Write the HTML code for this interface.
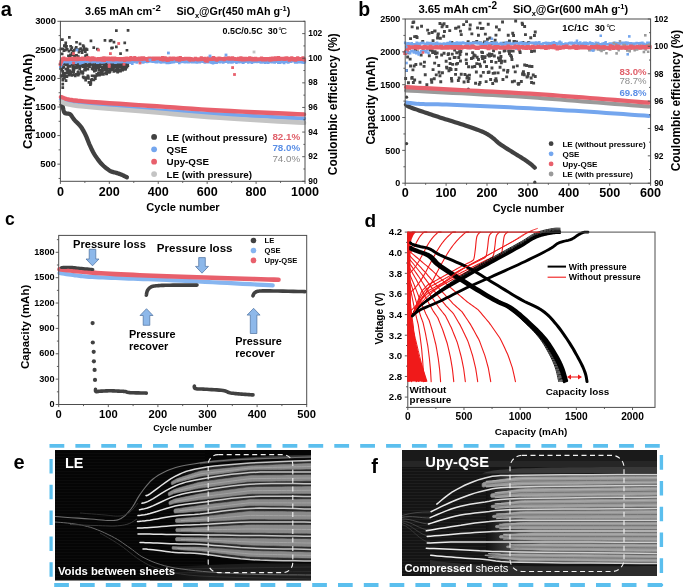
<!DOCTYPE html>
<html><head><meta charset="utf-8"><style>
html,body{margin:0;padding:0;background:#fff;}
svg{display:block;will-change:transform;}
text{font-family:"Liberation Sans",sans-serif;}
</style></head><body>
<svg width="685" height="588" viewBox="0 0 685 588">
<rect width="685" height="588" fill="#fff"/>
<path d="M59.7,74.8h2.7v2.7h-2.7zM59.1,65.5h2.7v2.7h-2.7zM59.7,61.3h2.7v2.7h-2.7zM59.5,62.8h2.7v2.7h-2.7zM59.5,47.5h2.7v2.7h-2.7zM59.8,63.5h2.7v2.7h-2.7zM59.9,74.2h2.7v2.7h-2.7zM59.4,67.4h2.7v2.7h-2.7zM60.4,65.5h2.7v2.7h-2.7zM60.5,68.9h2.7v2.7h-2.7zM60.8,52.5h2.7v2.7h-2.7zM61.7,72.0h2.7v2.7h-2.7zM61.0,38.3h2.7v2.7h-2.7zM61.3,70.0h2.7v2.7h-2.7zM61.3,47.4h2.7v2.7h-2.7zM61.5,77.5h2.7v2.7h-2.7zM61.6,62.6h2.7v2.7h-2.7zM61.2,66.3h2.7v2.7h-2.7zM62.0,60.8h2.7v2.7h-2.7zM61.2,74.4h2.7v2.7h-2.7zM63.1,76.7h2.7v2.7h-2.7zM62.5,65.8h2.7v2.7h-2.7zM62.5,49.4h2.7v2.7h-2.7zM62.5,62.9h2.7v2.7h-2.7zM63.0,73.1h2.7v2.7h-2.7zM63.0,44.2h2.7v2.7h-2.7zM64.1,61.0h2.7v2.7h-2.7zM63.8,71.8h2.7v2.7h-2.7zM63.5,61.2h2.7v2.7h-2.7zM63.7,75.0h2.7v2.7h-2.7zM63.7,75.3h2.7v2.7h-2.7zM63.9,48.9h2.7v2.7h-2.7zM64.6,63.2h2.7v2.7h-2.7zM64.2,44.1h2.7v2.7h-2.7zM64.7,60.7h2.7v2.7h-2.7zM64.4,62.2h2.7v2.7h-2.7zM64.4,45.4h2.7v2.7h-2.7zM64.4,46.1h2.7v2.7h-2.7zM64.5,67.7h2.7v2.7h-2.7zM64.6,59.9h2.7v2.7h-2.7zM65.6,74.7h2.7v2.7h-2.7zM65.2,61.6h2.7v2.7h-2.7zM65.2,45.1h2.7v2.7h-2.7zM65.5,71.6h2.7v2.7h-2.7zM65.4,62.2h2.7v2.7h-2.7zM66.1,69.3h2.7v2.7h-2.7zM65.7,61.0h2.7v2.7h-2.7zM65.5,75.3h2.7v2.7h-2.7zM65.9,48.1h2.7v2.7h-2.7zM66.5,64.9h2.7v2.7h-2.7zM66.4,61.0h2.7v2.7h-2.7zM67.0,71.3h2.7v2.7h-2.7zM66.6,66.5h2.7v2.7h-2.7zM67.4,60.6h2.7v2.7h-2.7zM66.7,63.3h2.7v2.7h-2.7zM67.1,54.4h2.7v2.7h-2.7zM67.0,61.8h2.7v2.7h-2.7zM67.7,72.8h2.7v2.7h-2.7zM67.6,49.8h2.7v2.7h-2.7zM67.7,73.7h2.7v2.7h-2.7zM68.5,70.6h2.7v2.7h-2.7zM68.0,69.2h2.7v2.7h-2.7zM68.3,59.9h2.7v2.7h-2.7zM68.3,69.7h2.7v2.7h-2.7zM69.4,70.4h2.7v2.7h-2.7zM68.8,60.1h2.7v2.7h-2.7zM68.8,55.3h2.7v2.7h-2.7zM68.9,65.0h2.7v2.7h-2.7zM69.1,53.4h2.7v2.7h-2.7zM69.5,71.7h2.7v2.7h-2.7zM69.3,44.9h2.7v2.7h-2.7zM69.6,60.8h2.7v2.7h-2.7zM69.6,61.2h2.7v2.7h-2.7zM69.5,59.8h2.7v2.7h-2.7zM69.8,48.3h2.7v2.7h-2.7zM69.5,73.1h2.7v2.7h-2.7zM70.9,61.6h2.7v2.7h-2.7zM70.3,63.1h2.7v2.7h-2.7zM71.1,70.7h2.7v2.7h-2.7zM70.5,63.0h2.7v2.7h-2.7zM70.5,46.2h2.7v2.7h-2.7zM70.6,74.1h2.7v2.7h-2.7zM70.8,53.2h2.7v2.7h-2.7zM70.8,51.5h2.7v2.7h-2.7zM70.8,70.9h2.7v2.7h-2.7zM70.9,61.8h2.7v2.7h-2.7zM72.1,64.8h2.7v2.7h-2.7zM71.5,53.6h2.7v2.7h-2.7zM71.8,68.2h2.7v2.7h-2.7zM71.8,64.8h2.7v2.7h-2.7zM72.0,61.3h2.7v2.7h-2.7zM72.0,50.1h2.7v2.7h-2.7zM71.6,67.6h2.7v2.7h-2.7zM72.4,70.4h2.7v2.7h-2.7zM72.5,62.9h2.7v2.7h-2.7zM72.8,73.3h2.7v2.7h-2.7zM73.9,74.6h2.7v2.7h-2.7zM73.0,48.9h2.7v2.7h-2.7zM72.7,68.0h2.7v2.7h-2.7zM73.2,54.3h2.7v2.7h-2.7zM72.9,65.9h2.7v2.7h-2.7zM73.7,61.0h2.7v2.7h-2.7zM74.2,61.8h2.7v2.7h-2.7zM74.2,66.1h2.7v2.7h-2.7zM74.2,47.5h2.7v2.7h-2.7zM74.8,73.1h2.7v2.7h-2.7zM74.7,61.4h2.7v2.7h-2.7zM75.2,63.8h2.7v2.7h-2.7zM74.9,46.1h2.7v2.7h-2.7zM75.2,66.5h2.7v2.7h-2.7zM75.2,62.1h2.7v2.7h-2.7zM75.2,54.0h2.7v2.7h-2.7zM76.5,71.3h2.7v2.7h-2.7zM76.5,73.1h2.7v2.7h-2.7zM75.7,63.2h2.7v2.7h-2.7zM76.2,61.2h2.7v2.7h-2.7zM75.9,60.1h2.7v2.7h-2.7zM76.2,60.4h2.7v2.7h-2.7zM76.4,64.0h2.7v2.7h-2.7zM76.9,70.6h2.7v2.7h-2.7zM76.9,73.8h2.7v2.7h-2.7zM76.9,55.2h2.7v2.7h-2.7zM76.7,72.4h2.7v2.7h-2.7zM77.2,65.7h2.7v2.7h-2.7zM77.2,48.2h2.7v2.7h-2.7zM77.0,60.4h2.7v2.7h-2.7zM77.1,71.3h2.7v2.7h-2.7zM77.6,50.9h2.7v2.7h-2.7zM77.9,72.5h2.7v2.7h-2.7zM78.3,67.5h2.7v2.7h-2.7zM78.1,61.3h2.7v2.7h-2.7zM78.0,64.7h2.7v2.7h-2.7zM79.0,60.8h2.7v2.7h-2.7zM78.6,66.0h2.7v2.7h-2.7zM78.5,59.9h2.7v2.7h-2.7zM78.5,59.8h2.7v2.7h-2.7zM79.1,62.7h2.7v2.7h-2.7zM78.9,61.4h2.7v2.7h-2.7zM79.4,63.1h2.7v2.7h-2.7zM79.4,47.2h2.7v2.7h-2.7zM80.2,64.0h2.7v2.7h-2.7zM80.0,70.3h2.7v2.7h-2.7zM79.8,62.8h2.7v2.7h-2.7zM80.2,70.2h2.7v2.7h-2.7zM80.3,64.9h2.7v2.7h-2.7zM80.3,49.4h2.7v2.7h-2.7zM80.3,62.7h2.7v2.7h-2.7zM80.6,63.2h2.7v2.7h-2.7zM80.9,70.9h2.7v2.7h-2.7zM80.8,51.2h2.7v2.7h-2.7zM80.7,71.1h2.7v2.7h-2.7zM81.6,71.3h2.7v2.7h-2.7zM81.3,61.9h2.7v2.7h-2.7zM81.3,72.0h2.7v2.7h-2.7zM81.6,64.9h2.7v2.7h-2.7zM81.8,44.3h2.7v2.7h-2.7zM82.0,64.9h2.7v2.7h-2.7zM82.0,65.4h2.7v2.7h-2.7zM81.8,75.6h2.7v2.7h-2.7zM82.3,48.6h2.7v2.7h-2.7zM82.6,76.5h2.7v2.7h-2.7zM82.5,45.5h2.7v2.7h-2.7zM83.3,63.9h2.7v2.7h-2.7zM82.8,47.6h2.7v2.7h-2.7zM83.1,68.6h2.7v2.7h-2.7zM83.4,68.2h2.7v2.7h-2.7zM83.1,65.3h2.7v2.7h-2.7zM83.5,48.0h2.7v2.7h-2.7zM83.9,76.3h2.7v2.7h-2.7zM84.1,61.3h2.7v2.7h-2.7zM84.0,50.3h2.7v2.7h-2.7zM84.1,68.8h2.7v2.7h-2.7zM84.2,61.8h2.7v2.7h-2.7zM84.2,54.5h2.7v2.7h-2.7zM84.1,67.0h2.7v2.7h-2.7zM84.5,47.5h2.7v2.7h-2.7zM84.8,76.4h2.7v2.7h-2.7zM84.7,47.6h2.7v2.7h-2.7zM84.6,63.8h2.7v2.7h-2.7zM85.8,65.1h2.7v2.7h-2.7zM84.3,78.8h2.7v2.7h-2.7zM85.5,53.6h2.7v2.7h-2.7zM86.0,64.5h2.7v2.7h-2.7zM85.7,63.8h2.7v2.7h-2.7zM85.7,48.3h2.7v2.7h-2.7zM86.5,64.2h2.7v2.7h-2.7zM86.0,63.7h2.7v2.7h-2.7zM86.5,74.5h2.7v2.7h-2.7zM86.6,67.9h2.7v2.7h-2.7zM85.6,63.9h2.7v2.7h-2.7zM87.1,77.0h2.7v2.7h-2.7zM87.6,81.1h2.7v2.7h-2.7zM87.5,62.3h2.7v2.7h-2.7zM87.0,75.5h2.7v2.7h-2.7zM87.7,61.6h2.7v2.7h-2.7zM87.8,59.7h2.7v2.7h-2.7zM87.6,63.5h2.7v2.7h-2.7zM88.2,59.9h2.7v2.7h-2.7zM89.0,83.2h2.7v2.7h-2.7zM88.2,65.2h2.7v2.7h-2.7zM89.2,81.2h2.7v2.7h-2.7zM89.6,59.8h2.7v2.7h-2.7zM89.1,63.0h2.7v2.7h-2.7zM89.5,82.0h2.7v2.7h-2.7zM90.3,61.7h2.7v2.7h-2.7zM89.6,60.0h2.7v2.7h-2.7zM89.6,39.5h2.7v2.7h-2.7zM89.9,78.9h2.7v2.7h-2.7zM90.8,67.5h2.7v2.7h-2.7zM90.1,62.7h2.7v2.7h-2.7zM90.4,62.4h2.7v2.7h-2.7zM90.7,74.4h2.7v2.7h-2.7zM91.0,63.0h2.7v2.7h-2.7zM91.1,74.4h2.7v2.7h-2.7zM90.5,78.0h2.7v2.7h-2.7zM91.4,66.1h2.7v2.7h-2.7zM91.4,65.5h2.7v2.7h-2.7zM92.1,68.0h2.7v2.7h-2.7zM92.5,74.4h2.7v2.7h-2.7zM92.8,64.2h2.7v2.7h-2.7zM92.6,63.8h2.7v2.7h-2.7zM92.6,74.7h2.7v2.7h-2.7zM92.5,78.6h2.7v2.7h-2.7zM93.6,66.4h2.7v2.7h-2.7zM93.0,69.7h2.7v2.7h-2.7zM94.2,74.9h2.7v2.7h-2.7zM93.8,60.9h2.7v2.7h-2.7zM94.4,65.2h2.7v2.7h-2.7zM94.9,69.1h2.7v2.7h-2.7zM94.0,77.3h2.7v2.7h-2.7zM95.1,62.8h2.7v2.7h-2.7zM94.8,66.5h2.7v2.7h-2.7zM94.9,67.0h2.7v2.7h-2.7zM95.0,61.7h2.7v2.7h-2.7zM95.5,74.0h2.7v2.7h-2.7zM95.3,64.1h2.7v2.7h-2.7zM95.5,60.0h2.7v2.7h-2.7zM95.4,72.9h2.7v2.7h-2.7zM95.5,73.0h2.7v2.7h-2.7zM96.0,47.7h2.7v2.7h-2.7zM96.3,66.0h2.7v2.7h-2.7zM96.2,65.9h2.7v2.7h-2.7zM96.3,60.1h2.7v2.7h-2.7zM96.5,63.3h2.7v2.7h-2.7zM96.3,64.8h2.7v2.7h-2.7zM96.9,72.4h2.7v2.7h-2.7zM97.0,65.9h2.7v2.7h-2.7zM97.1,72.0h2.7v2.7h-2.7zM97.2,65.2h2.7v2.7h-2.7zM97.5,63.8h2.7v2.7h-2.7zM98.0,69.1h2.7v2.7h-2.7zM97.7,60.6h2.7v2.7h-2.7zM97.8,62.0h2.7v2.7h-2.7zM97.9,64.0h2.7v2.7h-2.7zM97.4,66.5h2.7v2.7h-2.7zM98.1,73.7h2.7v2.7h-2.7zM98.4,63.1h2.7v2.7h-2.7zM98.4,65.3h2.7v2.7h-2.7zM98.7,64.1h2.7v2.7h-2.7zM99.0,64.2h2.7v2.7h-2.7zM99.0,63.2h2.7v2.7h-2.7zM99.6,70.7h2.7v2.7h-2.7zM100.4,69.2h2.7v2.7h-2.7zM99.7,62.6h2.7v2.7h-2.7zM100.1,73.1h2.7v2.7h-2.7zM101.0,66.0h2.7v2.7h-2.7zM100.7,68.0h2.7v2.7h-2.7zM101.9,73.0h2.7v2.7h-2.7zM100.9,61.0h2.7v2.7h-2.7zM101.0,62.6h2.7v2.7h-2.7zM101.1,60.6h2.7v2.7h-2.7zM101.0,70.4h2.7v2.7h-2.7zM101.5,59.8h2.7v2.7h-2.7zM101.2,69.6h2.7v2.7h-2.7zM101.9,60.1h2.7v2.7h-2.7zM102.5,64.0h2.7v2.7h-2.7zM102.1,61.7h2.7v2.7h-2.7zM101.7,60.6h2.7v2.7h-2.7zM102.1,72.7h2.7v2.7h-2.7zM102.5,65.7h2.7v2.7h-2.7zM103.5,68.3h2.7v2.7h-2.7zM103.1,60.1h2.7v2.7h-2.7zM103.6,65.4h2.7v2.7h-2.7zM103.6,39.0h2.7v2.7h-2.7zM103.7,67.5h2.7v2.7h-2.7zM103.7,62.8h2.7v2.7h-2.7zM104.3,71.3h2.7v2.7h-2.7zM104.3,62.6h2.7v2.7h-2.7zM104.0,67.8h2.7v2.7h-2.7zM104.5,60.1h2.7v2.7h-2.7zM105.1,72.5h2.7v2.7h-2.7zM104.8,65.2h2.7v2.7h-2.7zM105.5,68.6h2.7v2.7h-2.7zM105.7,65.0h2.7v2.7h-2.7zM105.3,72.4h2.7v2.7h-2.7zM105.1,60.3h2.7v2.7h-2.7zM106.2,63.5h2.7v2.7h-2.7zM106.5,67.1h2.7v2.7h-2.7zM106.3,69.9h2.7v2.7h-2.7zM106.5,66.2h2.7v2.7h-2.7zM106.9,66.2h2.7v2.7h-2.7zM107.4,61.3h2.7v2.7h-2.7zM107.7,62.5h2.7v2.7h-2.7zM108.0,71.1h2.7v2.7h-2.7zM108.4,63.9h2.7v2.7h-2.7zM108.2,60.5h2.7v2.7h-2.7zM108.0,61.2h2.7v2.7h-2.7zM108.0,66.6h2.7v2.7h-2.7zM108.6,70.3h2.7v2.7h-2.7zM108.5,69.0h2.7v2.7h-2.7zM108.7,66.3h2.7v2.7h-2.7zM108.7,39.6h2.7v2.7h-2.7zM109.4,61.4h2.7v2.7h-2.7zM108.9,62.4h2.7v2.7h-2.7zM109.2,68.8h2.7v2.7h-2.7zM109.2,62.2h2.7v2.7h-2.7zM110.2,65.2h2.7v2.7h-2.7zM109.4,65.5h2.7v2.7h-2.7zM109.9,67.1h2.7v2.7h-2.7zM109.7,65.6h2.7v2.7h-2.7zM109.4,62.1h2.7v2.7h-2.7zM109.9,38.9h2.7v2.7h-2.7zM110.4,65.0h2.7v2.7h-2.7zM110.2,46.7h2.7v2.7h-2.7zM110.1,64.7h2.7v2.7h-2.7zM110.5,67.4h2.7v2.7h-2.7zM110.7,66.5h2.7v2.7h-2.7zM110.9,66.3h2.7v2.7h-2.7zM110.8,61.1h2.7v2.7h-2.7zM111.1,64.4h2.7v2.7h-2.7zM111.1,46.4h2.7v2.7h-2.7zM111.7,61.9h2.7v2.7h-2.7zM111.5,68.2h2.7v2.7h-2.7zM111.6,66.4h2.7v2.7h-2.7zM112.1,65.5h2.7v2.7h-2.7zM112.1,66.2h2.7v2.7h-2.7zM112.0,60.1h2.7v2.7h-2.7zM111.9,64.4h2.7v2.7h-2.7zM112.6,62.9h2.7v2.7h-2.7zM112.6,40.7h2.7v2.7h-2.7zM112.5,70.1h2.7v2.7h-2.7zM113.4,69.2h2.7v2.7h-2.7zM113.9,60.5h2.7v2.7h-2.7zM113.4,64.0h2.7v2.7h-2.7zM114.2,69.5h2.7v2.7h-2.7zM113.6,65.7h2.7v2.7h-2.7zM112.9,65.4h2.7v2.7h-2.7zM113.8,60.2h2.7v2.7h-2.7zM115.1,69.6h2.7v2.7h-2.7zM114.5,68.7h2.7v2.7h-2.7zM114.8,60.4h2.7v2.7h-2.7zM115.3,63.7h2.7v2.7h-2.7zM115.8,67.8h2.7v2.7h-2.7zM115.3,64.0h2.7v2.7h-2.7zM116.0,69.9h2.7v2.7h-2.7zM116.3,70.7h2.7v2.7h-2.7zM115.8,60.3h2.7v2.7h-2.7zM115.8,65.3h2.7v2.7h-2.7zM116.6,61.7h2.7v2.7h-2.7zM116.5,70.3h2.7v2.7h-2.7zM116.9,68.1h2.7v2.7h-2.7zM116.2,64.5h2.7v2.7h-2.7zM117.7,63.4h2.7v2.7h-2.7zM117.5,62.1h2.7v2.7h-2.7zM117.5,61.1h2.7v2.7h-2.7zM118.1,65.0h2.7v2.7h-2.7zM117.7,63.0h2.7v2.7h-2.7zM119.2,69.9h2.7v2.7h-2.7zM118.1,65.7h2.7v2.7h-2.7zM118.8,68.9h2.7v2.7h-2.7zM119.4,60.1h2.7v2.7h-2.7zM119.2,60.4h2.7v2.7h-2.7zM118.9,60.5h2.7v2.7h-2.7zM119.4,61.3h2.7v2.7h-2.7zM120.0,65.7h2.7v2.7h-2.7zM120.0,60.5h2.7v2.7h-2.7zM120.4,67.5h2.7v2.7h-2.7zM120.4,63.2h2.7v2.7h-2.7zM120.3,67.7h2.7v2.7h-2.7zM121.2,66.4h2.7v2.7h-2.7zM121.0,63.0h2.7v2.7h-2.7zM121.8,61.6h2.7v2.7h-2.7zM121.8,60.5h2.7v2.7h-2.7zM121.3,68.9h2.7v2.7h-2.7zM121.9,64.7h2.7v2.7h-2.7zM122.0,62.1h2.7v2.7h-2.7zM122.2,65.7h2.7v2.7h-2.7zM123.1,62.9h2.7v2.7h-2.7zM122.8,62.7h2.7v2.7h-2.7zM123.1,66.3h2.7v2.7h-2.7zM122.9,61.7h2.7v2.7h-2.7zM122.4,62.5h2.7v2.7h-2.7zM123.1,63.7h2.7v2.7h-2.7zM123.4,41.6h2.7v2.7h-2.7zM123.5,68.0h2.7v2.7h-2.7zM123.6,65.4h2.7v2.7h-2.7zM124.3,67.7h2.7v2.7h-2.7zM124.2,66.5h2.7v2.7h-2.7zM124.4,62.3h2.7v2.7h-2.7zM124.5,65.0h2.7v2.7h-2.7zM124.3,64.4h2.7v2.7h-2.7zM124.8,64.7h2.7v2.7h-2.7zM125.6,61.3h2.7v2.7h-2.7zM124.6,65.8h2.7v2.7h-2.7zM125.6,65.8h2.7v2.7h-2.7zM125.6,48.9h2.7v2.7h-2.7zM126.0,62.3h2.7v2.7h-2.7zM125.8,60.0h2.7v2.7h-2.7zM126.5,64.4h2.7v2.7h-2.7zM126.1,59.8h2.7v2.7h-2.7zM126.6,60.9h2.7v2.7h-2.7zM126.3,63.0h2.7v2.7h-2.7zM126.7,29.1h2.7v2.7h-2.7zM68.0,36.1h2.7v2.7h-2.7zM64.4,41.5h2.7v2.7h-2.7zM75.2,40.9h2.7v2.7h-2.7zM78.7,42.6h2.7v2.7h-2.7zM92.4,46.2h2.7v2.7h-2.7zM115.0,29.3h2.7v2.7h-2.7zM115.0,45.6h2.7v2.7h-2.7zM119.2,52.2h2.7v2.7h-2.7zM61.4,78.7h2.7v2.7h-2.7zM61.4,82.7h2.7v2.7h-2.7zM61.4,86.2h2.7v2.7h-2.7zM64.7,79.2h2.7v2.7h-2.7z" fill="#414141"/>
<path d="M59.2,59.9h2.4v2.4h-2.4zM60.2,59.2h2.4v2.4h-2.4zM61.2,58.0h2.4v2.4h-2.4zM62.1,58.6h2.4v2.4h-2.4zM63.1,59.5h2.4v2.4h-2.4zM64.1,59.8h2.4v2.4h-2.4zM65.1,58.1h2.4v2.4h-2.4zM66.0,58.3h2.4v2.4h-2.4zM67.0,58.4h2.4v2.4h-2.4zM68.0,60.1h2.4v2.4h-2.4zM69.0,59.0h2.4v2.4h-2.4zM70.0,58.2h2.4v2.4h-2.4zM70.9,59.7h2.4v2.4h-2.4zM71.9,58.5h2.4v2.4h-2.4zM72.9,58.6h2.4v2.4h-2.4zM73.9,58.4h2.4v2.4h-2.4zM74.9,58.2h2.4v2.4h-2.4zM75.8,57.7h2.4v2.4h-2.4zM76.8,58.9h2.4v2.4h-2.4zM77.8,59.5h2.4v2.4h-2.4zM78.8,59.4h2.4v2.4h-2.4zM79.7,58.2h2.4v2.4h-2.4zM80.7,60.3h2.4v2.4h-2.4zM81.7,59.5h2.4v2.4h-2.4zM82.7,58.4h2.4v2.4h-2.4zM83.7,59.3h2.4v2.4h-2.4zM84.6,59.2h2.4v2.4h-2.4zM85.6,58.6h2.4v2.4h-2.4zM86.6,58.9h2.4v2.4h-2.4zM87.6,58.4h2.4v2.4h-2.4zM88.6,59.0h2.4v2.4h-2.4zM89.5,59.2h2.4v2.4h-2.4zM90.5,59.3h2.4v2.4h-2.4zM91.5,59.6h2.4v2.4h-2.4zM92.5,58.9h2.4v2.4h-2.4zM93.4,58.7h2.4v2.4h-2.4zM94.4,59.3h2.4v2.4h-2.4zM95.4,58.1h2.4v2.4h-2.4zM96.4,59.5h2.4v2.4h-2.4zM97.4,59.3h2.4v2.4h-2.4zM98.3,59.5h2.4v2.4h-2.4zM99.3,58.8h2.4v2.4h-2.4zM100.3,58.3h2.4v2.4h-2.4zM101.3,59.0h2.4v2.4h-2.4zM102.2,59.5h2.4v2.4h-2.4zM103.2,59.5h2.4v2.4h-2.4zM104.2,58.8h2.4v2.4h-2.4zM105.2,58.9h2.4v2.4h-2.4zM106.2,59.5h2.4v2.4h-2.4zM107.1,59.2h2.4v2.4h-2.4zM108.1,59.4h2.4v2.4h-2.4zM109.1,59.7h2.4v2.4h-2.4zM110.1,59.0h2.4v2.4h-2.4zM111.1,59.0h2.4v2.4h-2.4zM112.0,58.6h2.4v2.4h-2.4zM113.0,57.9h2.4v2.4h-2.4zM114.0,59.0h2.4v2.4h-2.4zM115.0,58.5h2.4v2.4h-2.4zM115.9,58.3h2.4v2.4h-2.4zM116.9,58.8h2.4v2.4h-2.4zM117.9,58.3h2.4v2.4h-2.4zM118.9,58.6h2.4v2.4h-2.4zM119.9,59.6h2.4v2.4h-2.4zM120.8,58.1h2.4v2.4h-2.4zM121.8,59.0h2.4v2.4h-2.4zM122.8,58.4h2.4v2.4h-2.4zM123.8,59.6h2.4v2.4h-2.4zM124.8,59.3h2.4v2.4h-2.4zM125.7,59.0h2.4v2.4h-2.4zM126.7,58.6h2.4v2.4h-2.4zM127.7,58.6h2.4v2.4h-2.4zM128.7,58.4h2.4v2.4h-2.4zM129.6,59.5h2.4v2.4h-2.4zM130.6,58.8h2.4v2.4h-2.4zM131.6,58.3h2.4v2.4h-2.4zM132.6,58.0h2.4v2.4h-2.4zM133.6,59.5h2.4v2.4h-2.4zM134.5,58.1h2.4v2.4h-2.4zM135.5,60.1h2.4v2.4h-2.4zM136.5,59.6h2.4v2.4h-2.4zM137.5,58.3h2.4v2.4h-2.4zM138.5,58.8h2.4v2.4h-2.4zM139.4,57.6h2.4v2.4h-2.4zM140.4,59.9h2.4v2.4h-2.4zM141.4,58.4h2.4v2.4h-2.4zM142.4,59.3h2.4v2.4h-2.4zM143.3,58.6h2.4v2.4h-2.4zM144.3,57.2h2.4v2.4h-2.4zM145.3,59.9h2.4v2.4h-2.4zM146.3,59.4h2.4v2.4h-2.4zM147.3,58.8h2.4v2.4h-2.4zM148.2,58.6h2.4v2.4h-2.4zM149.2,58.4h2.4v2.4h-2.4zM150.2,58.7h2.4v2.4h-2.4zM151.2,58.5h2.4v2.4h-2.4zM152.1,58.0h2.4v2.4h-2.4zM153.1,58.9h2.4v2.4h-2.4zM154.1,59.4h2.4v2.4h-2.4zM155.1,60.1h2.4v2.4h-2.4zM156.1,59.7h2.4v2.4h-2.4zM157.0,59.6h2.4v2.4h-2.4zM158.0,58.9h2.4v2.4h-2.4zM159.0,58.4h2.4v2.4h-2.4zM160.0,60.3h2.4v2.4h-2.4zM161.0,58.8h2.4v2.4h-2.4zM161.9,59.6h2.4v2.4h-2.4zM162.9,59.3h2.4v2.4h-2.4zM163.9,57.3h2.4v2.4h-2.4zM164.9,59.2h2.4v2.4h-2.4zM165.8,59.1h2.4v2.4h-2.4zM166.8,58.2h2.4v2.4h-2.4zM167.8,59.0h2.4v2.4h-2.4zM168.8,60.0h2.4v2.4h-2.4zM169.8,58.1h2.4v2.4h-2.4zM170.7,59.0h2.4v2.4h-2.4zM171.7,58.7h2.4v2.4h-2.4zM172.7,57.7h2.4v2.4h-2.4zM173.7,58.8h2.4v2.4h-2.4zM174.7,58.2h2.4v2.4h-2.4zM175.6,58.6h2.4v2.4h-2.4zM176.6,58.7h2.4v2.4h-2.4zM177.6,58.5h2.4v2.4h-2.4zM178.6,59.9h2.4v2.4h-2.4zM179.5,57.7h2.4v2.4h-2.4zM180.5,58.2h2.4v2.4h-2.4zM181.5,58.4h2.4v2.4h-2.4zM182.5,58.0h2.4v2.4h-2.4zM183.5,57.6h2.4v2.4h-2.4zM184.4,58.1h2.4v2.4h-2.4zM185.4,59.3h2.4v2.4h-2.4zM186.4,58.7h2.4v2.4h-2.4zM187.4,59.2h2.4v2.4h-2.4zM188.3,59.4h2.4v2.4h-2.4zM189.3,58.9h2.4v2.4h-2.4zM190.3,58.4h2.4v2.4h-2.4zM191.3,58.6h2.4v2.4h-2.4zM192.3,58.8h2.4v2.4h-2.4zM193.2,58.6h2.4v2.4h-2.4zM194.2,59.0h2.4v2.4h-2.4zM195.2,59.3h2.4v2.4h-2.4zM196.2,58.6h2.4v2.4h-2.4zM197.2,59.0h2.4v2.4h-2.4zM198.1,58.4h2.4v2.4h-2.4zM199.1,58.8h2.4v2.4h-2.4zM200.1,58.6h2.4v2.4h-2.4zM201.1,58.8h2.4v2.4h-2.4zM202.0,60.0h2.4v2.4h-2.4zM203.0,59.1h2.4v2.4h-2.4zM204.0,60.4h2.4v2.4h-2.4zM205.0,59.1h2.4v2.4h-2.4zM206.0,58.1h2.4v2.4h-2.4zM206.9,59.4h2.4v2.4h-2.4zM207.9,59.4h2.4v2.4h-2.4zM208.9,59.9h2.4v2.4h-2.4zM209.9,58.9h2.4v2.4h-2.4zM210.9,58.4h2.4v2.4h-2.4zM211.8,58.2h2.4v2.4h-2.4zM212.8,58.8h2.4v2.4h-2.4zM213.8,58.8h2.4v2.4h-2.4zM214.8,59.7h2.4v2.4h-2.4zM215.7,59.0h2.4v2.4h-2.4zM216.7,58.6h2.4v2.4h-2.4zM217.7,59.0h2.4v2.4h-2.4zM218.7,59.4h2.4v2.4h-2.4zM219.7,58.7h2.4v2.4h-2.4zM220.6,57.9h2.4v2.4h-2.4zM221.6,58.9h2.4v2.4h-2.4zM222.6,58.6h2.4v2.4h-2.4zM223.6,58.6h2.4v2.4h-2.4zM224.5,58.9h2.4v2.4h-2.4zM225.5,58.3h2.4v2.4h-2.4zM226.5,59.2h2.4v2.4h-2.4zM227.5,58.7h2.4v2.4h-2.4zM228.5,58.8h2.4v2.4h-2.4zM229.4,57.6h2.4v2.4h-2.4zM230.4,59.3h2.4v2.4h-2.4zM231.4,59.4h2.4v2.4h-2.4zM232.4,59.5h2.4v2.4h-2.4zM233.4,58.4h2.4v2.4h-2.4zM234.3,59.6h2.4v2.4h-2.4zM235.3,59.8h2.4v2.4h-2.4zM236.3,59.3h2.4v2.4h-2.4zM237.3,58.5h2.4v2.4h-2.4zM238.2,59.0h2.4v2.4h-2.4zM239.2,58.8h2.4v2.4h-2.4zM240.2,58.7h2.4v2.4h-2.4zM241.2,57.0h2.4v2.4h-2.4zM242.2,59.8h2.4v2.4h-2.4zM243.1,59.6h2.4v2.4h-2.4zM244.1,59.3h2.4v2.4h-2.4zM245.1,58.8h2.4v2.4h-2.4zM246.1,59.4h2.4v2.4h-2.4zM247.1,59.9h2.4v2.4h-2.4zM248.0,58.8h2.4v2.4h-2.4zM249.0,59.6h2.4v2.4h-2.4zM250.0,59.1h2.4v2.4h-2.4zM251.0,59.0h2.4v2.4h-2.4zM251.9,59.1h2.4v2.4h-2.4zM252.9,59.4h2.4v2.4h-2.4zM253.9,58.2h2.4v2.4h-2.4zM254.9,58.5h2.4v2.4h-2.4zM255.9,59.3h2.4v2.4h-2.4zM256.8,58.9h2.4v2.4h-2.4zM257.8,58.4h2.4v2.4h-2.4zM258.8,58.7h2.4v2.4h-2.4zM259.8,59.0h2.4v2.4h-2.4zM260.8,59.1h2.4v2.4h-2.4zM261.7,58.8h2.4v2.4h-2.4zM262.7,59.0h2.4v2.4h-2.4zM263.7,57.8h2.4v2.4h-2.4zM264.7,59.7h2.4v2.4h-2.4zM265.6,59.6h2.4v2.4h-2.4zM266.6,59.6h2.4v2.4h-2.4zM267.6,59.4h2.4v2.4h-2.4zM268.6,59.4h2.4v2.4h-2.4zM269.6,59.6h2.4v2.4h-2.4zM270.5,59.2h2.4v2.4h-2.4zM271.5,59.6h2.4v2.4h-2.4zM272.5,59.5h2.4v2.4h-2.4zM273.5,58.4h2.4v2.4h-2.4zM274.4,59.2h2.4v2.4h-2.4zM275.4,58.8h2.4v2.4h-2.4zM276.4,59.2h2.4v2.4h-2.4zM277.4,59.1h2.4v2.4h-2.4zM278.4,58.6h2.4v2.4h-2.4zM279.3,58.6h2.4v2.4h-2.4zM280.3,59.2h2.4v2.4h-2.4zM281.3,58.8h2.4v2.4h-2.4zM282.3,58.8h2.4v2.4h-2.4zM283.3,59.0h2.4v2.4h-2.4zM284.2,59.0h2.4v2.4h-2.4zM285.2,59.0h2.4v2.4h-2.4zM286.2,59.1h2.4v2.4h-2.4zM287.2,58.8h2.4v2.4h-2.4zM288.1,59.2h2.4v2.4h-2.4zM289.1,58.9h2.4v2.4h-2.4zM290.1,59.4h2.4v2.4h-2.4zM291.1,59.4h2.4v2.4h-2.4zM292.1,58.8h2.4v2.4h-2.4zM293.0,58.6h2.4v2.4h-2.4zM294.0,60.4h2.4v2.4h-2.4zM295.0,58.8h2.4v2.4h-2.4zM296.0,58.9h2.4v2.4h-2.4zM297.0,59.8h2.4v2.4h-2.4zM297.9,59.5h2.4v2.4h-2.4zM298.9,58.8h2.4v2.4h-2.4zM299.9,58.5h2.4v2.4h-2.4zM300.9,59.6h2.4v2.4h-2.4zM301.8,59.0h2.4v2.4h-2.4zM302.8,58.2h2.4v2.4h-2.4z" fill="#c4c4c4"/>
<path d="M59.1,65.5h2.6v2.6h-2.6zM59.8,64.1h2.6v2.6h-2.6zM60.6,62.6h2.6v2.6h-2.6zM61.3,61.1h2.6v2.6h-2.6zM62.0,59.2h2.6v2.6h-2.6zM62.8,59.5h2.6v2.6h-2.6zM63.5,60.6h2.6v2.6h-2.6zM64.2,60.6h2.6v2.6h-2.6zM65.0,60.8h2.6v2.6h-2.6zM65.7,60.2h2.6v2.6h-2.6zM66.4,60.2h2.6v2.6h-2.6zM67.2,60.6h2.6v2.6h-2.6zM67.9,60.3h2.6v2.6h-2.6zM68.6,61.8h2.6v2.6h-2.6zM69.4,60.9h2.6v2.6h-2.6zM70.1,59.6h2.6v2.6h-2.6zM70.8,61.4h2.6v2.6h-2.6zM71.6,60.5h2.6v2.6h-2.6zM72.3,60.5h2.6v2.6h-2.6zM73.0,60.4h2.6v2.6h-2.6zM73.8,60.2h2.6v2.6h-2.6zM74.5,61.5h2.6v2.6h-2.6zM75.2,60.3h2.6v2.6h-2.6zM76.0,60.3h2.6v2.6h-2.6zM76.7,60.6h2.6v2.6h-2.6zM77.4,60.1h2.6v2.6h-2.6zM78.2,60.5h2.6v2.6h-2.6zM78.9,62.1h2.6v2.6h-2.6zM79.6,60.7h2.6v2.6h-2.6zM80.4,61.4h2.6v2.6h-2.6zM81.1,60.8h2.6v2.6h-2.6zM81.8,61.2h2.6v2.6h-2.6zM82.6,60.2h2.6v2.6h-2.6zM83.3,60.0h2.6v2.6h-2.6zM84.0,60.2h2.6v2.6h-2.6zM84.8,60.5h2.6v2.6h-2.6zM85.5,59.3h2.6v2.6h-2.6zM86.3,60.4h2.6v2.6h-2.6zM87.0,60.6h2.6v2.6h-2.6zM87.7,59.3h2.6v2.6h-2.6zM88.5,60.2h2.6v2.6h-2.6zM89.2,60.2h2.6v2.6h-2.6zM89.9,59.8h2.6v2.6h-2.6zM90.7,60.8h2.6v2.6h-2.6zM91.4,60.5h2.6v2.6h-2.6zM92.1,60.5h2.6v2.6h-2.6zM92.9,59.9h2.6v2.6h-2.6zM93.6,59.6h2.6v2.6h-2.6zM94.3,60.5h2.6v2.6h-2.6zM95.1,60.2h2.6v2.6h-2.6zM95.8,61.4h2.6v2.6h-2.6zM96.5,61.5h2.6v2.6h-2.6zM97.3,59.4h2.6v2.6h-2.6zM98.0,60.5h2.6v2.6h-2.6zM98.7,61.0h2.6v2.6h-2.6zM99.5,60.6h2.6v2.6h-2.6zM100.2,60.8h2.6v2.6h-2.6zM100.9,61.1h2.6v2.6h-2.6zM101.7,60.6h2.6v2.6h-2.6zM102.4,60.8h2.6v2.6h-2.6zM103.1,60.6h2.6v2.6h-2.6zM103.9,60.4h2.6v2.6h-2.6zM104.6,60.2h2.6v2.6h-2.6zM105.3,59.9h2.6v2.6h-2.6zM106.1,60.1h2.6v2.6h-2.6zM106.8,59.8h2.6v2.6h-2.6zM107.5,61.4h2.6v2.6h-2.6zM108.3,61.0h2.6v2.6h-2.6zM109.0,60.8h2.6v2.6h-2.6zM109.7,59.9h2.6v2.6h-2.6zM110.5,60.9h2.6v2.6h-2.6zM111.2,59.4h2.6v2.6h-2.6zM111.9,60.3h2.6v2.6h-2.6zM112.7,60.9h2.6v2.6h-2.6zM113.4,60.8h2.6v2.6h-2.6zM114.1,61.4h2.6v2.6h-2.6zM114.9,60.0h2.6v2.6h-2.6zM115.6,60.8h2.6v2.6h-2.6zM116.3,59.5h2.6v2.6h-2.6zM117.1,59.8h2.6v2.6h-2.6zM117.8,60.9h2.6v2.6h-2.6zM118.5,60.0h2.6v2.6h-2.6zM119.3,60.9h2.6v2.6h-2.6zM120.0,60.8h2.6v2.6h-2.6zM120.7,60.5h2.6v2.6h-2.6zM121.5,59.5h2.6v2.6h-2.6zM122.2,59.4h2.6v2.6h-2.6zM122.9,60.4h2.6v2.6h-2.6zM123.7,60.9h2.6v2.6h-2.6zM124.4,59.3h2.6v2.6h-2.6zM125.1,60.6h2.6v2.6h-2.6zM125.9,60.2h2.6v2.6h-2.6zM126.6,61.2h2.6v2.6h-2.6zM127.3,60.9h2.6v2.6h-2.6zM128.1,59.6h2.6v2.6h-2.6zM128.8,61.5h2.6v2.6h-2.6zM129.5,60.4h2.6v2.6h-2.6zM130.3,60.6h2.6v2.6h-2.6zM131.0,62.3h2.6v2.6h-2.6zM131.7,59.5h2.6v2.6h-2.6zM132.5,60.7h2.6v2.6h-2.6zM133.2,60.0h2.6v2.6h-2.6zM133.9,59.4h2.6v2.6h-2.6zM134.7,60.1h2.6v2.6h-2.6zM135.4,61.1h2.6v2.6h-2.6zM136.1,59.7h2.6v2.6h-2.6zM136.9,59.6h2.6v2.6h-2.6zM137.6,59.7h2.6v2.6h-2.6zM138.4,60.7h2.6v2.6h-2.6zM139.1,60.2h2.6v2.6h-2.6zM139.8,61.0h2.6v2.6h-2.6zM140.6,60.3h2.6v2.6h-2.6zM141.3,60.8h2.6v2.6h-2.6zM142.0,61.1h2.6v2.6h-2.6zM142.8,59.4h2.6v2.6h-2.6zM143.5,60.5h2.6v2.6h-2.6zM144.2,59.3h2.6v2.6h-2.6zM145.0,60.5h2.6v2.6h-2.6zM145.7,60.6h2.6v2.6h-2.6zM146.4,60.5h2.6v2.6h-2.6zM147.2,60.0h2.6v2.6h-2.6zM147.9,60.1h2.6v2.6h-2.6zM148.6,59.7h2.6v2.6h-2.6zM149.4,59.8h2.6v2.6h-2.6zM150.1,59.6h2.6v2.6h-2.6zM150.8,60.2h2.6v2.6h-2.6zM151.6,60.5h2.6v2.6h-2.6zM152.3,59.9h2.6v2.6h-2.6zM153.0,60.4h2.6v2.6h-2.6zM153.8,60.1h2.6v2.6h-2.6zM154.5,60.8h2.6v2.6h-2.6zM155.2,60.5h2.6v2.6h-2.6zM156.0,60.9h2.6v2.6h-2.6zM156.7,58.8h2.6v2.6h-2.6zM157.4,58.8h2.6v2.6h-2.6zM158.2,60.0h2.6v2.6h-2.6zM158.9,60.6h2.6v2.6h-2.6zM159.6,61.2h2.6v2.6h-2.6zM160.4,60.5h2.6v2.6h-2.6zM161.1,61.0h2.6v2.6h-2.6zM161.8,60.3h2.6v2.6h-2.6zM162.6,61.0h2.6v2.6h-2.6zM163.3,60.1h2.6v2.6h-2.6zM164.0,61.0h2.6v2.6h-2.6zM164.8,60.8h2.6v2.6h-2.6zM165.5,61.6h2.6v2.6h-2.6zM166.2,59.5h2.6v2.6h-2.6zM167.0,61.6h2.6v2.6h-2.6zM167.7,61.5h2.6v2.6h-2.6zM168.4,61.3h2.6v2.6h-2.6zM169.2,59.9h2.6v2.6h-2.6zM169.9,61.1h2.6v2.6h-2.6zM170.6,60.9h2.6v2.6h-2.6zM171.4,60.2h2.6v2.6h-2.6zM172.1,61.0h2.6v2.6h-2.6zM172.8,60.6h2.6v2.6h-2.6zM173.6,60.2h2.6v2.6h-2.6zM174.3,60.1h2.6v2.6h-2.6zM175.0,60.2h2.6v2.6h-2.6zM175.8,60.2h2.6v2.6h-2.6zM176.5,60.4h2.6v2.6h-2.6zM177.2,59.0h2.6v2.6h-2.6zM178.0,61.6h2.6v2.6h-2.6zM178.7,59.7h2.6v2.6h-2.6zM179.4,60.7h2.6v2.6h-2.6zM180.2,60.4h2.6v2.6h-2.6zM180.9,58.6h2.6v2.6h-2.6zM181.6,59.4h2.6v2.6h-2.6zM182.4,60.6h2.6v2.6h-2.6zM183.1,60.2h2.6v2.6h-2.6zM183.8,60.8h2.6v2.6h-2.6zM184.6,60.4h2.6v2.6h-2.6zM185.3,60.7h2.6v2.6h-2.6zM186.0,60.3h2.6v2.6h-2.6zM186.8,61.0h2.6v2.6h-2.6zM187.5,60.9h2.6v2.6h-2.6zM188.2,60.4h2.6v2.6h-2.6zM189.0,60.5h2.6v2.6h-2.6zM189.7,59.8h2.6v2.6h-2.6zM190.5,60.9h2.6v2.6h-2.6zM191.2,60.2h2.6v2.6h-2.6zM191.9,60.9h2.6v2.6h-2.6zM192.7,60.4h2.6v2.6h-2.6zM193.4,60.8h2.6v2.6h-2.6zM194.1,60.5h2.6v2.6h-2.6zM194.9,58.8h2.6v2.6h-2.6zM195.6,61.1h2.6v2.6h-2.6zM196.3,60.0h2.6v2.6h-2.6zM197.1,60.8h2.6v2.6h-2.6zM197.8,60.3h2.6v2.6h-2.6zM198.5,60.8h2.6v2.6h-2.6zM199.3,60.1h2.6v2.6h-2.6zM200.0,59.6h2.6v2.6h-2.6zM200.7,60.0h2.6v2.6h-2.6zM201.5,60.3h2.6v2.6h-2.6zM202.2,59.6h2.6v2.6h-2.6zM202.9,60.7h2.6v2.6h-2.6zM203.7,61.1h2.6v2.6h-2.6zM204.4,60.7h2.6v2.6h-2.6zM205.1,60.5h2.6v2.6h-2.6zM205.9,60.5h2.6v2.6h-2.6zM206.6,60.8h2.6v2.6h-2.6zM207.3,60.1h2.6v2.6h-2.6zM208.1,60.9h2.6v2.6h-2.6zM208.8,58.9h2.6v2.6h-2.6zM209.5,60.1h2.6v2.6h-2.6zM210.3,61.3h2.6v2.6h-2.6zM211.0,60.5h2.6v2.6h-2.6zM211.7,61.8h2.6v2.6h-2.6zM212.5,59.9h2.6v2.6h-2.6zM213.2,61.0h2.6v2.6h-2.6zM213.9,61.3h2.6v2.6h-2.6zM214.7,60.5h2.6v2.6h-2.6zM215.4,61.3h2.6v2.6h-2.6zM216.1,60.2h2.6v2.6h-2.6zM216.9,60.7h2.6v2.6h-2.6zM217.6,59.8h2.6v2.6h-2.6zM218.3,60.0h2.6v2.6h-2.6zM219.1,60.9h2.6v2.6h-2.6zM219.8,60.1h2.6v2.6h-2.6zM220.5,60.0h2.6v2.6h-2.6zM221.3,59.5h2.6v2.6h-2.6zM222.0,61.2h2.6v2.6h-2.6zM222.7,59.6h2.6v2.6h-2.6zM223.5,59.7h2.6v2.6h-2.6zM224.2,60.3h2.6v2.6h-2.6zM224.9,58.7h2.6v2.6h-2.6zM225.7,60.4h2.6v2.6h-2.6zM226.4,60.4h2.6v2.6h-2.6zM227.1,61.1h2.6v2.6h-2.6zM227.9,60.1h2.6v2.6h-2.6zM228.6,59.9h2.6v2.6h-2.6zM229.3,60.6h2.6v2.6h-2.6zM230.1,61.2h2.6v2.6h-2.6zM230.8,59.3h2.6v2.6h-2.6zM231.5,60.8h2.6v2.6h-2.6zM232.3,59.4h2.6v2.6h-2.6zM233.0,60.1h2.6v2.6h-2.6zM233.7,60.0h2.6v2.6h-2.6zM234.5,60.3h2.6v2.6h-2.6zM235.2,61.5h2.6v2.6h-2.6zM235.9,60.4h2.6v2.6h-2.6zM236.7,60.0h2.6v2.6h-2.6zM237.4,60.0h2.6v2.6h-2.6zM238.1,60.8h2.6v2.6h-2.6zM238.9,59.1h2.6v2.6h-2.6zM239.6,60.2h2.6v2.6h-2.6zM240.3,60.5h2.6v2.6h-2.6zM241.1,61.0h2.6v2.6h-2.6zM241.8,61.4h2.6v2.6h-2.6zM242.5,60.8h2.6v2.6h-2.6zM243.3,60.3h2.6v2.6h-2.6zM244.0,60.5h2.6v2.6h-2.6zM244.8,60.1h2.6v2.6h-2.6zM245.5,59.4h2.6v2.6h-2.6zM246.2,59.9h2.6v2.6h-2.6zM247.0,61.2h2.6v2.6h-2.6zM247.7,59.4h2.6v2.6h-2.6zM248.4,59.7h2.6v2.6h-2.6zM249.2,60.5h2.6v2.6h-2.6zM249.9,60.7h2.6v2.6h-2.6zM250.6,61.3h2.6v2.6h-2.6zM251.4,60.5h2.6v2.6h-2.6zM252.1,60.3h2.6v2.6h-2.6zM252.8,60.7h2.6v2.6h-2.6zM253.6,60.4h2.6v2.6h-2.6zM254.3,60.5h2.6v2.6h-2.6zM255.0,60.4h2.6v2.6h-2.6zM255.8,60.7h2.6v2.6h-2.6zM256.5,60.4h2.6v2.6h-2.6zM257.2,59.3h2.6v2.6h-2.6zM258.0,59.6h2.6v2.6h-2.6zM258.7,60.3h2.6v2.6h-2.6zM259.4,61.1h2.6v2.6h-2.6zM260.2,61.1h2.6v2.6h-2.6zM260.9,60.8h2.6v2.6h-2.6zM261.6,60.1h2.6v2.6h-2.6zM262.4,60.5h2.6v2.6h-2.6zM263.1,60.9h2.6v2.6h-2.6zM263.8,61.3h2.6v2.6h-2.6zM264.6,60.9h2.6v2.6h-2.6zM265.3,60.0h2.6v2.6h-2.6zM266.0,60.6h2.6v2.6h-2.6zM266.8,61.4h2.6v2.6h-2.6zM267.5,60.9h2.6v2.6h-2.6zM268.2,60.1h2.6v2.6h-2.6zM269.0,60.1h2.6v2.6h-2.6zM269.7,60.5h2.6v2.6h-2.6zM270.4,61.0h2.6v2.6h-2.6zM271.2,60.0h2.6v2.6h-2.6zM271.9,60.9h2.6v2.6h-2.6zM272.6,60.7h2.6v2.6h-2.6zM273.4,61.2h2.6v2.6h-2.6zM274.1,59.9h2.6v2.6h-2.6zM274.8,59.9h2.6v2.6h-2.6zM275.6,60.3h2.6v2.6h-2.6zM276.3,60.1h2.6v2.6h-2.6zM277.0,61.3h2.6v2.6h-2.6zM277.8,60.1h2.6v2.6h-2.6zM278.5,61.4h2.6v2.6h-2.6zM279.2,60.6h2.6v2.6h-2.6zM280.0,60.6h2.6v2.6h-2.6zM280.7,60.8h2.6v2.6h-2.6zM281.4,59.7h2.6v2.6h-2.6zM282.2,58.7h2.6v2.6h-2.6zM282.9,61.7h2.6v2.6h-2.6zM283.6,60.2h2.6v2.6h-2.6zM284.4,59.7h2.6v2.6h-2.6zM285.1,60.5h2.6v2.6h-2.6zM285.8,60.0h2.6v2.6h-2.6zM286.6,61.2h2.6v2.6h-2.6zM287.3,60.8h2.6v2.6h-2.6zM288.0,59.7h2.6v2.6h-2.6zM288.8,59.7h2.6v2.6h-2.6zM289.5,60.4h2.6v2.6h-2.6zM290.2,59.7h2.6v2.6h-2.6zM291.0,59.8h2.6v2.6h-2.6zM291.7,60.0h2.6v2.6h-2.6zM292.4,59.3h2.6v2.6h-2.6zM293.2,60.0h2.6v2.6h-2.6zM293.9,61.2h2.6v2.6h-2.6zM294.6,59.5h2.6v2.6h-2.6zM295.4,61.2h2.6v2.6h-2.6zM296.1,60.1h2.6v2.6h-2.6zM296.9,61.0h2.6v2.6h-2.6zM297.6,60.7h2.6v2.6h-2.6zM298.3,59.7h2.6v2.6h-2.6zM299.1,61.0h2.6v2.6h-2.6zM299.8,60.5h2.6v2.6h-2.6zM300.5,60.6h2.6v2.6h-2.6zM301.3,61.2h2.6v2.6h-2.6zM302.0,60.3h2.6v2.6h-2.6zM302.7,61.5h2.6v2.6h-2.6zM303.5,60.6h2.6v2.6h-2.6z" fill="#74a6ee"/>
<path d="M58.8,62.8h3.2v3.2h-3.2zM59.3,61.4h3.2v3.2h-3.2zM59.8,60.1h3.2v3.2h-3.2zM60.3,58.7h3.2v3.2h-3.2zM60.8,57.2h3.2v3.2h-3.2zM61.2,57.6h3.2v3.2h-3.2zM61.7,57.2h3.2v3.2h-3.2zM62.2,56.6h3.2v3.2h-3.2zM62.7,57.7h3.2v3.2h-3.2zM63.2,57.4h3.2v3.2h-3.2zM63.7,57.3h3.2v3.2h-3.2zM64.2,57.4h3.2v3.2h-3.2zM64.7,57.6h3.2v3.2h-3.2zM65.2,58.0h3.2v3.2h-3.2zM65.6,57.4h3.2v3.2h-3.2zM66.1,57.8h3.2v3.2h-3.2zM66.6,58.1h3.2v3.2h-3.2zM67.1,57.7h3.2v3.2h-3.2zM67.6,56.9h3.2v3.2h-3.2zM68.1,57.1h3.2v3.2h-3.2zM68.6,57.1h3.2v3.2h-3.2zM69.1,57.0h3.2v3.2h-3.2zM69.6,57.6h3.2v3.2h-3.2zM70.1,57.5h3.2v3.2h-3.2zM70.5,57.8h3.2v3.2h-3.2zM71.0,57.5h3.2v3.2h-3.2zM71.5,57.7h3.2v3.2h-3.2zM72.0,56.8h3.2v3.2h-3.2zM72.5,57.8h3.2v3.2h-3.2zM73.0,57.6h3.2v3.2h-3.2zM73.5,56.8h3.2v3.2h-3.2zM74.0,57.2h3.2v3.2h-3.2zM74.5,57.4h3.2v3.2h-3.2zM74.9,57.4h3.2v3.2h-3.2zM75.4,58.1h3.2v3.2h-3.2zM75.9,56.4h3.2v3.2h-3.2zM76.4,56.8h3.2v3.2h-3.2zM76.9,57.6h3.2v3.2h-3.2zM77.4,57.8h3.2v3.2h-3.2zM77.9,57.1h3.2v3.2h-3.2zM78.4,57.7h3.2v3.2h-3.2zM78.9,56.9h3.2v3.2h-3.2zM79.3,57.0h3.2v3.2h-3.2zM79.8,57.5h3.2v3.2h-3.2zM80.3,57.4h3.2v3.2h-3.2zM80.8,56.5h3.2v3.2h-3.2zM81.3,57.8h3.2v3.2h-3.2zM81.8,57.3h3.2v3.2h-3.2zM82.3,56.9h3.2v3.2h-3.2zM82.8,57.4h3.2v3.2h-3.2zM83.3,57.4h3.2v3.2h-3.2zM83.7,57.2h3.2v3.2h-3.2zM84.2,57.5h3.2v3.2h-3.2zM84.7,56.7h3.2v3.2h-3.2zM85.2,57.5h3.2v3.2h-3.2zM85.7,57.9h3.2v3.2h-3.2zM86.2,55.9h3.2v3.2h-3.2zM86.7,57.7h3.2v3.2h-3.2zM87.2,57.0h3.2v3.2h-3.2zM87.7,57.1h3.2v3.2h-3.2zM88.2,57.5h3.2v3.2h-3.2zM88.6,58.3h3.2v3.2h-3.2zM89.1,56.6h3.2v3.2h-3.2zM89.6,56.6h3.2v3.2h-3.2zM90.1,57.0h3.2v3.2h-3.2zM90.6,57.3h3.2v3.2h-3.2zM91.1,56.3h3.2v3.2h-3.2zM91.6,58.1h3.2v3.2h-3.2zM92.1,57.0h3.2v3.2h-3.2zM92.6,56.8h3.2v3.2h-3.2zM93.0,57.4h3.2v3.2h-3.2zM93.5,57.8h3.2v3.2h-3.2zM94.0,57.9h3.2v3.2h-3.2zM94.5,58.0h3.2v3.2h-3.2zM95.0,58.0h3.2v3.2h-3.2zM95.5,57.5h3.2v3.2h-3.2zM96.0,58.4h3.2v3.2h-3.2zM96.5,56.9h3.2v3.2h-3.2zM97.0,57.9h3.2v3.2h-3.2zM97.4,57.0h3.2v3.2h-3.2zM97.9,57.2h3.2v3.2h-3.2zM98.4,58.4h3.2v3.2h-3.2zM98.9,57.7h3.2v3.2h-3.2zM99.4,58.0h3.2v3.2h-3.2zM99.9,57.1h3.2v3.2h-3.2zM100.4,56.7h3.2v3.2h-3.2zM100.9,58.6h3.2v3.2h-3.2zM101.4,57.2h3.2v3.2h-3.2zM101.8,57.5h3.2v3.2h-3.2zM102.3,56.3h3.2v3.2h-3.2zM102.8,58.7h3.2v3.2h-3.2zM103.3,57.0h3.2v3.2h-3.2zM103.8,57.2h3.2v3.2h-3.2zM104.3,57.5h3.2v3.2h-3.2zM104.8,57.5h3.2v3.2h-3.2zM105.3,56.4h3.2v3.2h-3.2zM105.8,57.7h3.2v3.2h-3.2zM106.3,57.2h3.2v3.2h-3.2zM106.7,57.8h3.2v3.2h-3.2zM107.2,56.5h3.2v3.2h-3.2zM107.7,58.1h3.2v3.2h-3.2zM108.2,58.1h3.2v3.2h-3.2zM108.7,57.1h3.2v3.2h-3.2zM109.2,57.4h3.2v3.2h-3.2zM109.7,57.4h3.2v3.2h-3.2zM110.2,57.5h3.2v3.2h-3.2zM110.7,56.5h3.2v3.2h-3.2zM111.1,57.8h3.2v3.2h-3.2zM111.6,58.2h3.2v3.2h-3.2zM112.1,58.0h3.2v3.2h-3.2zM112.6,57.5h3.2v3.2h-3.2zM113.1,56.6h3.2v3.2h-3.2zM113.6,58.0h3.2v3.2h-3.2zM114.1,57.3h3.2v3.2h-3.2zM114.6,57.3h3.2v3.2h-3.2zM115.1,57.0h3.2v3.2h-3.2zM115.5,57.1h3.2v3.2h-3.2zM116.0,57.3h3.2v3.2h-3.2zM116.5,58.0h3.2v3.2h-3.2zM117.0,57.8h3.2v3.2h-3.2zM117.5,57.8h3.2v3.2h-3.2zM118.0,56.9h3.2v3.2h-3.2zM118.5,58.4h3.2v3.2h-3.2zM119.0,58.3h3.2v3.2h-3.2zM119.5,58.2h3.2v3.2h-3.2zM120.0,56.9h3.2v3.2h-3.2zM120.4,57.4h3.2v3.2h-3.2zM120.9,57.0h3.2v3.2h-3.2zM121.4,56.9h3.2v3.2h-3.2zM121.9,57.7h3.2v3.2h-3.2zM122.4,57.7h3.2v3.2h-3.2zM122.9,58.8h3.2v3.2h-3.2zM123.4,56.7h3.2v3.2h-3.2zM123.9,57.8h3.2v3.2h-3.2zM124.4,56.8h3.2v3.2h-3.2zM124.8,58.2h3.2v3.2h-3.2zM125.3,56.6h3.2v3.2h-3.2zM125.8,57.0h3.2v3.2h-3.2zM126.3,57.7h3.2v3.2h-3.2zM126.8,57.3h3.2v3.2h-3.2zM127.3,58.4h3.2v3.2h-3.2zM127.8,56.9h3.2v3.2h-3.2zM128.3,58.1h3.2v3.2h-3.2zM128.8,57.4h3.2v3.2h-3.2zM129.2,56.1h3.2v3.2h-3.2zM129.7,57.7h3.2v3.2h-3.2zM130.2,57.2h3.2v3.2h-3.2zM130.7,57.7h3.2v3.2h-3.2zM131.2,56.8h3.2v3.2h-3.2zM131.7,56.8h3.2v3.2h-3.2zM132.2,56.7h3.2v3.2h-3.2zM132.7,57.7h3.2v3.2h-3.2zM133.2,56.1h3.2v3.2h-3.2zM133.6,58.1h3.2v3.2h-3.2zM134.1,57.4h3.2v3.2h-3.2zM134.6,57.0h3.2v3.2h-3.2zM135.1,57.5h3.2v3.2h-3.2zM135.6,57.2h3.2v3.2h-3.2zM136.1,57.4h3.2v3.2h-3.2zM136.6,57.3h3.2v3.2h-3.2zM137.1,58.1h3.2v3.2h-3.2zM137.6,56.6h3.2v3.2h-3.2zM138.1,56.8h3.2v3.2h-3.2zM138.5,57.0h3.2v3.2h-3.2zM139.0,57.0h3.2v3.2h-3.2zM139.5,57.0h3.2v3.2h-3.2zM140.0,57.8h3.2v3.2h-3.2zM140.5,56.3h3.2v3.2h-3.2zM141.0,57.2h3.2v3.2h-3.2zM141.5,56.7h3.2v3.2h-3.2zM142.0,56.2h3.2v3.2h-3.2zM142.5,57.2h3.2v3.2h-3.2zM142.9,57.5h3.2v3.2h-3.2zM143.4,57.0h3.2v3.2h-3.2zM143.9,56.9h3.2v3.2h-3.2zM144.4,57.5h3.2v3.2h-3.2zM144.9,57.0h3.2v3.2h-3.2zM145.4,57.9h3.2v3.2h-3.2zM145.9,58.8h3.2v3.2h-3.2zM146.4,57.3h3.2v3.2h-3.2zM146.9,58.6h3.2v3.2h-3.2zM147.3,56.7h3.2v3.2h-3.2zM147.8,56.4h3.2v3.2h-3.2zM148.3,57.1h3.2v3.2h-3.2zM148.8,57.8h3.2v3.2h-3.2zM149.3,56.7h3.2v3.2h-3.2zM149.8,57.6h3.2v3.2h-3.2zM150.3,57.0h3.2v3.2h-3.2zM150.8,57.7h3.2v3.2h-3.2zM151.3,56.4h3.2v3.2h-3.2zM151.7,57.0h3.2v3.2h-3.2zM152.2,57.7h3.2v3.2h-3.2zM152.7,57.2h3.2v3.2h-3.2zM153.2,57.4h3.2v3.2h-3.2zM153.7,56.6h3.2v3.2h-3.2zM154.2,57.1h3.2v3.2h-3.2zM154.7,56.9h3.2v3.2h-3.2zM155.2,56.7h3.2v3.2h-3.2zM155.7,57.0h3.2v3.2h-3.2zM156.2,57.0h3.2v3.2h-3.2zM156.6,56.6h3.2v3.2h-3.2zM157.1,57.1h3.2v3.2h-3.2zM157.6,56.6h3.2v3.2h-3.2zM158.1,57.1h3.2v3.2h-3.2zM158.6,57.4h3.2v3.2h-3.2zM159.1,57.9h3.2v3.2h-3.2zM159.6,57.4h3.2v3.2h-3.2zM160.1,57.4h3.2v3.2h-3.2zM160.6,57.6h3.2v3.2h-3.2zM161.0,56.1h3.2v3.2h-3.2zM161.5,58.3h3.2v3.2h-3.2zM162.0,57.3h3.2v3.2h-3.2zM162.5,57.8h3.2v3.2h-3.2zM163.0,57.3h3.2v3.2h-3.2zM163.5,56.3h3.2v3.2h-3.2zM164.0,57.0h3.2v3.2h-3.2zM164.5,56.8h3.2v3.2h-3.2zM165.0,57.5h3.2v3.2h-3.2zM165.4,58.7h3.2v3.2h-3.2zM165.9,58.0h3.2v3.2h-3.2zM166.4,58.1h3.2v3.2h-3.2zM166.9,58.5h3.2v3.2h-3.2zM167.4,57.2h3.2v3.2h-3.2zM167.9,57.3h3.2v3.2h-3.2zM168.4,56.6h3.2v3.2h-3.2zM168.9,57.1h3.2v3.2h-3.2zM169.4,57.5h3.2v3.2h-3.2zM169.8,57.9h3.2v3.2h-3.2zM170.3,57.3h3.2v3.2h-3.2zM170.8,57.6h3.2v3.2h-3.2zM171.3,57.0h3.2v3.2h-3.2zM171.8,56.4h3.2v3.2h-3.2zM172.3,57.0h3.2v3.2h-3.2zM172.8,56.9h3.2v3.2h-3.2zM173.3,56.8h3.2v3.2h-3.2zM173.8,57.1h3.2v3.2h-3.2zM174.3,57.0h3.2v3.2h-3.2zM174.7,57.2h3.2v3.2h-3.2zM175.2,58.1h3.2v3.2h-3.2zM175.7,58.0h3.2v3.2h-3.2zM176.2,57.4h3.2v3.2h-3.2zM176.7,56.6h3.2v3.2h-3.2zM177.2,57.6h3.2v3.2h-3.2zM177.7,58.5h3.2v3.2h-3.2zM178.2,58.0h3.2v3.2h-3.2zM178.7,55.9h3.2v3.2h-3.2zM179.1,57.9h3.2v3.2h-3.2zM179.6,57.0h3.2v3.2h-3.2zM180.1,57.1h3.2v3.2h-3.2zM180.6,57.9h3.2v3.2h-3.2zM181.1,57.9h3.2v3.2h-3.2zM181.6,56.9h3.2v3.2h-3.2zM182.1,57.6h3.2v3.2h-3.2zM182.6,57.5h3.2v3.2h-3.2zM183.1,57.0h3.2v3.2h-3.2zM183.5,57.3h3.2v3.2h-3.2zM184.0,56.7h3.2v3.2h-3.2zM184.5,57.3h3.2v3.2h-3.2zM185.0,57.1h3.2v3.2h-3.2zM185.5,57.3h3.2v3.2h-3.2zM186.0,56.9h3.2v3.2h-3.2zM186.5,56.8h3.2v3.2h-3.2zM187.0,57.6h3.2v3.2h-3.2zM187.5,56.7h3.2v3.2h-3.2zM187.9,57.7h3.2v3.2h-3.2zM188.4,58.5h3.2v3.2h-3.2zM188.9,57.2h3.2v3.2h-3.2zM189.4,56.9h3.2v3.2h-3.2zM189.9,57.4h3.2v3.2h-3.2zM190.4,57.6h3.2v3.2h-3.2zM190.9,57.5h3.2v3.2h-3.2zM191.4,57.4h3.2v3.2h-3.2zM191.9,58.2h3.2v3.2h-3.2zM192.4,57.7h3.2v3.2h-3.2zM192.8,57.7h3.2v3.2h-3.2zM193.3,57.6h3.2v3.2h-3.2zM193.8,56.8h3.2v3.2h-3.2zM194.3,57.0h3.2v3.2h-3.2zM194.8,57.6h3.2v3.2h-3.2zM195.3,57.7h3.2v3.2h-3.2zM195.8,57.8h3.2v3.2h-3.2zM196.3,58.2h3.2v3.2h-3.2zM196.8,58.0h3.2v3.2h-3.2zM197.2,57.6h3.2v3.2h-3.2zM197.7,57.8h3.2v3.2h-3.2zM198.2,57.3h3.2v3.2h-3.2zM198.7,58.1h3.2v3.2h-3.2zM199.2,57.3h3.2v3.2h-3.2zM199.7,56.3h3.2v3.2h-3.2zM200.2,57.3h3.2v3.2h-3.2zM200.7,57.8h3.2v3.2h-3.2zM201.2,57.8h3.2v3.2h-3.2zM201.6,57.1h3.2v3.2h-3.2zM202.1,57.1h3.2v3.2h-3.2zM202.6,57.4h3.2v3.2h-3.2zM203.1,57.5h3.2v3.2h-3.2zM203.6,56.7h3.2v3.2h-3.2zM204.1,57.7h3.2v3.2h-3.2zM204.6,57.6h3.2v3.2h-3.2zM205.1,57.6h3.2v3.2h-3.2zM205.6,59.5h3.2v3.2h-3.2zM206.0,57.5h3.2v3.2h-3.2zM206.5,58.1h3.2v3.2h-3.2zM207.0,56.6h3.2v3.2h-3.2zM207.5,57.5h3.2v3.2h-3.2zM208.0,56.7h3.2v3.2h-3.2zM208.5,57.4h3.2v3.2h-3.2zM209.0,57.8h3.2v3.2h-3.2zM209.5,57.2h3.2v3.2h-3.2zM210.0,57.3h3.2v3.2h-3.2zM210.5,57.7h3.2v3.2h-3.2zM210.9,56.7h3.2v3.2h-3.2zM211.4,56.6h3.2v3.2h-3.2zM211.9,56.0h3.2v3.2h-3.2zM212.4,57.6h3.2v3.2h-3.2zM212.9,56.7h3.2v3.2h-3.2zM213.4,56.8h3.2v3.2h-3.2zM213.9,57.4h3.2v3.2h-3.2zM214.4,58.0h3.2v3.2h-3.2zM214.9,57.5h3.2v3.2h-3.2zM215.3,58.5h3.2v3.2h-3.2zM215.8,57.7h3.2v3.2h-3.2zM216.3,57.5h3.2v3.2h-3.2zM216.8,57.3h3.2v3.2h-3.2zM217.3,56.5h3.2v3.2h-3.2zM217.8,57.4h3.2v3.2h-3.2zM218.3,56.8h3.2v3.2h-3.2zM218.8,57.5h3.2v3.2h-3.2zM219.3,57.3h3.2v3.2h-3.2zM219.7,57.5h3.2v3.2h-3.2zM220.2,57.3h3.2v3.2h-3.2zM220.7,57.3h3.2v3.2h-3.2zM221.2,56.9h3.2v3.2h-3.2zM221.7,57.3h3.2v3.2h-3.2zM222.2,57.1h3.2v3.2h-3.2zM222.7,58.0h3.2v3.2h-3.2zM223.2,57.2h3.2v3.2h-3.2zM223.7,56.6h3.2v3.2h-3.2zM224.1,57.0h3.2v3.2h-3.2zM224.6,56.5h3.2v3.2h-3.2zM225.1,56.9h3.2v3.2h-3.2zM225.6,57.2h3.2v3.2h-3.2zM226.1,57.0h3.2v3.2h-3.2zM226.6,57.1h3.2v3.2h-3.2zM227.1,56.2h3.2v3.2h-3.2zM227.6,56.4h3.2v3.2h-3.2zM228.1,57.6h3.2v3.2h-3.2zM228.6,57.1h3.2v3.2h-3.2zM229.0,56.9h3.2v3.2h-3.2zM229.5,57.5h3.2v3.2h-3.2zM230.0,57.6h3.2v3.2h-3.2zM230.5,56.7h3.2v3.2h-3.2zM231.0,56.3h3.2v3.2h-3.2zM231.5,57.2h3.2v3.2h-3.2zM232.0,56.9h3.2v3.2h-3.2zM232.5,56.9h3.2v3.2h-3.2zM233.0,57.1h3.2v3.2h-3.2zM233.4,57.6h3.2v3.2h-3.2zM233.9,57.8h3.2v3.2h-3.2zM234.4,57.3h3.2v3.2h-3.2zM234.9,57.5h3.2v3.2h-3.2zM235.4,57.5h3.2v3.2h-3.2zM235.9,57.5h3.2v3.2h-3.2zM236.4,57.7h3.2v3.2h-3.2zM236.9,56.7h3.2v3.2h-3.2zM237.4,57.6h3.2v3.2h-3.2zM237.8,58.0h3.2v3.2h-3.2zM238.3,57.8h3.2v3.2h-3.2zM238.8,57.8h3.2v3.2h-3.2zM239.3,56.3h3.2v3.2h-3.2zM239.8,57.0h3.2v3.2h-3.2zM240.3,57.2h3.2v3.2h-3.2zM240.8,58.3h3.2v3.2h-3.2zM241.3,57.3h3.2v3.2h-3.2zM241.8,57.9h3.2v3.2h-3.2zM242.2,56.8h3.2v3.2h-3.2zM242.7,57.9h3.2v3.2h-3.2zM243.2,58.3h3.2v3.2h-3.2zM243.7,57.5h3.2v3.2h-3.2zM244.2,56.7h3.2v3.2h-3.2zM244.7,57.2h3.2v3.2h-3.2zM245.2,58.0h3.2v3.2h-3.2zM245.7,56.9h3.2v3.2h-3.2zM246.2,57.1h3.2v3.2h-3.2zM246.7,57.2h3.2v3.2h-3.2zM247.1,57.1h3.2v3.2h-3.2zM247.6,58.0h3.2v3.2h-3.2zM248.1,56.2h3.2v3.2h-3.2zM248.6,57.4h3.2v3.2h-3.2zM249.1,57.6h3.2v3.2h-3.2zM249.6,57.7h3.2v3.2h-3.2zM250.1,56.8h3.2v3.2h-3.2zM250.6,57.6h3.2v3.2h-3.2zM251.1,58.2h3.2v3.2h-3.2zM251.5,58.0h3.2v3.2h-3.2zM252.0,57.7h3.2v3.2h-3.2zM252.5,57.1h3.2v3.2h-3.2zM253.0,57.1h3.2v3.2h-3.2zM253.5,58.4h3.2v3.2h-3.2zM254.0,56.8h3.2v3.2h-3.2zM254.5,58.3h3.2v3.2h-3.2zM255.0,57.9h3.2v3.2h-3.2zM255.5,57.2h3.2v3.2h-3.2zM255.9,57.2h3.2v3.2h-3.2zM256.4,57.6h3.2v3.2h-3.2zM256.9,58.0h3.2v3.2h-3.2zM257.4,57.5h3.2v3.2h-3.2zM257.9,57.4h3.2v3.2h-3.2zM258.4,57.8h3.2v3.2h-3.2zM258.9,57.6h3.2v3.2h-3.2zM259.4,57.1h3.2v3.2h-3.2zM259.9,56.5h3.2v3.2h-3.2zM260.4,56.9h3.2v3.2h-3.2zM260.8,58.3h3.2v3.2h-3.2zM261.3,57.2h3.2v3.2h-3.2zM261.8,57.1h3.2v3.2h-3.2zM262.3,58.4h3.2v3.2h-3.2zM262.8,57.5h3.2v3.2h-3.2zM263.3,56.9h3.2v3.2h-3.2zM263.8,58.0h3.2v3.2h-3.2zM264.3,58.3h3.2v3.2h-3.2zM264.8,57.1h3.2v3.2h-3.2zM265.2,57.3h3.2v3.2h-3.2zM265.7,56.9h3.2v3.2h-3.2zM266.2,57.6h3.2v3.2h-3.2zM266.7,57.4h3.2v3.2h-3.2zM267.2,57.4h3.2v3.2h-3.2zM267.7,57.6h3.2v3.2h-3.2zM268.2,58.5h3.2v3.2h-3.2zM268.7,57.1h3.2v3.2h-3.2zM269.2,56.7h3.2v3.2h-3.2zM269.6,58.4h3.2v3.2h-3.2zM270.1,57.6h3.2v3.2h-3.2zM270.6,57.5h3.2v3.2h-3.2zM271.1,56.5h3.2v3.2h-3.2zM271.6,57.7h3.2v3.2h-3.2zM272.1,58.1h3.2v3.2h-3.2zM272.6,56.7h3.2v3.2h-3.2zM273.1,57.9h3.2v3.2h-3.2zM273.6,58.0h3.2v3.2h-3.2zM274.0,56.2h3.2v3.2h-3.2zM274.5,56.5h3.2v3.2h-3.2zM275.0,57.8h3.2v3.2h-3.2zM275.5,57.1h3.2v3.2h-3.2zM276.0,57.5h3.2v3.2h-3.2zM276.5,57.8h3.2v3.2h-3.2zM277.0,56.1h3.2v3.2h-3.2zM277.5,57.8h3.2v3.2h-3.2zM278.0,56.8h3.2v3.2h-3.2zM278.5,57.5h3.2v3.2h-3.2zM278.9,56.9h3.2v3.2h-3.2zM279.4,56.8h3.2v3.2h-3.2zM279.9,57.4h3.2v3.2h-3.2zM280.4,57.4h3.2v3.2h-3.2zM280.9,57.5h3.2v3.2h-3.2zM281.4,56.8h3.2v3.2h-3.2zM281.9,57.4h3.2v3.2h-3.2zM282.4,57.3h3.2v3.2h-3.2zM282.9,57.9h3.2v3.2h-3.2zM283.3,57.7h3.2v3.2h-3.2zM283.8,56.6h3.2v3.2h-3.2zM284.3,57.0h3.2v3.2h-3.2zM284.8,57.4h3.2v3.2h-3.2zM285.3,56.3h3.2v3.2h-3.2zM285.8,57.2h3.2v3.2h-3.2zM286.3,57.0h3.2v3.2h-3.2zM286.8,57.2h3.2v3.2h-3.2zM287.3,57.0h3.2v3.2h-3.2zM287.7,58.5h3.2v3.2h-3.2zM288.2,57.7h3.2v3.2h-3.2zM288.7,58.0h3.2v3.2h-3.2zM289.2,56.7h3.2v3.2h-3.2zM289.7,57.8h3.2v3.2h-3.2zM290.2,56.3h3.2v3.2h-3.2zM290.7,57.2h3.2v3.2h-3.2zM291.2,58.1h3.2v3.2h-3.2zM291.7,58.1h3.2v3.2h-3.2zM292.1,57.4h3.2v3.2h-3.2zM292.6,58.2h3.2v3.2h-3.2zM293.1,57.0h3.2v3.2h-3.2zM293.6,58.1h3.2v3.2h-3.2zM294.1,58.6h3.2v3.2h-3.2zM294.6,57.3h3.2v3.2h-3.2zM295.1,57.7h3.2v3.2h-3.2zM295.6,57.2h3.2v3.2h-3.2zM296.1,56.2h3.2v3.2h-3.2zM296.6,57.7h3.2v3.2h-3.2zM297.0,57.2h3.2v3.2h-3.2zM297.5,57.7h3.2v3.2h-3.2zM298.0,57.6h3.2v3.2h-3.2zM298.5,57.4h3.2v3.2h-3.2zM299.0,57.0h3.2v3.2h-3.2zM299.5,57.7h3.2v3.2h-3.2zM300.0,57.2h3.2v3.2h-3.2zM300.5,57.9h3.2v3.2h-3.2zM301.0,57.8h3.2v3.2h-3.2zM301.4,56.3h3.2v3.2h-3.2zM301.9,57.6h3.2v3.2h-3.2zM302.4,57.2h3.2v3.2h-3.2zM302.9,58.2h3.2v3.2h-3.2z" fill="#e8606c"/>
<path d="M231.2,66.2h2.8v2.8h-2.8z" fill="#e8606c"/>
<path d="M233.1,73.1h2.8v2.8h-2.8z" fill="#e8606c"/>
<path d="M167.0,51.6h2.8v2.8h-2.8z" fill="#74a6ee"/>
<path d="M224.6,53.6h2.8v2.8h-2.8z" fill="#74a6ee"/>
<path d="M72.1,52.2h2.8v2.8h-2.8z" fill="#e8606c"/>
<path d="M97.1,48.6h2.8v2.8h-2.8z" fill="#e8606c"/>
<path d="M109.0,52.2h2.8v2.8h-2.8z" fill="#e8606c"/>
<path d="M117.3,42.1h2.8v2.8h-2.8z" fill="#e8606c"/>
<path d="M72.1,61.6h2.8v2.8h-2.8z" fill="#e8606c"/>
<path d="M107.8,63.5h2.8v2.8h-2.8z" fill="#e8606c"/>
<path d="M107.8,65.1h2.8v2.8h-2.8z" fill="#e8606c"/>
<path d="M122.6,62.9h2.8v2.8h-2.8z" fill="#e8606c"/>
<path d="M75.6,48.6h2.8v2.8h-2.8z" fill="#74a6ee"/>
<path d="M252.6,50.6h2.8v2.8h-2.8z" fill="#c4c4c4"/>
<path d="M208.6,54.6h2.8v2.8h-2.8z" fill="#74a6ee"/>
<path d="M203.6,59.6h2.8v2.8h-2.8z" fill="#e8606c"/>
<path d="M138.6,61.6h2.8v2.8h-2.8z" fill="#e8606c"/>
<path d="M148.6,58.6h2.8v2.8h-2.8z" fill="#74a6ee"/>
<polyline points="61.40,104.80 61.49,104.92 61.62,105.05 61.77,105.21 61.94,105.40 62.11,105.62 62.29,105.87 62.45,106.17 62.60,106.50 62.73,106.90 62.86,107.37 62.98,107.90 63.10,108.45 63.22,109.01 63.34,109.55 63.47,110.06 63.60,110.50 63.73,110.90 63.86,111.28 63.99,111.63 64.12,111.96 64.26,112.27 64.42,112.54 64.60,112.79 64.80,113.00 65.03,113.16 65.27,113.28 65.54,113.35 65.82,113.40 66.12,113.44 66.43,113.47 66.76,113.52 67.10,113.60 67.46,113.67 67.84,113.70 68.23,113.72 68.64,113.75 69.07,113.82 69.50,113.95 69.95,114.17 70.40,114.50 70.85,114.95 71.29,115.50 71.74,116.13 72.20,116.83 72.69,117.57 73.21,118.34 73.78,119.12 74.40,119.90 75.10,120.68 75.89,121.48 76.73,122.31 77.60,123.16 78.48,124.03 79.34,124.93 80.15,125.85 80.90,126.80 81.59,127.78 82.24,128.78 82.86,129.82 83.46,130.88 84.03,131.95 84.60,133.05 85.15,134.17 85.70,135.30 86.23,136.46 86.74,137.64 87.22,138.85 87.69,140.08 88.17,141.32 88.66,142.55 89.16,143.78 89.70,145.00 90.25,146.20 90.81,147.40 91.37,148.60 91.94,149.80 92.55,151.00 93.19,152.20 93.87,153.40 94.60,154.60 95.39,155.83 96.24,157.09 97.13,158.37 98.05,159.64 99.00,160.89 99.96,162.10 100.93,163.24 101.90,164.30 102.89,165.30 103.91,166.25 104.95,167.17 106.01,168.03 107.05,168.83 108.08,169.56 109.06,170.22 110.00,170.80 110.89,171.28 111.76,171.65 112.60,171.93 113.42,172.16 114.21,172.34 114.97,172.51 115.70,172.69 116.40,172.90 117.05,173.12 117.65,173.31 118.20,173.49 118.73,173.66 119.26,173.84 119.80,174.03 120.38,174.25 121.00,174.50 121.72,174.80 122.52,175.16 123.38,175.55 124.24,175.95 125.06,176.34 125.81,176.69 126.44,176.98 126.90,177.20" fill="none" stroke="#414141" stroke-width="4.3" stroke-linecap="round" stroke-linejoin="round" />
<polyline points="61.00,99.50 61.95,99.79 62.81,100.16 63.80,100.61 65.12,101.11 67.00,101.66 69.62,102.24 73.22,102.86 78.00,103.50 84.20,104.19 91.73,104.96 100.28,105.77 109.56,106.62 119.27,107.47 129.12,108.30 138.79,109.08 148.00,109.80 156.82,110.45 165.58,111.06 174.33,111.63 183.12,112.17 192.03,112.71 201.11,113.23 210.41,113.76 220.00,114.30 230.50,114.88 242.12,115.49 254.31,116.12 266.50,116.73 278.12,117.31 288.62,117.83 297.44,118.27 304.00,118.60" fill="none" stroke="#74a6ee" stroke-width="4.2" stroke-linecap="round" stroke-linejoin="round" stroke-linecap="butt"/>
<polyline points="61.00,97.00 61.92,97.29 62.74,97.66 63.68,98.10 64.96,98.59 66.78,99.13 69.36,99.68 72.93,100.25 77.70,100.80 83.91,101.36 91.47,101.95 100.06,102.56 109.39,103.19 119.16,103.82 129.05,104.46 138.76,105.08 148.00,105.70 156.84,106.31 165.60,106.93 174.35,107.55 183.14,108.16 192.05,108.77 201.12,109.37 210.41,109.94 220.00,110.50 230.50,111.06 242.12,111.63 254.31,112.20 266.50,112.75 278.12,113.26 288.62,113.72 297.44,114.11 304.00,114.40" fill="none" stroke="#e8606c" stroke-width="4.4" stroke-linecap="round" stroke-linejoin="round" stroke-linecap="butt"/>
<polyline points="61.00,101.60 61.92,101.92 62.74,102.34 63.68,102.83 64.96,103.38 66.78,103.98 69.36,104.61 72.93,105.26 77.70,105.90 83.91,106.56 91.47,107.26 100.06,107.99 109.39,108.74 119.16,109.51 129.05,110.28 138.76,111.05 148.00,111.80 156.84,112.55 165.60,113.32 174.35,114.09 183.14,114.86 192.05,115.62 201.12,116.37 210.41,117.10 220.00,117.80 230.50,118.51 242.12,119.24 254.31,119.97 266.50,120.67 278.12,121.34 288.62,121.92 297.44,122.42 304.00,122.80" fill="none" stroke="#c4c4c4" stroke-width="4.6" stroke-linecap="round" stroke-linejoin="round" stroke-linecap="butt"/>
<rect x="60.40" y="21.30" width="244.60" height="160.00" fill="none" stroke="#4d4d4d" stroke-width="1.0"/>
<line x1="57.40" y1="164.16" x2="60.40" y2="164.16" stroke="#4d4d4d" stroke-width="0.9"/>
<line x1="57.40" y1="135.59" x2="60.40" y2="135.59" stroke="#4d4d4d" stroke-width="0.9"/>
<line x1="57.40" y1="107.01" x2="60.40" y2="107.01" stroke="#4d4d4d" stroke-width="0.9"/>
<line x1="57.40" y1="78.44" x2="60.40" y2="78.44" stroke="#4d4d4d" stroke-width="0.9"/>
<line x1="57.40" y1="49.87" x2="60.40" y2="49.87" stroke="#4d4d4d" stroke-width="0.9"/>
<line x1="57.40" y1="21.30" x2="60.40" y2="21.30" stroke="#4d4d4d" stroke-width="0.9"/>
<line x1="58.60" y1="178.44" x2="60.40" y2="178.44" stroke="#4d4d4d" stroke-width="0.9"/>
<line x1="58.60" y1="149.87" x2="60.40" y2="149.87" stroke="#4d4d4d" stroke-width="0.9"/>
<line x1="58.60" y1="121.30" x2="60.40" y2="121.30" stroke="#4d4d4d" stroke-width="0.9"/>
<line x1="58.60" y1="92.73" x2="60.40" y2="92.73" stroke="#4d4d4d" stroke-width="0.9"/>
<line x1="58.60" y1="64.16" x2="60.40" y2="64.16" stroke="#4d4d4d" stroke-width="0.9"/>
<line x1="58.60" y1="35.59" x2="60.40" y2="35.59" stroke="#4d4d4d" stroke-width="0.9"/>
<line x1="302.20" y1="181.30" x2="305.00" y2="181.30" stroke="#4d4d4d" stroke-width="0.9"/>
<line x1="302.20" y1="156.68" x2="305.00" y2="156.68" stroke="#4d4d4d" stroke-width="0.9"/>
<line x1="302.20" y1="132.07" x2="305.00" y2="132.07" stroke="#4d4d4d" stroke-width="0.9"/>
<line x1="302.20" y1="107.45" x2="305.00" y2="107.45" stroke="#4d4d4d" stroke-width="0.9"/>
<line x1="302.20" y1="82.84" x2="305.00" y2="82.84" stroke="#4d4d4d" stroke-width="0.9"/>
<line x1="302.20" y1="58.22" x2="305.00" y2="58.22" stroke="#4d4d4d" stroke-width="0.9"/>
<line x1="302.20" y1="33.61" x2="305.00" y2="33.61" stroke="#4d4d4d" stroke-width="0.9"/>
<line x1="303.40" y1="168.99" x2="305.00" y2="168.99" stroke="#4d4d4d" stroke-width="0.9"/>
<line x1="303.40" y1="144.38" x2="305.00" y2="144.38" stroke="#4d4d4d" stroke-width="0.9"/>
<line x1="303.40" y1="119.76" x2="305.00" y2="119.76" stroke="#4d4d4d" stroke-width="0.9"/>
<line x1="303.40" y1="95.15" x2="305.00" y2="95.15" stroke="#4d4d4d" stroke-width="0.9"/>
<line x1="303.40" y1="70.53" x2="305.00" y2="70.53" stroke="#4d4d4d" stroke-width="0.9"/>
<line x1="303.40" y1="45.92" x2="305.00" y2="45.92" stroke="#4d4d4d" stroke-width="0.9"/>
<line x1="303.40" y1="21.30" x2="305.00" y2="21.30" stroke="#4d4d4d" stroke-width="0.9"/>
<line x1="60.40" y1="181.30" x2="60.40" y2="183.90" stroke="#4d4d4d" stroke-width="0.9"/>
<line x1="109.32" y1="181.30" x2="109.32" y2="183.90" stroke="#4d4d4d" stroke-width="0.9"/>
<line x1="158.24" y1="181.30" x2="158.24" y2="183.90" stroke="#4d4d4d" stroke-width="0.9"/>
<line x1="207.16" y1="181.30" x2="207.16" y2="183.90" stroke="#4d4d4d" stroke-width="0.9"/>
<line x1="256.08" y1="181.30" x2="256.08" y2="183.90" stroke="#4d4d4d" stroke-width="0.9"/>
<line x1="305.00" y1="181.30" x2="305.00" y2="183.90" stroke="#4d4d4d" stroke-width="0.9"/>
<line x1="84.86" y1="181.30" x2="84.86" y2="182.90" stroke="#4d4d4d" stroke-width="0.9"/>
<line x1="133.78" y1="181.30" x2="133.78" y2="182.90" stroke="#4d4d4d" stroke-width="0.9"/>
<line x1="182.70" y1="181.30" x2="182.70" y2="182.90" stroke="#4d4d4d" stroke-width="0.9"/>
<line x1="231.62" y1="181.30" x2="231.62" y2="182.90" stroke="#4d4d4d" stroke-width="0.9"/>
<line x1="280.54" y1="181.30" x2="280.54" y2="182.90" stroke="#4d4d4d" stroke-width="0.9"/>
<text x="56.00" y="166.86" font-size="9.4" font-weight="bold" text-anchor="end" fill="#000" >500</text>
<text x="56.00" y="138.29" font-size="9.4" font-weight="bold" text-anchor="end" fill="#000" >1000</text>
<text x="56.00" y="109.71" font-size="9.4" font-weight="bold" text-anchor="end" fill="#000" >1500</text>
<text x="56.00" y="81.14" font-size="9.4" font-weight="bold" text-anchor="end" fill="#000" >2000</text>
<text x="56.00" y="52.57" font-size="9.4" font-weight="bold" text-anchor="end" fill="#000" >2500</text>
<text x="56.00" y="24.00" font-size="9.4" font-weight="bold" text-anchor="end" fill="#000" >3000</text>
<text x="308.30" y="183.80" font-size="8.4" font-weight="bold" text-anchor="start" fill="#000" >90</text>
<text x="308.30" y="159.18" font-size="8.4" font-weight="bold" text-anchor="start" fill="#000" >92</text>
<text x="308.30" y="134.57" font-size="8.4" font-weight="bold" text-anchor="start" fill="#000" >94</text>
<text x="308.30" y="109.95" font-size="8.4" font-weight="bold" text-anchor="start" fill="#000" >96</text>
<text x="308.30" y="85.34" font-size="8.4" font-weight="bold" text-anchor="start" fill="#000" >98</text>
<text x="308.30" y="60.72" font-size="8.4" font-weight="bold" text-anchor="start" fill="#000" >100</text>
<text x="308.30" y="36.11" font-size="8.4" font-weight="bold" text-anchor="start" fill="#000" >102</text>
<text x="60.40" y="195.70" font-size="12.6" font-weight="bold" text-anchor="middle" fill="#000" >0</text>
<text x="109.32" y="195.70" font-size="12.6" font-weight="bold" text-anchor="middle" fill="#000" >200</text>
<text x="158.24" y="195.70" font-size="12.6" font-weight="bold" text-anchor="middle" fill="#000" >400</text>
<text x="207.16" y="195.70" font-size="12.6" font-weight="bold" text-anchor="middle" fill="#000" >600</text>
<text x="256.08" y="195.70" font-size="12.6" font-weight="bold" text-anchor="middle" fill="#000" >800</text>
<text x="305.00" y="195.70" font-size="12.6" font-weight="bold" text-anchor="middle" fill="#000" >1000</text>
<text x="183.00" y="210.80" font-size="11.1" font-weight="bold" text-anchor="middle" fill="#000" >Cycle number</text>
<text transform="translate(31.8,101.3) rotate(-90)" font-size="13" font-weight="bold" text-anchor="middle">Capacity (mAh)</text>
<text transform="translate(336.6,104.2) rotate(-90)" font-size="11.95" font-weight="bold" text-anchor="middle">Coulombic efficiency (%)</text>
<text x="0.80" y="16.10" font-size="20" font-weight="bold" text-anchor="start" fill="#000" >a</text>
<text x="85.10" y="15.40" font-size="10.9" font-weight="bold" text-anchor="start" fill="#000" >3.65 mAh cm<tspan dy="-4.2" font-size="9.6">-2</tspan></text>
<text x="176.40" y="15.40" font-size="10.75" font-weight="bold" text-anchor="start" fill="#000" >SiO<tspan dy="2.5" font-size="7.5">x</tspan><tspan dy="-2.5">@Gr(450 mAh g</tspan><tspan dy="-4" font-size="7.5">-1</tspan><tspan dy="4">)</tspan></text>
<text transform="translate(222.50,33.90) scale(1.0,0.93)" font-size="8.95" font-weight="bold" text-anchor="start" fill="#000" >0.5C/0.5C&#160;&#160;30<tspan font-weight="normal" dx="0.6">&#176;</tspan><tspan font-weight="normal" dx="-1.2">C</tspan></text>
<circle cx="154.1" cy="136.90" r="2.9" fill="#414141"/>
<text x="166.60" y="140.50" font-size="9.8" font-weight="bold" text-anchor="start" fill="#000" >LE (without pressure)</text>
<circle cx="154.1" cy="149.30" r="2.9" fill="#74a6ee"/>
<text x="166.60" y="152.90" font-size="9.8" font-weight="bold" text-anchor="start" fill="#000" >QSE</text>
<circle cx="154.1" cy="161.70" r="2.9" fill="#e8606c"/>
<text x="166.60" y="165.30" font-size="9.8" font-weight="bold" text-anchor="start" fill="#000" >Upy-QSE</text>
<circle cx="154.1" cy="174.10" r="2.9" fill="#c4c4c4"/>
<text x="166.60" y="177.70" font-size="9.8" font-weight="bold" text-anchor="start" fill="#000" >LE (with pressure)</text>
<text x="300.20" y="139.50" font-size="9.8" font-weight="bold" text-anchor="end" fill="#e0606a" >82.1%</text>
<text x="300.20" y="150.60" font-size="9.8" font-weight="bold" text-anchor="end" fill="#5b8fe6" >78.0%</text>
<text x="300.20" y="161.70" font-size="9.8" font-weight="normal" text-anchor="end" fill="#8a8a8a" >74.0%</text>
<path d="M403.8,51.9h2.9v2.9h-2.9zM404.2,77.1h2.9v2.9h-2.9zM405.0,69.0h2.9v2.9h-2.9zM405.4,48.7h2.9v2.9h-2.9zM406.2,55.5h2.9v2.9h-2.9zM406.6,51.3h2.9v2.9h-2.9zM407.0,81.3h2.9v2.9h-2.9zM408.7,57.7h2.9v2.9h-2.9zM409.1,37.2h2.9v2.9h-2.9zM409.1,64.5h2.9v2.9h-2.9zM410.3,76.8h2.9v2.9h-2.9zM410.7,25.4h2.9v2.9h-2.9zM410.7,75.9h2.9v2.9h-2.9zM411.5,21.2h2.9v2.9h-2.9zM411.5,68.4h2.9v2.9h-2.9zM411.9,81.0h2.9v2.9h-2.9zM412.3,20.6h2.9v2.9h-2.9zM412.7,64.6h2.9v2.9h-2.9zM413.2,35.2h2.9v2.9h-2.9zM413.2,78.5h2.9v2.9h-2.9zM414.0,48.6h2.9v2.9h-2.9zM414.4,63.1h2.9v2.9h-2.9zM414.8,35.1h2.9v2.9h-2.9zM415.6,36.0h2.9v2.9h-2.9zM416.0,26.6h2.9v2.9h-2.9zM416.0,50.6h2.9v2.9h-2.9zM418.5,80.8h2.9v2.9h-2.9zM419.3,62.6h2.9v2.9h-2.9zM419.7,53.5h2.9v2.9h-2.9zM420.1,24.8h2.9v2.9h-2.9zM421.3,40.0h2.9v2.9h-2.9zM421.7,49.2h2.9v2.9h-2.9zM422.6,64.9h2.9v2.9h-2.9zM423.0,60.7h2.9v2.9h-2.9zM423.8,73.3h2.9v2.9h-2.9zM425.4,83.3h2.9v2.9h-2.9zM426.2,28.7h2.9v2.9h-2.9zM427.5,31.9h2.9v2.9h-2.9zM427.9,54.3h2.9v2.9h-2.9zM427.9,54.4h2.9v2.9h-2.9zM428.7,48.6h2.9v2.9h-2.9zM429.9,78.3h2.9v2.9h-2.9zM430.3,80.8h2.9v2.9h-2.9zM430.7,31.1h2.9v2.9h-2.9zM430.7,49.2h2.9v2.9h-2.9zM431.2,51.0h2.9v2.9h-2.9zM431.6,39.2h2.9v2.9h-2.9zM431.6,68.2h2.9v2.9h-2.9zM432.8,77.3h2.9v2.9h-2.9zM433.2,29.5h2.9v2.9h-2.9zM433.2,61.7h2.9v2.9h-2.9zM433.6,29.5h2.9v2.9h-2.9zM433.6,50.2h2.9v2.9h-2.9zM434.0,52.2h2.9v2.9h-2.9zM434.8,42.5h2.9v2.9h-2.9zM434.8,73.4h2.9v2.9h-2.9zM435.2,55.7h2.9v2.9h-2.9zM435.7,51.6h2.9v2.9h-2.9zM436.1,36.5h2.9v2.9h-2.9zM436.5,33.6h2.9v2.9h-2.9zM436.9,32.4h2.9v2.9h-2.9zM437.3,64.1h2.9v2.9h-2.9zM437.7,70.8h2.9v2.9h-2.9zM438.5,22.1h2.9v2.9h-2.9zM438.5,74.3h2.9v2.9h-2.9zM438.9,36.8h2.9v2.9h-2.9zM439.3,80.3h2.9v2.9h-2.9zM440.2,53.5h2.9v2.9h-2.9zM440.6,25.4h2.9v2.9h-2.9zM441.0,71.3h2.9v2.9h-2.9zM441.4,23.5h2.9v2.9h-2.9zM442.2,34.8h2.9v2.9h-2.9zM442.6,22.3h2.9v2.9h-2.9zM442.6,51.8h2.9v2.9h-2.9zM443.0,30.1h2.9v2.9h-2.9zM444.7,59.8h2.9v2.9h-2.9zM445.1,65.7h2.9v2.9h-2.9zM445.5,25.0h2.9v2.9h-2.9zM445.5,66.5h2.9v2.9h-2.9zM446.7,53.0h2.9v2.9h-2.9zM447.1,52.2h2.9v2.9h-2.9zM447.5,69.3h2.9v2.9h-2.9zM448.3,29.2h2.9v2.9h-2.9zM448.3,57.2h2.9v2.9h-2.9zM448.7,66.9h2.9v2.9h-2.9zM448.7,62.0h2.9v2.9h-2.9zM449.6,68.1h2.9v2.9h-2.9zM450.0,77.0h2.9v2.9h-2.9zM450.4,41.0h2.9v2.9h-2.9zM450.4,79.6h2.9v2.9h-2.9zM450.8,52.7h2.9v2.9h-2.9zM451.2,62.9h2.9v2.9h-2.9zM452.8,56.0h2.9v2.9h-2.9zM453.2,48.6h2.9v2.9h-2.9zM453.6,55.9h2.9v2.9h-2.9zM454.1,26.9h2.9v2.9h-2.9zM454.1,72.9h2.9v2.9h-2.9zM454.5,26.8h2.9v2.9h-2.9zM454.5,68.0h2.9v2.9h-2.9zM454.9,62.7h2.9v2.9h-2.9zM455.3,51.3h2.9v2.9h-2.9zM456.1,61.9h2.9v2.9h-2.9zM456.9,79.1h2.9v2.9h-2.9zM457.3,25.5h2.9v2.9h-2.9zM457.3,56.1h2.9v2.9h-2.9zM457.7,76.4h2.9v2.9h-2.9zM458.1,50.3h2.9v2.9h-2.9zM458.6,52.5h2.9v2.9h-2.9zM458.6,53.2h2.9v2.9h-2.9zM459.0,29.7h2.9v2.9h-2.9zM459.0,59.5h2.9v2.9h-2.9zM459.4,50.1h2.9v2.9h-2.9zM459.8,33.2h2.9v2.9h-2.9zM459.8,72.8h2.9v2.9h-2.9zM462.2,23.2h2.9v2.9h-2.9zM462.6,80.5h2.9v2.9h-2.9zM463.5,73.1h2.9v2.9h-2.9zM464.7,58.4h2.9v2.9h-2.9zM465.1,20.2h2.9v2.9h-2.9zM465.1,62.0h2.9v2.9h-2.9zM465.1,52.7h2.9v2.9h-2.9zM465.5,76.7h2.9v2.9h-2.9zM465.9,74.6h2.9v2.9h-2.9zM466.3,41.8h2.9v2.9h-2.9zM466.7,40.2h2.9v2.9h-2.9zM466.7,80.0h2.9v2.9h-2.9zM467.1,65.3h2.9v2.9h-2.9zM467.6,77.0h2.9v2.9h-2.9zM468.0,73.7h2.9v2.9h-2.9zM468.4,27.6h2.9v2.9h-2.9zM468.8,23.5h2.9v2.9h-2.9zM470.0,57.0h2.9v2.9h-2.9zM470.4,32.4h2.9v2.9h-2.9zM470.8,65.6h2.9v2.9h-2.9zM471.2,51.2h2.9v2.9h-2.9zM471.6,56.4h2.9v2.9h-2.9zM471.6,56.3h2.9v2.9h-2.9zM472.1,41.3h2.9v2.9h-2.9zM472.5,53.4h2.9v2.9h-2.9zM473.3,65.1h2.9v2.9h-2.9zM473.7,54.3h2.9v2.9h-2.9zM474.1,81.8h2.9v2.9h-2.9zM474.9,70.6h2.9v2.9h-2.9zM475.3,40.1h2.9v2.9h-2.9zM475.3,62.2h2.9v2.9h-2.9zM475.7,55.8h2.9v2.9h-2.9zM476.1,26.4h2.9v2.9h-2.9zM477.0,33.8h2.9v2.9h-2.9zM477.0,58.1h2.9v2.9h-2.9zM477.8,82.9h2.9v2.9h-2.9zM478.2,62.7h2.9v2.9h-2.9zM478.6,21.7h2.9v2.9h-2.9zM478.6,81.1h2.9v2.9h-2.9zM479.0,41.4h2.9v2.9h-2.9zM479.0,64.8h2.9v2.9h-2.9zM479.4,74.5h2.9v2.9h-2.9zM479.8,27.1h2.9v2.9h-2.9zM480.2,50.7h2.9v2.9h-2.9zM480.6,55.0h2.9v2.9h-2.9zM481.1,51.2h2.9v2.9h-2.9zM481.1,57.1h2.9v2.9h-2.9zM481.5,26.9h2.9v2.9h-2.9zM481.5,57.2h2.9v2.9h-2.9zM481.9,70.9h2.9v2.9h-2.9zM482.7,41.7h2.9v2.9h-2.9zM482.7,56.0h2.9v2.9h-2.9zM483.1,40.4h2.9v2.9h-2.9zM483.1,55.2h2.9v2.9h-2.9zM483.1,60.3h2.9v2.9h-2.9zM483.5,56.0h2.9v2.9h-2.9zM483.9,32.7h2.9v2.9h-2.9zM484.7,80.2h2.9v2.9h-2.9zM485.1,65.0h2.9v2.9h-2.9zM486.0,37.8h2.9v2.9h-2.9zM486.4,53.7h2.9v2.9h-2.9zM486.8,22.8h2.9v2.9h-2.9zM486.8,71.1h2.9v2.9h-2.9zM487.6,70.6h2.9v2.9h-2.9zM488.0,52.4h2.9v2.9h-2.9zM488.0,54.7h2.9v2.9h-2.9zM488.4,36.6h2.9v2.9h-2.9zM489.2,78.1h2.9v2.9h-2.9zM489.6,54.1h2.9v2.9h-2.9zM490.0,60.1h2.9v2.9h-2.9zM490.5,41.0h2.9v2.9h-2.9zM490.5,66.5h2.9v2.9h-2.9zM490.5,52.9h2.9v2.9h-2.9zM490.9,42.3h2.9v2.9h-2.9zM491.3,82.1h2.9v2.9h-2.9zM491.7,71.9h2.9v2.9h-2.9zM492.1,49.3h2.9v2.9h-2.9zM492.9,54.5h2.9v2.9h-2.9zM493.3,71.5h2.9v2.9h-2.9zM493.7,38.8h2.9v2.9h-2.9zM493.7,79.0h2.9v2.9h-2.9zM494.5,33.7h2.9v2.9h-2.9zM494.5,77.3h2.9v2.9h-2.9zM494.5,60.9h2.9v2.9h-2.9zM495.0,25.6h2.9v2.9h-2.9zM495.0,79.5h2.9v2.9h-2.9zM496.6,71.4h2.9v2.9h-2.9zM497.0,56.4h2.9v2.9h-2.9zM497.8,28.3h2.9v2.9h-2.9zM497.8,59.1h2.9v2.9h-2.9zM498.2,51.3h2.9v2.9h-2.9zM498.6,65.8h2.9v2.9h-2.9zM499.0,56.9h2.9v2.9h-2.9zM499.5,55.1h2.9v2.9h-2.9zM499.9,61.3h2.9v2.9h-2.9zM500.3,59.7h2.9v2.9h-2.9zM501.1,20.5h2.9v2.9h-2.9zM501.5,78.0h2.9v2.9h-2.9zM502.3,41.8h2.9v2.9h-2.9zM502.3,68.7h2.9v2.9h-2.9zM502.7,49.6h2.9v2.9h-2.9zM503.5,49.1h2.9v2.9h-2.9zM503.5,59.8h2.9v2.9h-2.9zM505.2,75.4h2.9v2.9h-2.9zM506.0,41.5h2.9v2.9h-2.9zM506.0,70.7h2.9v2.9h-2.9zM506.4,69.1h2.9v2.9h-2.9zM506.8,33.8h2.9v2.9h-2.9zM507.2,49.6h2.9v2.9h-2.9zM508.0,39.4h2.9v2.9h-2.9zM508.0,52.4h2.9v2.9h-2.9zM508.9,49.6h2.9v2.9h-2.9zM509.3,54.1h2.9v2.9h-2.9zM510.1,55.4h2.9v2.9h-2.9zM510.5,58.1h2.9v2.9h-2.9zM510.9,80.3h2.9v2.9h-2.9zM511.3,31.8h2.9v2.9h-2.9zM511.7,49.7h2.9v2.9h-2.9zM512.1,34.1h2.9v2.9h-2.9zM512.1,65.5h2.9v2.9h-2.9zM512.5,40.1h2.9v2.9h-2.9zM513.0,39.9h2.9v2.9h-2.9zM513.0,79.7h2.9v2.9h-2.9zM513.8,70.4h2.9v2.9h-2.9zM514.2,19.6h2.9v2.9h-2.9zM515.0,40.4h2.9v2.9h-2.9zM515.8,64.4h2.9v2.9h-2.9zM516.6,82.2h2.9v2.9h-2.9zM517.0,82.8h2.9v2.9h-2.9zM517.5,81.9h2.9v2.9h-2.9zM518.3,49.6h2.9v2.9h-2.9zM518.7,51.2h2.9v2.9h-2.9zM519.9,80.1h2.9v2.9h-2.9zM520.7,21.7h2.9v2.9h-2.9zM521.1,23.1h2.9v2.9h-2.9zM521.1,72.8h2.9v2.9h-2.9zM521.5,41.0h2.9v2.9h-2.9zM521.5,71.7h2.9v2.9h-2.9zM522.0,70.3h2.9v2.9h-2.9zM522.8,73.3h2.9v2.9h-2.9zM523.2,25.1h2.9v2.9h-2.9zM523.2,63.5h2.9v2.9h-2.9zM524.0,33.2h2.9v2.9h-2.9zM524.4,42.3h2.9v2.9h-2.9zM525.2,64.1h2.9v2.9h-2.9zM525.6,75.7h2.9v2.9h-2.9zM526.4,42.5h2.9v2.9h-2.9zM526.4,74.7h2.9v2.9h-2.9zM526.9,72.1h2.9v2.9h-2.9zM527.3,40.9h2.9v2.9h-2.9zM528.1,64.8h2.9v2.9h-2.9zM529.3,36.3h2.9v2.9h-2.9zM529.7,76.6h2.9v2.9h-2.9zM530.1,81.0h2.9v2.9h-2.9zM530.1,50.1h2.9v2.9h-2.9zM530.5,65.1h2.9v2.9h-2.9zM531.8,73.6h2.9v2.9h-2.9zM532.2,81.7h2.9v2.9h-2.9zM533.0,34.0h2.9v2.9h-2.9zM533.0,49.5h2.9v2.9h-2.9zM533.8,30.6h2.9v2.9h-2.9zM533.8,75.0h2.9v2.9h-2.9z" fill="#454545"/>
<path d="M403.9,41.4h2.5v2.5h-2.5zM404.8,42.3h2.5v2.5h-2.5zM405.6,43.8h2.5v2.5h-2.5zM406.4,42.8h2.5v2.5h-2.5zM407.2,42.0h2.5v2.5h-2.5zM408.0,43.5h2.5v2.5h-2.5zM408.9,42.4h2.5v2.5h-2.5zM409.7,42.6h2.5v2.5h-2.5zM410.5,42.1h2.5v2.5h-2.5zM411.3,44.6h2.5v2.5h-2.5zM412.1,43.4h2.5v2.5h-2.5zM412.9,42.9h2.5v2.5h-2.5zM413.8,42.9h2.5v2.5h-2.5zM414.6,43.0h2.5v2.5h-2.5zM415.4,41.4h2.5v2.5h-2.5zM416.2,41.7h2.5v2.5h-2.5zM417.0,42.6h2.5v2.5h-2.5zM417.9,43.3h2.5v2.5h-2.5zM418.7,43.5h2.5v2.5h-2.5zM419.5,41.8h2.5v2.5h-2.5zM420.3,42.0h2.5v2.5h-2.5zM421.1,42.0h2.5v2.5h-2.5zM421.9,41.5h2.5v2.5h-2.5zM422.8,50.1h2.5v2.5h-2.5zM423.6,42.6h2.5v2.5h-2.5zM424.4,42.4h2.5v2.5h-2.5zM425.2,42.7h2.5v2.5h-2.5zM426.0,41.5h2.5v2.5h-2.5zM426.9,41.7h2.5v2.5h-2.5zM427.7,42.7h2.5v2.5h-2.5zM428.5,42.8h2.5v2.5h-2.5zM429.3,41.7h2.5v2.5h-2.5zM430.1,42.7h2.5v2.5h-2.5zM430.9,43.1h2.5v2.5h-2.5zM431.8,42.3h2.5v2.5h-2.5zM432.6,42.3h2.5v2.5h-2.5zM433.4,43.2h2.5v2.5h-2.5zM434.2,42.5h2.5v2.5h-2.5zM435.0,42.6h2.5v2.5h-2.5zM435.9,41.4h2.5v2.5h-2.5zM436.7,42.6h2.5v2.5h-2.5zM437.5,43.1h2.5v2.5h-2.5zM438.3,43.3h2.5v2.5h-2.5zM439.1,42.6h2.5v2.5h-2.5zM439.9,42.9h2.5v2.5h-2.5zM440.8,47.0h2.5v2.5h-2.5zM441.6,42.9h2.5v2.5h-2.5zM442.4,42.3h2.5v2.5h-2.5zM443.2,42.5h2.5v2.5h-2.5zM444.0,43.3h2.5v2.5h-2.5zM444.9,44.1h2.5v2.5h-2.5zM445.7,42.2h2.5v2.5h-2.5zM446.5,41.8h2.5v2.5h-2.5zM447.3,43.3h2.5v2.5h-2.5zM448.1,42.2h2.5v2.5h-2.5zM448.9,40.8h2.5v2.5h-2.5zM449.8,43.2h2.5v2.5h-2.5zM450.6,42.6h2.5v2.5h-2.5zM451.4,42.8h2.5v2.5h-2.5zM452.2,42.3h2.5v2.5h-2.5zM453.0,42.1h2.5v2.5h-2.5zM453.8,43.1h2.5v2.5h-2.5zM454.7,42.0h2.5v2.5h-2.5zM455.5,41.3h2.5v2.5h-2.5zM456.3,42.9h2.5v2.5h-2.5zM457.1,41.6h2.5v2.5h-2.5zM457.9,43.0h2.5v2.5h-2.5zM458.8,41.5h2.5v2.5h-2.5zM459.6,42.5h2.5v2.5h-2.5zM460.4,41.5h2.5v2.5h-2.5zM461.2,41.9h2.5v2.5h-2.5zM462.0,41.3h2.5v2.5h-2.5zM462.8,42.1h2.5v2.5h-2.5zM463.7,42.0h2.5v2.5h-2.5zM464.5,42.6h2.5v2.5h-2.5zM465.3,42.1h2.5v2.5h-2.5zM466.1,42.6h2.5v2.5h-2.5zM466.9,42.5h2.5v2.5h-2.5zM467.8,42.0h2.5v2.5h-2.5zM468.6,46.7h2.5v2.5h-2.5zM469.4,43.2h2.5v2.5h-2.5zM470.2,41.7h2.5v2.5h-2.5zM471.0,42.8h2.5v2.5h-2.5zM471.8,42.2h2.5v2.5h-2.5zM472.7,41.4h2.5v2.5h-2.5zM473.5,41.5h2.5v2.5h-2.5zM474.3,41.6h2.5v2.5h-2.5zM475.1,42.1h2.5v2.5h-2.5zM475.9,41.3h2.5v2.5h-2.5zM476.8,42.3h2.5v2.5h-2.5zM477.6,41.7h2.5v2.5h-2.5zM478.4,41.6h2.5v2.5h-2.5zM479.2,42.7h2.5v2.5h-2.5zM480.0,41.9h2.5v2.5h-2.5zM480.8,42.8h2.5v2.5h-2.5zM481.7,43.2h2.5v2.5h-2.5zM482.5,43.3h2.5v2.5h-2.5zM483.3,43.9h2.5v2.5h-2.5zM484.1,41.5h2.5v2.5h-2.5zM484.9,42.4h2.5v2.5h-2.5zM485.8,41.0h2.5v2.5h-2.5zM486.6,42.4h2.5v2.5h-2.5zM487.4,42.0h2.5v2.5h-2.5zM488.2,42.8h2.5v2.5h-2.5zM489.0,43.0h2.5v2.5h-2.5zM489.8,42.0h2.5v2.5h-2.5zM490.7,37.4h2.5v2.5h-2.5zM491.5,41.6h2.5v2.5h-2.5zM492.3,42.8h2.5v2.5h-2.5zM493.1,41.7h2.5v2.5h-2.5zM493.9,43.4h2.5v2.5h-2.5zM494.7,42.4h2.5v2.5h-2.5zM495.6,41.5h2.5v2.5h-2.5zM496.4,42.8h2.5v2.5h-2.5zM497.2,42.7h2.5v2.5h-2.5zM498.0,42.7h2.5v2.5h-2.5zM498.8,42.6h2.5v2.5h-2.5zM499.7,41.7h2.5v2.5h-2.5zM500.5,43.2h2.5v2.5h-2.5zM501.3,43.6h2.5v2.5h-2.5zM502.1,42.6h2.5v2.5h-2.5zM502.9,42.6h2.5v2.5h-2.5zM503.7,43.0h2.5v2.5h-2.5zM504.6,41.3h2.5v2.5h-2.5zM505.4,41.9h2.5v2.5h-2.5zM506.2,43.0h2.5v2.5h-2.5zM507.0,41.8h2.5v2.5h-2.5zM507.8,42.3h2.5v2.5h-2.5zM508.7,41.7h2.5v2.5h-2.5zM509.5,42.7h2.5v2.5h-2.5zM510.3,42.5h2.5v2.5h-2.5zM511.1,42.4h2.5v2.5h-2.5zM511.9,42.3h2.5v2.5h-2.5zM512.7,42.5h2.5v2.5h-2.5zM513.6,43.8h2.5v2.5h-2.5zM514.4,41.7h2.5v2.5h-2.5zM515.2,47.5h2.5v2.5h-2.5zM516.0,42.0h2.5v2.5h-2.5zM516.8,42.1h2.5v2.5h-2.5zM517.7,42.8h2.5v2.5h-2.5zM518.5,41.5h2.5v2.5h-2.5zM519.3,42.3h2.5v2.5h-2.5zM520.1,41.3h2.5v2.5h-2.5zM520.9,41.7h2.5v2.5h-2.5zM521.7,42.6h2.5v2.5h-2.5zM522.6,42.5h2.5v2.5h-2.5zM523.4,42.1h2.5v2.5h-2.5zM524.2,41.7h2.5v2.5h-2.5zM525.0,42.5h2.5v2.5h-2.5zM525.8,42.9h2.5v2.5h-2.5zM526.6,42.5h2.5v2.5h-2.5zM527.5,42.2h2.5v2.5h-2.5zM528.3,41.6h2.5v2.5h-2.5zM529.1,41.8h2.5v2.5h-2.5zM529.9,41.8h2.5v2.5h-2.5zM530.7,41.5h2.5v2.5h-2.5zM531.6,42.1h2.5v2.5h-2.5zM532.4,41.6h2.5v2.5h-2.5zM533.2,42.7h2.5v2.5h-2.5zM534.0,41.4h2.5v2.5h-2.5zM534.8,41.2h2.5v2.5h-2.5zM535.6,43.0h2.5v2.5h-2.5zM536.5,42.3h2.5v2.5h-2.5zM537.3,41.6h2.5v2.5h-2.5zM538.1,41.1h2.5v2.5h-2.5zM538.9,42.7h2.5v2.5h-2.5zM539.7,43.1h2.5v2.5h-2.5zM540.6,42.8h2.5v2.5h-2.5zM541.4,44.1h2.5v2.5h-2.5zM542.2,42.1h2.5v2.5h-2.5zM543.0,41.9h2.5v2.5h-2.5zM543.8,42.0h2.5v2.5h-2.5zM544.6,41.4h2.5v2.5h-2.5zM545.5,42.9h2.5v2.5h-2.5zM546.3,44.4h2.5v2.5h-2.5zM547.1,41.8h2.5v2.5h-2.5zM547.9,42.7h2.5v2.5h-2.5zM548.7,41.9h2.5v2.5h-2.5zM549.6,42.7h2.5v2.5h-2.5zM550.4,42.8h2.5v2.5h-2.5zM551.2,41.4h2.5v2.5h-2.5zM552.0,42.4h2.5v2.5h-2.5zM552.8,41.0h2.5v2.5h-2.5zM553.6,42.4h2.5v2.5h-2.5zM554.5,42.0h2.5v2.5h-2.5zM555.3,43.2h2.5v2.5h-2.5zM556.1,42.5h2.5v2.5h-2.5zM556.9,42.3h2.5v2.5h-2.5zM557.7,41.5h2.5v2.5h-2.5zM558.6,40.6h2.5v2.5h-2.5zM559.4,43.2h2.5v2.5h-2.5zM560.2,41.6h2.5v2.5h-2.5zM561.0,43.1h2.5v2.5h-2.5zM561.8,46.3h2.5v2.5h-2.5zM562.6,43.6h2.5v2.5h-2.5zM563.5,43.0h2.5v2.5h-2.5zM564.3,42.2h2.5v2.5h-2.5zM565.1,42.9h2.5v2.5h-2.5zM565.9,42.9h2.5v2.5h-2.5zM566.7,42.7h2.5v2.5h-2.5zM567.5,42.1h2.5v2.5h-2.5zM568.4,41.8h2.5v2.5h-2.5zM569.2,41.6h2.5v2.5h-2.5zM570.0,42.3h2.5v2.5h-2.5zM570.8,41.4h2.5v2.5h-2.5zM571.6,43.1h2.5v2.5h-2.5zM572.5,43.2h2.5v2.5h-2.5zM573.3,42.1h2.5v2.5h-2.5zM574.1,41.6h2.5v2.5h-2.5zM574.9,41.7h2.5v2.5h-2.5zM575.7,39.6h2.5v2.5h-2.5zM576.5,44.0h2.5v2.5h-2.5zM577.4,42.1h2.5v2.5h-2.5zM578.2,43.0h2.5v2.5h-2.5zM579.0,41.3h2.5v2.5h-2.5zM579.8,43.1h2.5v2.5h-2.5zM580.6,42.4h2.5v2.5h-2.5zM581.5,43.0h2.5v2.5h-2.5zM582.3,41.9h2.5v2.5h-2.5zM583.1,41.6h2.5v2.5h-2.5zM583.9,43.2h2.5v2.5h-2.5zM584.7,41.4h2.5v2.5h-2.5zM585.5,41.9h2.5v2.5h-2.5zM586.4,42.4h2.5v2.5h-2.5zM587.2,42.3h2.5v2.5h-2.5zM588.0,42.2h2.5v2.5h-2.5zM588.8,41.3h2.5v2.5h-2.5zM589.6,49.0h2.5v2.5h-2.5zM590.5,42.7h2.5v2.5h-2.5zM591.3,41.9h2.5v2.5h-2.5zM592.1,46.0h2.5v2.5h-2.5zM592.9,43.4h2.5v2.5h-2.5zM593.7,43.1h2.5v2.5h-2.5zM594.5,41.6h2.5v2.5h-2.5zM595.4,42.5h2.5v2.5h-2.5zM596.2,43.4h2.5v2.5h-2.5zM597.0,41.8h2.5v2.5h-2.5zM597.8,42.9h2.5v2.5h-2.5zM598.6,42.9h2.5v2.5h-2.5zM599.5,34.6h2.5v2.5h-2.5zM600.3,43.5h2.5v2.5h-2.5zM601.1,42.5h2.5v2.5h-2.5zM601.9,42.4h2.5v2.5h-2.5zM602.7,42.0h2.5v2.5h-2.5zM603.5,42.5h2.5v2.5h-2.5zM604.4,40.9h2.5v2.5h-2.5zM605.2,42.9h2.5v2.5h-2.5zM606.0,42.9h2.5v2.5h-2.5zM606.8,43.1h2.5v2.5h-2.5zM607.6,43.1h2.5v2.5h-2.5zM608.5,42.2h2.5v2.5h-2.5zM609.3,42.2h2.5v2.5h-2.5zM610.1,43.1h2.5v2.5h-2.5zM610.9,42.3h2.5v2.5h-2.5zM611.7,42.3h2.5v2.5h-2.5zM612.5,42.8h2.5v2.5h-2.5zM613.4,41.6h2.5v2.5h-2.5zM614.2,43.1h2.5v2.5h-2.5zM615.0,41.7h2.5v2.5h-2.5zM615.8,42.9h2.5v2.5h-2.5zM616.6,42.1h2.5v2.5h-2.5zM617.4,42.4h2.5v2.5h-2.5zM618.3,42.4h2.5v2.5h-2.5zM619.1,42.1h2.5v2.5h-2.5zM619.9,41.4h2.5v2.5h-2.5zM620.7,41.5h2.5v2.5h-2.5zM621.5,42.4h2.5v2.5h-2.5zM622.4,42.0h2.5v2.5h-2.5zM623.2,41.4h2.5v2.5h-2.5zM624.0,42.2h2.5v2.5h-2.5zM624.8,41.2h2.5v2.5h-2.5zM625.6,42.7h2.5v2.5h-2.5zM626.4,41.6h2.5v2.5h-2.5zM627.3,42.3h2.5v2.5h-2.5zM628.1,41.9h2.5v2.5h-2.5zM628.9,43.4h2.5v2.5h-2.5zM629.7,42.0h2.5v2.5h-2.5zM630.5,42.3h2.5v2.5h-2.5zM631.4,42.4h2.5v2.5h-2.5zM632.2,42.2h2.5v2.5h-2.5zM633.0,42.9h2.5v2.5h-2.5zM633.8,46.0h2.5v2.5h-2.5zM634.6,42.2h2.5v2.5h-2.5zM635.4,41.8h2.5v2.5h-2.5zM636.3,42.1h2.5v2.5h-2.5zM637.1,42.1h2.5v2.5h-2.5zM637.9,42.7h2.5v2.5h-2.5zM638.7,43.1h2.5v2.5h-2.5zM639.5,41.7h2.5v2.5h-2.5zM640.4,42.1h2.5v2.5h-2.5zM641.2,41.6h2.5v2.5h-2.5zM642.0,42.5h2.5v2.5h-2.5zM642.8,42.4h2.5v2.5h-2.5zM643.6,43.7h2.5v2.5h-2.5zM644.4,43.3h2.5v2.5h-2.5zM645.3,43.2h2.5v2.5h-2.5zM646.1,41.5h2.5v2.5h-2.5zM646.9,42.0h2.5v2.5h-2.5zM647.7,42.6h2.5v2.5h-2.5zM648.5,41.6h2.5v2.5h-2.5zM403.9,50.9h2.5v2.5h-2.5zM405.2,49.1h2.5v2.5h-2.5zM406.4,51.3h2.5v2.5h-2.5zM407.6,51.2h2.5v2.5h-2.5zM408.9,51.9h2.5v2.5h-2.5zM410.1,50.0h2.5v2.5h-2.5zM411.3,49.5h2.5v2.5h-2.5zM412.5,51.3h2.5v2.5h-2.5zM413.8,50.2h2.5v2.5h-2.5zM415.0,51.9h2.5v2.5h-2.5zM416.2,51.0h2.5v2.5h-2.5zM417.4,53.2h2.5v2.5h-2.5zM418.7,51.5h2.5v2.5h-2.5zM419.9,50.0h2.5v2.5h-2.5zM421.1,50.3h2.5v2.5h-2.5zM422.4,49.7h2.5v2.5h-2.5zM423.6,49.7h2.5v2.5h-2.5zM424.8,50.9h2.5v2.5h-2.5zM426.0,49.1h2.5v2.5h-2.5zM427.3,51.7h2.5v2.5h-2.5z" fill="#74a6ee"/>
<path d="M588.0,49.1h2.5v2.5h-2.5zM589.2,46.0h2.5v2.5h-2.5zM590.5,45.6h2.5v2.5h-2.5zM591.7,47.3h2.5v2.5h-2.5zM592.9,48.3h2.5v2.5h-2.5zM594.1,46.0h2.5v2.5h-2.5zM595.4,43.5h2.5v2.5h-2.5zM596.6,48.2h2.5v2.5h-2.5zM597.8,46.6h2.5v2.5h-2.5zM599.0,48.7h2.5v2.5h-2.5zM600.3,49.7h2.5v2.5h-2.5zM601.5,48.1h2.5v2.5h-2.5zM602.7,48.6h2.5v2.5h-2.5zM604.0,47.5h2.5v2.5h-2.5zM605.2,51.9h2.5v2.5h-2.5zM606.4,47.2h2.5v2.5h-2.5zM607.6,45.7h2.5v2.5h-2.5zM608.9,48.3h2.5v2.5h-2.5zM610.1,46.6h2.5v2.5h-2.5zM611.3,45.4h2.5v2.5h-2.5zM612.5,41.8h2.5v2.5h-2.5zM613.8,46.9h2.5v2.5h-2.5zM615.0,42.9h2.5v2.5h-2.5zM616.2,45.0h2.5v2.5h-2.5zM617.4,49.1h2.5v2.5h-2.5zM618.7,40.1h2.5v2.5h-2.5zM619.9,47.1h2.5v2.5h-2.5zM621.1,45.5h2.5v2.5h-2.5zM622.4,43.8h2.5v2.5h-2.5zM623.6,43.8h2.5v2.5h-2.5zM624.8,46.1h2.5v2.5h-2.5zM626.0,49.3h2.5v2.5h-2.5zM627.3,47.2h2.5v2.5h-2.5zM628.5,49.9h2.5v2.5h-2.5zM629.7,47.4h2.5v2.5h-2.5zM630.9,45.0h2.5v2.5h-2.5zM632.2,44.7h2.5v2.5h-2.5zM633.4,49.1h2.5v2.5h-2.5zM634.6,46.7h2.5v2.5h-2.5zM635.9,48.2h2.5v2.5h-2.5zM637.1,45.4h2.5v2.5h-2.5zM638.3,47.0h2.5v2.5h-2.5zM639.5,44.6h2.5v2.5h-2.5zM640.8,46.9h2.5v2.5h-2.5zM642.0,46.9h2.5v2.5h-2.5zM643.2,45.8h2.5v2.5h-2.5zM644.4,48.2h2.5v2.5h-2.5zM645.7,44.0h2.5v2.5h-2.5zM646.9,50.6h2.5v2.5h-2.5zM648.1,43.3h2.5v2.5h-2.5z" fill="#9a9a9a"/>
<path d="M403.4,51.4h3.6v3.6h-3.6zM404.2,49.9h3.6v3.6h-3.6zM405.0,48.4h3.6v3.6h-3.6zM405.9,46.9h3.6v3.6h-3.6zM406.7,45.1h3.6v3.6h-3.6zM407.5,46.3h3.6v3.6h-3.6zM408.3,45.6h3.6v3.6h-3.6zM409.1,45.4h3.6v3.6h-3.6zM409.9,45.2h3.6v3.6h-3.6zM410.8,45.2h3.6v3.6h-3.6zM411.6,45.3h3.6v3.6h-3.6zM412.4,45.8h3.6v3.6h-3.6zM413.2,45.6h3.6v3.6h-3.6zM414.0,44.8h3.6v3.6h-3.6zM414.9,45.7h3.6v3.6h-3.6zM415.7,46.1h3.6v3.6h-3.6zM416.5,44.9h3.6v3.6h-3.6zM417.3,45.3h3.6v3.6h-3.6zM418.1,45.7h3.6v3.6h-3.6zM418.9,45.6h3.6v3.6h-3.6zM419.8,45.4h3.6v3.6h-3.6zM420.6,45.7h3.6v3.6h-3.6zM421.4,46.2h3.6v3.6h-3.6zM422.2,45.2h3.6v3.6h-3.6zM423.0,45.1h3.6v3.6h-3.6zM423.8,45.3h3.6v3.6h-3.6zM424.7,46.0h3.6v3.6h-3.6zM425.5,45.2h3.6v3.6h-3.6zM426.3,46.2h3.6v3.6h-3.6zM427.1,46.0h3.6v3.6h-3.6zM427.9,45.2h3.6v3.6h-3.6zM428.8,44.7h3.6v3.6h-3.6zM429.6,46.1h3.6v3.6h-3.6zM430.4,45.4h3.6v3.6h-3.6zM431.2,45.8h3.6v3.6h-3.6zM432.0,45.7h3.6v3.6h-3.6zM432.8,45.6h3.6v3.6h-3.6zM433.7,45.8h3.6v3.6h-3.6zM434.5,45.1h3.6v3.6h-3.6zM435.3,45.5h3.6v3.6h-3.6zM436.1,45.4h3.6v3.6h-3.6zM436.9,45.9h3.6v3.6h-3.6zM437.8,45.5h3.6v3.6h-3.6zM438.6,45.1h3.6v3.6h-3.6zM439.4,44.8h3.6v3.6h-3.6zM440.2,46.1h3.6v3.6h-3.6zM441.0,46.0h3.6v3.6h-3.6zM441.8,45.8h3.6v3.6h-3.6zM442.7,46.1h3.6v3.6h-3.6zM443.5,45.2h3.6v3.6h-3.6zM444.3,45.7h3.6v3.6h-3.6zM445.1,44.9h3.6v3.6h-3.6zM445.9,46.1h3.6v3.6h-3.6zM446.8,45.5h3.6v3.6h-3.6zM447.6,45.0h3.6v3.6h-3.6zM448.4,45.8h3.6v3.6h-3.6zM449.2,45.6h3.6v3.6h-3.6zM450.0,44.9h3.6v3.6h-3.6zM450.8,46.1h3.6v3.6h-3.6zM451.7,45.9h3.6v3.6h-3.6zM452.5,45.5h3.6v3.6h-3.6zM453.3,45.0h3.6v3.6h-3.6zM454.1,45.8h3.6v3.6h-3.6zM454.9,44.9h3.6v3.6h-3.6zM455.8,45.5h3.6v3.6h-3.6zM456.6,46.2h3.6v3.6h-3.6zM457.4,46.4h3.6v3.6h-3.6zM458.2,44.9h3.6v3.6h-3.6zM459.0,45.0h3.6v3.6h-3.6zM459.8,46.2h3.6v3.6h-3.6zM460.7,45.2h3.6v3.6h-3.6zM461.5,45.3h3.6v3.6h-3.6zM462.3,45.3h3.6v3.6h-3.6zM463.1,45.3h3.6v3.6h-3.6zM463.9,45.0h3.6v3.6h-3.6zM464.8,45.2h3.6v3.6h-3.6zM465.6,44.7h3.6v3.6h-3.6zM466.4,46.0h3.6v3.6h-3.6zM467.2,45.3h3.6v3.6h-3.6zM468.0,45.8h3.6v3.6h-3.6zM468.8,45.6h3.6v3.6h-3.6zM469.7,45.3h3.6v3.6h-3.6zM470.5,44.5h3.6v3.6h-3.6zM471.3,45.1h3.6v3.6h-3.6zM472.1,45.2h3.6v3.6h-3.6zM472.9,45.7h3.6v3.6h-3.6zM473.7,45.6h3.6v3.6h-3.6zM474.6,46.4h3.6v3.6h-3.6zM475.4,45.8h3.6v3.6h-3.6zM476.2,46.5h3.6v3.6h-3.6zM477.0,45.4h3.6v3.6h-3.6zM477.8,45.4h3.6v3.6h-3.6zM478.7,45.2h3.6v3.6h-3.6zM479.5,45.2h3.6v3.6h-3.6zM480.3,45.1h3.6v3.6h-3.6zM481.1,45.5h3.6v3.6h-3.6zM481.9,45.3h3.6v3.6h-3.6zM482.7,45.3h3.6v3.6h-3.6zM483.6,44.9h3.6v3.6h-3.6zM484.4,45.6h3.6v3.6h-3.6zM485.2,45.2h3.6v3.6h-3.6zM486.0,45.8h3.6v3.6h-3.6zM486.8,46.7h3.6v3.6h-3.6zM487.7,44.4h3.6v3.6h-3.6zM488.5,45.2h3.6v3.6h-3.6zM489.3,45.4h3.6v3.6h-3.6zM490.1,45.9h3.6v3.6h-3.6zM490.9,45.7h3.6v3.6h-3.6zM491.7,45.4h3.6v3.6h-3.6zM492.6,45.7h3.6v3.6h-3.6zM493.4,44.9h3.6v3.6h-3.6zM494.2,46.6h3.6v3.6h-3.6zM495.0,45.0h3.6v3.6h-3.6zM495.8,45.0h3.6v3.6h-3.6zM496.7,45.3h3.6v3.6h-3.6zM497.5,45.5h3.6v3.6h-3.6zM498.3,45.9h3.6v3.6h-3.6zM499.1,46.1h3.6v3.6h-3.6zM499.9,46.0h3.6v3.6h-3.6zM500.7,45.5h3.6v3.6h-3.6zM501.6,46.0h3.6v3.6h-3.6zM502.4,46.1h3.6v3.6h-3.6zM503.2,45.2h3.6v3.6h-3.6zM504.0,45.7h3.6v3.6h-3.6zM504.8,45.6h3.6v3.6h-3.6zM505.6,46.2h3.6v3.6h-3.6zM506.5,44.6h3.6v3.6h-3.6zM507.3,45.8h3.6v3.6h-3.6zM508.1,45.8h3.6v3.6h-3.6zM508.9,45.3h3.6v3.6h-3.6zM509.7,45.4h3.6v3.6h-3.6zM510.6,46.0h3.6v3.6h-3.6zM511.4,45.6h3.6v3.6h-3.6zM512.2,45.8h3.6v3.6h-3.6zM513.0,45.2h3.6v3.6h-3.6zM513.8,44.8h3.6v3.6h-3.6zM514.6,44.6h3.6v3.6h-3.6zM515.5,45.4h3.6v3.6h-3.6zM516.3,44.9h3.6v3.6h-3.6zM517.1,47.0h3.6v3.6h-3.6zM517.9,45.7h3.6v3.6h-3.6zM518.7,45.2h3.6v3.6h-3.6zM519.6,45.4h3.6v3.6h-3.6zM520.4,44.9h3.6v3.6h-3.6zM521.2,45.4h3.6v3.6h-3.6zM522.0,46.2h3.6v3.6h-3.6zM522.8,46.0h3.6v3.6h-3.6zM523.6,45.2h3.6v3.6h-3.6zM524.5,46.3h3.6v3.6h-3.6zM525.3,45.3h3.6v3.6h-3.6zM526.1,45.1h3.6v3.6h-3.6zM526.9,45.2h3.6v3.6h-3.6zM527.7,45.8h3.6v3.6h-3.6zM528.6,46.3h3.6v3.6h-3.6zM529.4,45.7h3.6v3.6h-3.6zM530.2,45.3h3.6v3.6h-3.6zM531.0,44.8h3.6v3.6h-3.6zM531.8,46.0h3.6v3.6h-3.6zM532.6,45.7h3.6v3.6h-3.6zM533.5,45.4h3.6v3.6h-3.6zM534.3,45.2h3.6v3.6h-3.6zM535.1,45.5h3.6v3.6h-3.6zM535.9,45.3h3.6v3.6h-3.6zM536.7,44.7h3.6v3.6h-3.6zM537.6,45.4h3.6v3.6h-3.6zM538.4,45.3h3.6v3.6h-3.6zM539.2,45.3h3.6v3.6h-3.6zM540.0,45.6h3.6v3.6h-3.6zM540.8,45.6h3.6v3.6h-3.6zM541.6,45.6h3.6v3.6h-3.6zM542.5,45.2h3.6v3.6h-3.6zM543.3,45.1h3.6v3.6h-3.6zM544.1,46.5h3.6v3.6h-3.6zM544.9,45.5h3.6v3.6h-3.6zM545.7,45.8h3.6v3.6h-3.6zM546.6,46.0h3.6v3.6h-3.6zM547.4,45.0h3.6v3.6h-3.6zM548.2,44.8h3.6v3.6h-3.6zM549.0,44.9h3.6v3.6h-3.6zM549.8,45.3h3.6v3.6h-3.6zM550.6,45.1h3.6v3.6h-3.6zM551.5,45.6h3.6v3.6h-3.6zM552.3,44.1h3.6v3.6h-3.6zM553.1,45.3h3.6v3.6h-3.6zM553.9,45.8h3.6v3.6h-3.6zM554.7,45.7h3.6v3.6h-3.6zM555.5,46.8h3.6v3.6h-3.6zM556.4,45.3h3.6v3.6h-3.6zM557.2,45.4h3.6v3.6h-3.6zM558.0,46.3h3.6v3.6h-3.6zM558.8,45.4h3.6v3.6h-3.6zM559.6,45.7h3.6v3.6h-3.6zM560.5,45.7h3.6v3.6h-3.6zM561.3,45.9h3.6v3.6h-3.6zM562.1,45.1h3.6v3.6h-3.6zM562.9,45.0h3.6v3.6h-3.6zM563.7,45.5h3.6v3.6h-3.6zM564.5,44.4h3.6v3.6h-3.6zM565.4,45.3h3.6v3.6h-3.6zM566.2,45.3h3.6v3.6h-3.6zM567.0,45.4h3.6v3.6h-3.6zM567.8,45.9h3.6v3.6h-3.6zM568.6,45.4h3.6v3.6h-3.6zM569.5,45.5h3.6v3.6h-3.6zM570.3,45.5h3.6v3.6h-3.6zM571.1,45.7h3.6v3.6h-3.6zM571.9,45.0h3.6v3.6h-3.6zM572.7,44.6h3.6v3.6h-3.6zM573.5,45.1h3.6v3.6h-3.6zM574.4,46.4h3.6v3.6h-3.6zM575.2,44.8h3.6v3.6h-3.6zM576.0,46.2h3.6v3.6h-3.6zM576.8,45.3h3.6v3.6h-3.6zM577.6,45.8h3.6v3.6h-3.6zM578.5,45.8h3.6v3.6h-3.6zM579.3,45.7h3.6v3.6h-3.6zM580.1,44.8h3.6v3.6h-3.6zM580.9,45.2h3.6v3.6h-3.6zM581.7,46.0h3.6v3.6h-3.6zM582.5,45.9h3.6v3.6h-3.6zM583.4,45.1h3.6v3.6h-3.6zM584.2,45.7h3.6v3.6h-3.6zM585.0,45.3h3.6v3.6h-3.6zM585.8,45.9h3.6v3.6h-3.6zM586.6,45.8h3.6v3.6h-3.6zM587.5,46.3h3.6v3.6h-3.6zM588.3,45.5h3.6v3.6h-3.6zM589.1,45.6h3.6v3.6h-3.6zM589.9,45.0h3.6v3.6h-3.6zM590.7,45.5h3.6v3.6h-3.6zM591.5,45.7h3.6v3.6h-3.6zM592.4,45.5h3.6v3.6h-3.6zM593.2,45.3h3.6v3.6h-3.6zM594.0,44.9h3.6v3.6h-3.6zM594.8,45.7h3.6v3.6h-3.6zM595.6,45.8h3.6v3.6h-3.6zM596.4,44.8h3.6v3.6h-3.6zM597.3,46.0h3.6v3.6h-3.6zM598.1,45.3h3.6v3.6h-3.6zM598.9,45.4h3.6v3.6h-3.6zM599.7,45.4h3.6v3.6h-3.6zM600.5,45.7h3.6v3.6h-3.6zM601.4,46.0h3.6v3.6h-3.6zM602.2,45.1h3.6v3.6h-3.6zM603.0,45.4h3.6v3.6h-3.6zM603.8,45.9h3.6v3.6h-3.6zM604.6,45.8h3.6v3.6h-3.6zM605.4,45.7h3.6v3.6h-3.6zM606.3,45.8h3.6v3.6h-3.6zM607.1,46.3h3.6v3.6h-3.6zM607.9,46.7h3.6v3.6h-3.6zM608.7,44.3h3.6v3.6h-3.6zM609.5,45.7h3.6v3.6h-3.6zM610.4,45.1h3.6v3.6h-3.6zM611.2,46.0h3.6v3.6h-3.6zM612.0,46.4h3.6v3.6h-3.6zM612.8,45.2h3.6v3.6h-3.6zM613.6,45.3h3.6v3.6h-3.6zM614.4,45.5h3.6v3.6h-3.6zM615.3,44.4h3.6v3.6h-3.6zM616.1,46.3h3.6v3.6h-3.6zM616.9,44.8h3.6v3.6h-3.6zM617.7,45.5h3.6v3.6h-3.6zM618.5,45.9h3.6v3.6h-3.6zM619.4,46.0h3.6v3.6h-3.6zM620.2,46.2h3.6v3.6h-3.6zM621.0,45.6h3.6v3.6h-3.6zM621.8,45.9h3.6v3.6h-3.6zM622.6,45.7h3.6v3.6h-3.6zM623.4,45.4h3.6v3.6h-3.6zM624.3,46.5h3.6v3.6h-3.6zM625.1,45.2h3.6v3.6h-3.6zM625.9,45.3h3.6v3.6h-3.6zM626.7,45.9h3.6v3.6h-3.6zM627.5,45.8h3.6v3.6h-3.6zM628.4,45.8h3.6v3.6h-3.6zM629.2,44.5h3.6v3.6h-3.6zM630.0,45.8h3.6v3.6h-3.6zM630.8,46.1h3.6v3.6h-3.6zM631.6,45.8h3.6v3.6h-3.6zM632.4,45.6h3.6v3.6h-3.6zM633.3,45.3h3.6v3.6h-3.6zM634.1,45.3h3.6v3.6h-3.6zM634.9,45.4h3.6v3.6h-3.6zM635.7,44.7h3.6v3.6h-3.6zM636.5,45.2h3.6v3.6h-3.6zM637.3,45.3h3.6v3.6h-3.6zM638.2,46.2h3.6v3.6h-3.6zM639.0,45.2h3.6v3.6h-3.6zM639.8,45.5h3.6v3.6h-3.6zM640.6,44.8h3.6v3.6h-3.6zM641.4,45.7h3.6v3.6h-3.6zM642.3,45.2h3.6v3.6h-3.6zM643.1,45.1h3.6v3.6h-3.6zM643.9,45.8h3.6v3.6h-3.6zM644.7,45.5h3.6v3.6h-3.6zM645.5,45.4h3.6v3.6h-3.6zM646.3,45.6h3.6v3.6h-3.6zM647.2,45.1h3.6v3.6h-3.6zM648.0,45.2h3.6v3.6h-3.6z" fill="#e8606c"/>
<path d="M405.0,45.7h2.6v2.6h-2.6z" fill="#74a6ee"/>
<path d="M405.0,50.7h2.6v2.6h-2.6z" fill="#74a6ee"/>
<path d="M405.2,61.7h2.6v2.6h-2.6z" fill="#74a6ee"/>
<path d="M405.2,69.2h2.6v2.6h-2.6z" fill="#74a6ee"/>
<path d="M421.7,51.2h2.6v2.6h-2.6z" fill="#e8606c"/>
<path d="M644.0,34.0h2.6v2.6h-2.6z" fill="#9a9a9a"/>
<path d="M615.3,52.1h2.6v2.6h-2.6z" fill="#9a9a9a"/>
<path d="M642.6,50.7h2.6v2.6h-2.6z" fill="#9a9a9a"/>
<path d="M628.0,35.1h2.6v2.6h-2.6z" fill="#74a6ee"/>
<path d="M626.4,53.0h2.6v2.6h-2.6z" fill="#74a6ee"/>
<path d="M592.0,49.3h2.6v2.6h-2.6z" fill="#74a6ee"/>
<polyline points="406.00,104.70 406.18,104.85 406.38,105.04 406.60,105.27 406.88,105.52 407.23,105.81 407.69,106.12 408.27,106.45 409.00,106.80 409.89,107.17 410.91,107.57 412.06,107.99 413.31,108.43 414.65,108.90 416.05,109.38 417.51,109.88 419.00,110.40 420.56,110.94 422.21,111.52 423.94,112.12 425.72,112.74 427.54,113.36 429.38,113.99 431.20,114.60 433.00,115.20 434.74,115.77 436.42,116.31 438.09,116.85 439.77,117.38 441.51,117.93 443.33,118.51 445.29,119.13 447.40,119.80 449.74,120.54 452.30,121.35 455.01,122.20 457.80,123.08 460.59,123.97 463.32,124.85 465.92,125.70 468.30,126.50 470.52,127.26 472.66,128.01 474.71,128.74 476.68,129.45 478.54,130.15 480.30,130.84 481.96,131.52 483.50,132.20 484.88,132.85 486.09,133.47 487.17,134.06 488.16,134.66 489.10,135.26 490.02,135.89 490.98,136.57 492.00,137.30 493.04,138.09 494.03,138.92 495.01,139.79 496.00,140.69 497.03,141.61 498.12,142.56 499.30,143.52 500.60,144.50 502.07,145.52 503.72,146.62 505.47,147.75 507.28,148.89 509.09,150.01 510.83,151.09 512.45,152.10 513.90,153.00 515.16,153.79 516.29,154.48 517.32,155.11 518.28,155.69 519.20,156.24 520.10,156.80 521.03,157.38 522.00,158.00 523.03,158.67 524.08,159.37 525.15,160.08 526.21,160.80 527.24,161.51 528.23,162.20 529.15,162.87 530.00,163.50 530.79,164.12 531.54,164.74 532.25,165.35 532.90,165.94 533.49,166.49 534.01,166.98 534.45,167.38 534.80,167.70" fill="none" stroke="#414141" stroke-width="4.2" stroke-linecap="round" stroke-linejoin="round" />
<circle cx="406.6" cy="97.2" r="1.6" fill="#414141"/>
<circle cx="406.6" cy="143.6" r="1.6" fill="#414141"/>
<circle cx="406.4" cy="87.2" r="1.6" fill="#414141"/>
<circle cx="468.3" cy="89.1" r="1.6" fill="#414141"/>
<circle cx="534.8" cy="182.2" r="1.6" fill="#414141"/>
<polyline points="406.60,102.60 407.60,102.72 408.90,102.88 410.44,103.07 412.18,103.28 414.05,103.49 416.01,103.69 418.01,103.87 420.00,104.00 421.87,104.08 423.61,104.12 425.36,104.13 427.21,104.13 429.29,104.13 431.70,104.15 434.57,104.20 438.00,104.30 442.05,104.44 446.62,104.61 451.64,104.81 457.00,105.03 462.61,105.26 468.38,105.50 474.20,105.75 480.00,106.00 485.80,106.25 491.70,106.50 497.72,106.77 503.88,107.04 510.17,107.32 516.61,107.63 523.22,107.95 530.00,108.30 537.03,108.68 544.32,109.08 551.81,109.50 559.44,109.94 567.13,110.39 574.84,110.85 582.48,111.33 590.00,111.80 597.83,112.31 606.20,112.88 614.79,113.47 623.25,114.07 631.24,114.64 638.42,115.15 644.46,115.58 649.00,115.90" fill="none" stroke="#74a6ee" stroke-width="4" stroke-linecap="round" stroke-linejoin="round" stroke-linecap="butt"/>
<polyline points="406.00,90.50 410.96,90.75 417.59,91.09 425.49,91.49 434.25,91.93 443.48,92.40 452.78,92.88 461.75,93.36 470.00,93.80 477.69,94.22 485.28,94.63 492.79,95.05 500.25,95.46 507.68,95.89 515.09,96.34 522.53,96.80 530.00,97.30 537.51,97.83 545.02,98.39 552.54,98.98 560.06,99.58 567.57,100.19 575.07,100.80 582.55,101.41 590.00,102.00 597.83,102.61 606.20,103.26 614.79,103.93 623.25,104.59 631.24,105.22 638.42,105.78 644.46,106.25 649.00,106.60" fill="none" stroke="#9a9a9a" stroke-width="4" stroke-linecap="round" stroke-linejoin="round" stroke-linecap="butt"/>
<polyline points="406.00,87.20 410.96,87.46 417.59,87.80 425.49,88.20 434.25,88.65 443.48,89.12 452.78,89.60 461.75,90.07 470.00,90.50 477.69,90.90 485.28,91.28 492.79,91.66 500.25,92.04 507.68,92.42 515.09,92.82 522.53,93.25 530.00,93.70 537.51,94.18 545.02,94.69 552.54,95.21 560.06,95.76 567.57,96.31 575.07,96.87 582.55,97.44 590.00,98.00 597.83,98.60 606.20,99.26 614.79,99.94 623.25,100.62 631.24,101.26 638.42,101.85 644.46,102.33 649.00,102.70" fill="none" stroke="#e8606c" stroke-width="4.2" stroke-linecap="round" stroke-linejoin="round" stroke-linecap="butt"/>
<rect x="405.20" y="19.00" width="245.40" height="164.20" fill="none" stroke="#4d4d4d" stroke-width="1.0"/>
<line x1="402.20" y1="183.20" x2="405.20" y2="183.20" stroke="#4d4d4d" stroke-width="0.9"/>
<line x1="402.20" y1="150.36" x2="405.20" y2="150.36" stroke="#4d4d4d" stroke-width="0.9"/>
<line x1="402.20" y1="117.52" x2="405.20" y2="117.52" stroke="#4d4d4d" stroke-width="0.9"/>
<line x1="402.20" y1="84.68" x2="405.20" y2="84.68" stroke="#4d4d4d" stroke-width="0.9"/>
<line x1="402.20" y1="51.84" x2="405.20" y2="51.84" stroke="#4d4d4d" stroke-width="0.9"/>
<line x1="402.20" y1="19.00" x2="405.20" y2="19.00" stroke="#4d4d4d" stroke-width="0.9"/>
<line x1="403.40" y1="166.78" x2="405.20" y2="166.78" stroke="#4d4d4d" stroke-width="0.9"/>
<line x1="403.40" y1="133.94" x2="405.20" y2="133.94" stroke="#4d4d4d" stroke-width="0.9"/>
<line x1="403.40" y1="101.10" x2="405.20" y2="101.10" stroke="#4d4d4d" stroke-width="0.9"/>
<line x1="403.40" y1="68.26" x2="405.20" y2="68.26" stroke="#4d4d4d" stroke-width="0.9"/>
<line x1="403.40" y1="35.42" x2="405.20" y2="35.42" stroke="#4d4d4d" stroke-width="0.9"/>
<line x1="647.80" y1="183.20" x2="650.60" y2="183.20" stroke="#4d4d4d" stroke-width="0.9"/>
<line x1="647.80" y1="155.83" x2="650.60" y2="155.83" stroke="#4d4d4d" stroke-width="0.9"/>
<line x1="647.80" y1="128.47" x2="650.60" y2="128.47" stroke="#4d4d4d" stroke-width="0.9"/>
<line x1="647.80" y1="101.10" x2="650.60" y2="101.10" stroke="#4d4d4d" stroke-width="0.9"/>
<line x1="647.80" y1="73.73" x2="650.60" y2="73.73" stroke="#4d4d4d" stroke-width="0.9"/>
<line x1="647.80" y1="46.37" x2="650.60" y2="46.37" stroke="#4d4d4d" stroke-width="0.9"/>
<line x1="647.80" y1="19.00" x2="650.60" y2="19.00" stroke="#4d4d4d" stroke-width="0.9"/>
<line x1="649.00" y1="169.52" x2="650.60" y2="169.52" stroke="#4d4d4d" stroke-width="0.9"/>
<line x1="649.00" y1="142.15" x2="650.60" y2="142.15" stroke="#4d4d4d" stroke-width="0.9"/>
<line x1="649.00" y1="114.78" x2="650.60" y2="114.78" stroke="#4d4d4d" stroke-width="0.9"/>
<line x1="649.00" y1="87.42" x2="650.60" y2="87.42" stroke="#4d4d4d" stroke-width="0.9"/>
<line x1="649.00" y1="60.05" x2="650.60" y2="60.05" stroke="#4d4d4d" stroke-width="0.9"/>
<line x1="649.00" y1="32.68" x2="650.60" y2="32.68" stroke="#4d4d4d" stroke-width="0.9"/>
<line x1="405.20" y1="183.20" x2="405.20" y2="185.80" stroke="#4d4d4d" stroke-width="0.9"/>
<line x1="446.10" y1="183.20" x2="446.10" y2="185.80" stroke="#4d4d4d" stroke-width="0.9"/>
<line x1="487.00" y1="183.20" x2="487.00" y2="185.80" stroke="#4d4d4d" stroke-width="0.9"/>
<line x1="527.90" y1="183.20" x2="527.90" y2="185.80" stroke="#4d4d4d" stroke-width="0.9"/>
<line x1="568.80" y1="183.20" x2="568.80" y2="185.80" stroke="#4d4d4d" stroke-width="0.9"/>
<line x1="609.70" y1="183.20" x2="609.70" y2="185.80" stroke="#4d4d4d" stroke-width="0.9"/>
<line x1="650.60" y1="183.20" x2="650.60" y2="185.80" stroke="#4d4d4d" stroke-width="0.9"/>
<line x1="425.65" y1="183.20" x2="425.65" y2="184.80" stroke="#4d4d4d" stroke-width="0.9"/>
<line x1="466.55" y1="183.20" x2="466.55" y2="184.80" stroke="#4d4d4d" stroke-width="0.9"/>
<line x1="507.45" y1="183.20" x2="507.45" y2="184.80" stroke="#4d4d4d" stroke-width="0.9"/>
<line x1="548.35" y1="183.20" x2="548.35" y2="184.80" stroke="#4d4d4d" stroke-width="0.9"/>
<line x1="589.25" y1="183.20" x2="589.25" y2="184.80" stroke="#4d4d4d" stroke-width="0.9"/>
<line x1="630.15" y1="183.20" x2="630.15" y2="184.80" stroke="#4d4d4d" stroke-width="0.9"/>
<text x="400.20" y="186.40" font-size="9.0" font-weight="bold" text-anchor="end" fill="#000" >0</text>
<text x="400.20" y="153.56" font-size="9.0" font-weight="bold" text-anchor="end" fill="#000" >500</text>
<text x="400.20" y="120.72" font-size="9.0" font-weight="bold" text-anchor="end" fill="#000" >1000</text>
<text x="400.20" y="87.88" font-size="9.0" font-weight="bold" text-anchor="end" fill="#000" >1500</text>
<text x="400.20" y="55.04" font-size="9.0" font-weight="bold" text-anchor="end" fill="#000" >2000</text>
<text x="400.20" y="22.20" font-size="9.0" font-weight="bold" text-anchor="end" fill="#000" >2500</text>
<text x="654.20" y="186.20" font-size="8.4" font-weight="bold" text-anchor="start" fill="#000" >90</text>
<text x="654.20" y="158.83" font-size="8.4" font-weight="bold" text-anchor="start" fill="#000" >92</text>
<text x="654.20" y="131.47" font-size="8.4" font-weight="bold" text-anchor="start" fill="#000" >94</text>
<text x="654.20" y="104.10" font-size="8.4" font-weight="bold" text-anchor="start" fill="#000" >96</text>
<text x="654.20" y="76.73" font-size="8.4" font-weight="bold" text-anchor="start" fill="#000" >98</text>
<text x="654.20" y="49.37" font-size="8.4" font-weight="bold" text-anchor="start" fill="#000" >100</text>
<text x="654.20" y="22.00" font-size="8.4" font-weight="bold" text-anchor="start" fill="#000" >102</text>
<text x="405.20" y="197.30" font-size="12.6" font-weight="bold" text-anchor="middle" fill="#000" >0</text>
<text x="446.10" y="197.30" font-size="12.6" font-weight="bold" text-anchor="middle" fill="#000" >100</text>
<text x="487.00" y="197.30" font-size="12.6" font-weight="bold" text-anchor="middle" fill="#000" >200</text>
<text x="527.90" y="197.30" font-size="12.6" font-weight="bold" text-anchor="middle" fill="#000" >300</text>
<text x="568.80" y="197.30" font-size="12.6" font-weight="bold" text-anchor="middle" fill="#000" >400</text>
<text x="609.70" y="197.30" font-size="12.6" font-weight="bold" text-anchor="middle" fill="#000" >500</text>
<text x="650.60" y="197.30" font-size="12.6" font-weight="bold" text-anchor="middle" fill="#000" >600</text>
<text x="528.40" y="211.50" font-size="10.8" font-weight="bold" text-anchor="middle" fill="#000" >Cycle number</text>
<text transform="translate(375.1,100.6) rotate(-90)" font-size="12.0" font-weight="bold" text-anchor="middle">Capacity (mAh)</text>
<text transform="translate(679.5,100.6) rotate(-90)" font-size="11.9" font-weight="bold" text-anchor="middle">Coulombic efficiency (%)</text>
<text x="358.30" y="16.30" font-size="19.5" font-weight="bold" text-anchor="start" fill="#000" >b</text>
<text x="418.40" y="13.10" font-size="11.3" font-weight="bold" text-anchor="start" fill="#000" >3.65 mAh cm<tspan dy="-4.4" font-size="10">-2</tspan></text>
<text x="512.90" y="13.10" font-size="10.9" font-weight="bold" text-anchor="start" fill="#000" >SiO<tspan dy="2.5" font-size="7.5">x</tspan><tspan dy="-2.5">@Gr(600 mAh g</tspan><tspan dy="-4" font-size="7.5">-1</tspan><tspan dy="4">)</tspan></text>
<text transform="translate(562.20,30.80) scale(1.0,0.93)" font-size="9.35" font-weight="bold" text-anchor="start" fill="#000" >1C/1C&#160;&#160;<tspan dx="0.8">30</tspan><tspan font-weight="normal" dx="1.2">&#176;</tspan><tspan font-weight="normal" dx="-1.2">C</tspan></text>
<circle cx="551.1" cy="143.70" r="2.4" fill="#414141"/>
<text x="562.40" y="146.70" font-size="8.1" font-weight="bold" text-anchor="start" fill="#000" >LE (without pressure)</text>
<circle cx="551.1" cy="153.80" r="2.4" fill="#74a6ee"/>
<text x="562.40" y="156.80" font-size="8.1" font-weight="bold" text-anchor="start" fill="#000" >QSE</text>
<circle cx="551.1" cy="163.90" r="2.4" fill="#e8606c"/>
<text x="562.40" y="166.90" font-size="8.1" font-weight="bold" text-anchor="start" fill="#000" >Upy-QSE</text>
<circle cx="551.1" cy="174.00" r="2.4" fill="#9a9a9a"/>
<text x="562.40" y="177.00" font-size="8.1" font-weight="bold" text-anchor="start" fill="#000" >LE (with pressure)</text>
<text x="646.60" y="74.90" font-size="9.6" font-weight="bold" text-anchor="end" fill="#e0606a" >83.0%</text>
<text x="646.60" y="84.40" font-size="9.6" font-weight="normal" text-anchor="end" fill="#8a8a8a" >78.7%</text>
<text x="646.60" y="95.60" font-size="9.6" font-weight="bold" text-anchor="end" fill="#5b8fe6" >69.8%</text>
<polyline points="59.50,273.00 60.70,273.18 62.32,273.43 64.23,273.73 66.36,274.06 68.60,274.40 70.85,274.73 73.02,275.04 75.00,275.30 76.72,275.53 78.25,275.73 79.69,275.93 81.14,276.11 82.72,276.28 84.51,276.45 86.64,276.62 89.20,276.80 92.19,276.98 95.52,277.15 99.13,277.33 102.99,277.50 107.05,277.67 111.26,277.85 115.60,278.02 120.00,278.20 124.42,278.37 128.88,278.54 133.45,278.69 138.18,278.86 143.13,279.03 148.38,279.22 153.98,279.44 160.00,279.70 166.59,280.00 173.76,280.33 181.36,280.69 189.21,281.07 197.16,281.46 205.04,281.85 212.71,282.23 220.00,282.60 227.30,282.97 234.92,283.37 242.61,283.78 250.10,284.18 257.12,284.56 263.40,284.90 268.68,285.18 272.70,285.40" fill="none" stroke="#86b5f0" stroke-width="4.2" stroke-linecap="round" stroke-linejoin="round" />
<polyline points="59.50,269.20 61.02,269.38 62.96,269.61 65.27,269.89 67.88,270.21 70.72,270.54 73.73,270.87 76.84,271.20 80.00,271.50 83.16,271.79 86.36,272.08 89.68,272.37 93.16,272.66 96.87,272.94 100.87,273.23 105.23,273.52 110.00,273.80 115.22,274.08 120.86,274.36 126.85,274.64 133.12,274.92 139.64,275.19 146.33,275.47 153.13,275.74 160.00,276.00 167.03,276.26 174.33,276.52 181.83,276.77 189.47,277.03 197.17,277.27 204.87,277.52 212.50,277.76 220.00,278.00 227.78,278.25 236.10,278.51 244.62,278.77 253.00,279.02 260.91,279.27 268.02,279.48 274.00,279.66 278.50,279.80" fill="none" stroke="#e8606c" stroke-width="4.6" stroke-linecap="round" stroke-linejoin="round" />
<polyline points="61.50,267.50 62.15,267.48 62.99,267.44 64.00,267.39 65.12,267.34 66.33,267.30 67.57,267.27 68.81,267.27 70.00,267.30 71.16,267.37 72.33,267.46 73.52,267.58 74.73,267.71 75.98,267.86 77.27,268.01 78.61,268.16 80.00,268.30 81.55,268.45 83.30,268.61 85.16,268.79 87.03,268.96 88.81,269.13 90.43,269.28 91.79,269.41 92.80,269.50" fill="none" stroke="#414141" stroke-width="3.2" stroke-linecap="round" stroke-linejoin="round" />
<circle cx="92.6" cy="323.1" r="2.1" fill="#414141"/>
<circle cx="92.8" cy="342.5" r="2.1" fill="#414141"/>
<circle cx="93.7" cy="351.8" r="2.1" fill="#414141"/>
<circle cx="93.9" cy="361.3" r="2.1" fill="#414141"/>
<circle cx="94.6" cy="369.9" r="2.1" fill="#414141"/>
<circle cx="95" cy="379.9" r="2.1" fill="#414141"/>
<polyline points="95.50,389.40 95.51,389.59 95.51,389.86 95.50,390.18 95.50,390.52 95.53,390.87 95.62,391.18 95.77,391.43 96.00,391.60 96.29,391.67 96.61,391.68 96.98,391.64 97.41,391.56 97.91,391.46 98.50,391.36 99.19,391.27 100.00,391.20 100.96,391.14 102.08,391.08 103.31,391.01 104.62,390.95 105.99,390.89 107.36,390.84 108.71,390.81 110.00,390.80 111.28,390.81 112.62,390.85 113.97,390.90 115.31,390.96 116.62,391.02 117.85,391.09 118.99,391.15 120.00,391.20 120.86,391.24 121.60,391.26 122.24,391.28 122.81,391.31 123.34,391.33 123.87,391.37 124.41,391.42 125.00,391.50 125.55,391.60 125.99,391.73 126.38,391.88 126.79,392.04 127.30,392.20 127.96,392.35 128.83,392.49 130.00,392.60 131.61,392.69 133.66,392.78 136.00,392.85 138.46,392.92 140.88,392.98 143.11,393.02 144.97,393.07 146.30,393.10" fill="none" stroke="#414141" stroke-width="3.6" stroke-linecap="round" stroke-linejoin="round" />
<polyline points="146.30,295.20 146.38,294.83 146.47,294.32 146.57,293.72 146.70,293.06 146.85,292.37 147.03,291.69 147.25,291.05 147.50,290.50 147.79,290.01 148.11,289.53 148.46,289.08 148.84,288.64 149.26,288.24 149.71,287.86 150.19,287.51 150.70,287.20 151.20,286.93 151.67,286.70 152.15,286.50 152.67,286.33 153.28,286.18 154.01,286.05 154.91,285.92 156.00,285.80 157.24,285.68 158.58,285.58 160.04,285.49 161.64,285.42 163.42,285.35 165.38,285.30 167.57,285.25 170.00,285.20 172.94,285.16 176.47,285.14 180.36,285.12 184.38,285.11 188.28,285.11 191.84,285.11 194.83,285.10 197.00,285.10" fill="none" stroke="#414141" stroke-width="3.6" stroke-linecap="round" stroke-linejoin="round" />
<polyline points="194.40,386.00 194.43,386.21 194.40,386.51 194.36,386.87 194.36,387.26 194.42,387.66 194.61,388.03 194.95,388.35 195.50,388.60 196.23,388.77 197.09,388.87 198.07,388.94 199.19,388.98 200.45,389.01 201.83,389.05 203.35,389.11 205.00,389.20 206.92,389.32 209.16,389.45 211.62,389.59 214.17,389.74 216.70,389.91 219.09,390.09 221.23,390.28 223.00,390.50 224.36,390.75 225.41,391.03 226.22,391.34 226.89,391.66 227.49,391.97 228.12,392.28 228.86,392.56 229.80,392.80 230.89,393.00 232.05,393.18 233.25,393.34 234.51,393.49 235.82,393.62 237.17,393.75 238.57,393.87 240.00,394.00 241.58,394.13 243.36,394.27 245.24,394.40 247.14,394.52 248.95,394.64 250.60,394.75 251.98,394.83 253.00,394.90" fill="none" stroke="#414141" stroke-width="3.6" stroke-linecap="round" stroke-linejoin="round" />
<polyline points="253.00,295.80 253.10,295.58 253.21,295.27 253.34,294.91 253.50,294.51 253.69,294.10 253.91,293.70 254.18,293.32 254.50,293.00 254.83,292.72 255.15,292.44 255.49,292.19 255.88,291.94 256.34,291.72 256.91,291.52 257.62,291.35 258.50,291.20 259.42,291.08 260.30,291.00 261.23,290.93 262.31,290.89 263.64,290.87 265.30,290.87 267.39,290.88 270.00,290.90 273.49,290.94 277.92,291.02 282.94,291.12 288.22,291.23 293.41,291.34 298.16,291.45 302.14,291.54 305.00,291.60" fill="none" stroke="#414141" stroke-width="3.6" stroke-linecap="round" stroke-linejoin="round" />
<rect x="58.70" y="235.40" width="248.00" height="169.10" fill="none" stroke="#4d4d4d" stroke-width="1.0"/>
<line x1="55.70" y1="404.50" x2="58.70" y2="404.50" stroke="#4d4d4d" stroke-width="0.9"/>
<line x1="55.70" y1="379.13" x2="58.70" y2="379.13" stroke="#4d4d4d" stroke-width="0.9"/>
<line x1="55.70" y1="353.77" x2="58.70" y2="353.77" stroke="#4d4d4d" stroke-width="0.9"/>
<line x1="55.70" y1="328.40" x2="58.70" y2="328.40" stroke="#4d4d4d" stroke-width="0.9"/>
<line x1="55.70" y1="303.04" x2="58.70" y2="303.04" stroke="#4d4d4d" stroke-width="0.9"/>
<line x1="55.70" y1="277.68" x2="58.70" y2="277.68" stroke="#4d4d4d" stroke-width="0.9"/>
<line x1="55.70" y1="252.31" x2="58.70" y2="252.31" stroke="#4d4d4d" stroke-width="0.9"/>
<line x1="56.90" y1="391.82" x2="58.70" y2="391.82" stroke="#4d4d4d" stroke-width="0.9"/>
<line x1="56.90" y1="366.45" x2="58.70" y2="366.45" stroke="#4d4d4d" stroke-width="0.9"/>
<line x1="56.90" y1="341.09" x2="58.70" y2="341.09" stroke="#4d4d4d" stroke-width="0.9"/>
<line x1="56.90" y1="315.72" x2="58.70" y2="315.72" stroke="#4d4d4d" stroke-width="0.9"/>
<line x1="56.90" y1="290.36" x2="58.70" y2="290.36" stroke="#4d4d4d" stroke-width="0.9"/>
<line x1="56.90" y1="264.99" x2="58.70" y2="264.99" stroke="#4d4d4d" stroke-width="0.9"/>
<line x1="56.90" y1="239.63" x2="58.70" y2="239.63" stroke="#4d4d4d" stroke-width="0.9"/>
<line x1="58.70" y1="404.50" x2="58.70" y2="407.10" stroke="#4d4d4d" stroke-width="0.9"/>
<line x1="108.30" y1="404.50" x2="108.30" y2="407.10" stroke="#4d4d4d" stroke-width="0.9"/>
<line x1="157.90" y1="404.50" x2="157.90" y2="407.10" stroke="#4d4d4d" stroke-width="0.9"/>
<line x1="207.50" y1="404.50" x2="207.50" y2="407.10" stroke="#4d4d4d" stroke-width="0.9"/>
<line x1="257.10" y1="404.50" x2="257.10" y2="407.10" stroke="#4d4d4d" stroke-width="0.9"/>
<line x1="306.70" y1="404.50" x2="306.70" y2="407.10" stroke="#4d4d4d" stroke-width="0.9"/>
<line x1="83.50" y1="404.50" x2="83.50" y2="406.10" stroke="#4d4d4d" stroke-width="0.9"/>
<line x1="133.10" y1="404.50" x2="133.10" y2="406.10" stroke="#4d4d4d" stroke-width="0.9"/>
<line x1="182.70" y1="404.50" x2="182.70" y2="406.10" stroke="#4d4d4d" stroke-width="0.9"/>
<line x1="232.30" y1="404.50" x2="232.30" y2="406.10" stroke="#4d4d4d" stroke-width="0.9"/>
<line x1="281.90" y1="404.50" x2="281.90" y2="406.10" stroke="#4d4d4d" stroke-width="0.9"/>
<text x="54.50" y="407.00" font-size="9.1" font-weight="bold" text-anchor="end" fill="#000" >0</text>
<text x="54.50" y="381.63" font-size="9.1" font-weight="bold" text-anchor="end" fill="#000" >300</text>
<text x="54.50" y="356.27" font-size="9.1" font-weight="bold" text-anchor="end" fill="#000" >600</text>
<text x="54.50" y="330.90" font-size="9.1" font-weight="bold" text-anchor="end" fill="#000" >900</text>
<text x="54.50" y="305.54" font-size="9.1" font-weight="bold" text-anchor="end" fill="#000" >1200</text>
<text x="54.50" y="280.18" font-size="9.1" font-weight="bold" text-anchor="end" fill="#000" >1500</text>
<text x="54.50" y="254.81" font-size="9.1" font-weight="bold" text-anchor="end" fill="#000" >1800</text>
<text x="58.70" y="417.70" font-size="11.2" font-weight="bold" text-anchor="middle" fill="#000" >0</text>
<text x="108.30" y="417.70" font-size="11.2" font-weight="bold" text-anchor="middle" fill="#000" >100</text>
<text x="157.90" y="417.70" font-size="11.2" font-weight="bold" text-anchor="middle" fill="#000" >200</text>
<text x="207.50" y="417.70" font-size="11.2" font-weight="bold" text-anchor="middle" fill="#000" >300</text>
<text x="257.10" y="417.70" font-size="11.2" font-weight="bold" text-anchor="middle" fill="#000" >400</text>
<text x="306.70" y="417.70" font-size="11.2" font-weight="bold" text-anchor="middle" fill="#000" >500</text>
<text x="182.50" y="430.70" font-size="8.9" font-weight="bold" text-anchor="middle" fill="#000" >Cycle number</text>
<text transform="translate(29.4,326.9) rotate(-90)" font-size="11.5" font-weight="bold" text-anchor="middle">Capacity (mAh)</text>
<text x="5.00" y="225.00" font-size="17.5" font-weight="bold" text-anchor="start" fill="#000" >c</text>
<path d="M89.20,249.30 L95.80,249.30 L95.80,259.00 L99.00,259.00 L92.50,265.80 L86.00,259.00 L89.20,259.00 Z" fill="#8db8ea" stroke="#4b6f9e" stroke-width="0.7"/>
<path d="M198.70,257.60 L205.30,257.60 L205.30,266.40 L208.50,266.40 L202.00,273.20 L195.50,266.40 L198.70,266.40 Z" fill="#8db8ea" stroke="#4b6f9e" stroke-width="0.7"/>
<path d="M143.20,325.30 L149.80,325.30 L149.80,315.50 L153.00,315.50 L146.50,308.70 L140.00,315.50 L143.20,315.50 Z" fill="#8db8ea" stroke="#4b6f9e" stroke-width="0.7"/>
<path d="M250.30,333.50 L256.90,333.50 L256.90,315.10 L260.10,315.10 L253.60,308.30 L247.10,315.10 L250.30,315.10 Z" fill="#8db8ea" stroke="#4b6f9e" stroke-width="0.7"/>
<text x="109.45" y="247.80" font-size="11.1" font-weight="bold" text-anchor="middle" fill="#000" >Pressure loss</text>
<text x="194.65" y="251.70" font-size="11.55" font-weight="bold" text-anchor="middle" fill="#000" >Pressure loss</text>
<text x="129.00" y="337.90" font-size="10.9" font-weight="bold" text-anchor="start" fill="#000" >Pressure</text>
<text x="129.00" y="350.30" font-size="10.9" font-weight="bold" text-anchor="start" fill="#000" >recover</text>
<text x="235.30" y="344.50" font-size="10.9" font-weight="bold" text-anchor="start" fill="#000" >Pressure</text>
<text x="235.30" y="357.30" font-size="10.9" font-weight="bold" text-anchor="start" fill="#000" >recover</text>
<circle cx="253.5" cy="240.50" r="2.8" fill="#414141"/>
<text x="264.50" y="243.30" font-size="7.6" font-weight="bold" text-anchor="start" fill="#000" >LE</text>
<circle cx="253.5" cy="250.45" r="2.8" fill="#86b5f0"/>
<text x="264.50" y="253.25" font-size="7.6" font-weight="bold" text-anchor="start" fill="#000" >QSE</text>
<circle cx="253.5" cy="260.40" r="2.8" fill="#e8606c"/>
<text x="264.50" y="263.20" font-size="7.6" font-weight="bold" text-anchor="start" fill="#000" >Upy-QSE</text>
<polyline points="407.80,247.57 409.36,250.77 410.92,252.52 412.48,253.84 414.04,255.15 415.60,256.47 417.16,257.79 418.72,259.10 420.28,260.42 421.84,261.74 423.40,263.05 424.96,264.37 426.52,265.68 428.08,267.00 429.64,268.32 431.20,269.75 432.76,271.20 434.32,272.65 435.88,274.10 437.44,275.55 439.00,277.00 440.56,278.45 442.12,279.90 443.68,281.35 445.24,282.80 446.80,284.25 448.36,285.70 449.92,287.05 451.48,288.39 453.04,289.73 454.60,291.07 456.16,292.41 457.72,293.75 459.28,295.09 460.84,296.43 462.40,297.77 463.96,299.11 465.52,300.45 467.08,301.79 468.64,302.90 470.20,304.02 471.76,305.14 473.32,306.26 474.88,307.38 476.44,308.50 478.00,309.61 479.56,311.37 481.12,313.22 482.68,315.06 484.24,316.90 485.80,318.74 487.36,320.58 488.92,322.43 490.48,324.55 492.04,326.80 493.60,329.05 495.16,331.30 496.72,333.56 498.28,335.81 499.84,338.06 501.40,340.91 502.96,344.26 504.52,347.60 506.08,350.94 507.64,354.29 509.20,358.54 510.76,363.06 512.32,367.57 513.88,374.35 515.44,381.62" fill="none" stroke="#f01a1a" stroke-width="1.1" stroke-linecap="round" stroke-linejoin="round" stroke-linecap="butt"/>
<polyline points="407.80,251.43 409.00,254.54 410.20,256.24 411.41,257.52 412.61,258.79 413.81,260.07 415.01,261.35 416.21,262.63 417.41,263.91 418.62,265.19 419.82,266.46 421.02,267.74 422.22,269.02 423.42,270.30 424.63,271.58 425.83,272.97 427.03,274.38 428.23,275.79 429.43,277.20 430.63,278.60 431.84,280.01 433.04,281.42 434.24,282.83 435.44,284.24 436.64,285.65 437.85,287.06 439.05,288.46 440.25,289.77 441.45,291.07 442.65,292.38 443.85,293.68 445.06,294.98 446.26,296.28 447.46,297.58 448.66,298.88 449.86,300.19 451.06,301.49 452.27,302.79 453.47,304.08 454.67,305.17 455.87,306.26 457.07,307.34 458.28,308.43 459.48,309.51 460.68,310.60 461.88,311.69 463.08,313.40 464.28,315.18 465.49,316.97 466.69,318.76 467.89,320.55 469.09,322.34 470.29,324.13 471.50,326.19 472.70,328.38 473.90,330.57 475.10,332.75 476.30,334.94 477.50,337.12 478.71,339.31 479.91,342.09 481.11,345.33 482.31,348.58 483.51,351.83 484.72,355.07 485.92,359.21 487.12,363.59 488.32,367.98 489.52,374.56 490.72,381.62" fill="none" stroke="#f01a1a" stroke-width="1.1" stroke-linecap="round" stroke-linejoin="round" stroke-linecap="butt"/>
<polyline points="407.80,254.85 408.81,257.88 409.83,259.54 410.84,260.78 411.85,262.02 412.86,263.27 413.88,264.51 414.89,265.76 415.90,267.00 416.92,268.25 417.93,269.49 418.94,270.74 419.95,271.98 420.97,273.23 421.98,274.47 422.99,275.83 424.01,277.20 425.02,278.57 426.03,279.94 427.05,281.31 428.06,282.68 429.07,284.06 430.08,285.43 431.10,286.80 432.11,288.17 433.12,289.54 434.14,290.91 435.15,292.19 436.16,293.46 437.17,294.72 438.19,295.99 439.20,297.26 440.21,298.52 441.23,299.79 442.24,301.06 443.25,302.33 444.26,303.59 445.28,304.86 446.29,306.12 447.30,307.18 448.32,308.24 449.33,309.30 450.34,310.35 451.35,311.41 452.37,312.47 453.38,313.53 454.39,315.19 455.41,316.93 456.42,318.67 457.43,320.42 458.45,322.16 459.46,323.90 460.47,325.64 461.48,327.65 462.50,329.78 463.51,331.91 464.52,334.04 465.54,336.17 466.55,338.29 467.56,340.42 468.57,343.13 469.59,346.29 470.60,349.45 471.61,352.61 472.63,355.77 473.64,359.80 474.65,364.07 475.66,368.34 476.68,374.75 477.69,381.62" fill="none" stroke="#f01a1a" stroke-width="1.1" stroke-linecap="round" stroke-linejoin="round" stroke-linecap="butt"/>
<polyline points="407.80,258.70 408.63,261.64 409.47,263.25 410.30,264.45 411.14,265.66 411.97,266.87 412.80,268.08 413.64,269.28 414.47,270.49 415.30,271.70 416.14,272.90 416.97,274.11 417.81,275.32 418.64,276.52 419.47,277.73 420.31,279.04 421.14,280.37 421.97,281.70 422.81,283.03 423.64,284.36 424.48,285.69 425.31,287.02 426.14,288.35 426.98,289.68 427.81,291.01 428.64,292.34 429.48,293.67 430.31,294.91 431.15,296.14 431.98,297.36 432.81,298.59 433.65,299.82 434.48,301.05 435.31,302.28 436.15,303.51 436.98,304.74 437.82,305.97 438.65,307.20 439.48,308.42 440.32,309.44 441.15,310.47 441.98,311.49 442.82,312.52 443.65,313.55 444.49,314.57 445.32,315.60 446.15,317.21 446.99,318.90 447.82,320.59 448.65,322.28 449.49,323.97 450.32,325.65 451.16,327.34 451.99,329.29 452.82,331.36 453.66,333.42 454.49,335.48 455.32,337.55 456.16,339.61 456.99,341.68 457.83,344.30 458.66,347.36 459.49,350.43 460.33,353.49 461.16,356.56 462.00,360.46 462.83,364.60 463.66,368.74 464.50,374.96 465.33,381.62" fill="none" stroke="#f01a1a" stroke-width="1.1" stroke-linecap="round" stroke-linejoin="round" stroke-linecap="butt"/>
<polyline points="407.80,262.78 408.47,265.62 409.13,267.17 409.80,268.34 410.46,269.50 411.13,270.67 411.80,271.84 412.46,273.00 413.13,274.17 413.79,275.34 414.46,276.50 415.13,277.67 415.79,278.84 416.46,280.01 417.12,281.17 417.79,282.44 418.46,283.73 419.12,285.01 419.79,286.30 420.45,287.59 421.12,288.87 421.79,290.16 422.45,291.44 423.12,292.73 423.78,294.02 424.45,295.30 425.12,296.59 425.78,297.78 426.45,298.97 427.12,300.16 427.78,301.34 428.45,302.53 429.11,303.72 429.78,304.91 430.45,306.10 431.11,307.29 431.78,308.47 432.44,309.66 433.11,310.84 433.78,311.84 434.44,312.83 435.11,313.82 435.77,314.81 436.44,315.80 437.11,316.79 437.77,317.78 438.44,319.34 439.10,320.98 439.77,322.61 440.44,324.24 441.10,325.88 441.77,327.51 442.43,329.14 443.10,331.03 443.77,333.02 444.43,335.02 445.10,337.01 445.76,339.01 446.43,341.00 447.10,343.00 447.76,345.53 448.43,348.50 449.09,351.46 449.76,354.42 450.43,357.39 451.09,361.16 451.76,365.16 452.42,369.17 453.09,375.18 453.76,381.62" fill="none" stroke="#f01a1a" stroke-width="1.1" stroke-linecap="round" stroke-linejoin="round" stroke-linecap="butt"/>
<polyline points="407.80,267.89 408.28,270.61 408.75,272.09 409.23,273.21 409.70,274.33 410.18,275.44 410.65,276.56 411.13,277.68 411.60,278.79 412.08,279.91 412.56,281.03 413.03,282.14 413.51,283.26 413.98,284.38 414.46,285.49 414.93,286.71 415.41,287.94 415.88,289.17 416.36,290.40 416.83,291.63 417.31,292.86 417.79,294.09 418.26,295.32 418.74,296.55 419.21,297.78 419.69,299.01 420.16,300.25 420.64,301.39 421.11,302.52 421.59,303.66 422.07,304.80 422.54,305.94 423.02,307.07 423.49,308.21 423.97,309.35 424.44,310.48 424.92,311.62 425.39,312.76 425.87,313.89 426.34,314.84 426.82,315.79 427.30,316.74 427.77,317.68 428.25,318.63 428.72,319.58 429.20,320.53 429.67,322.02 430.15,323.59 430.62,325.15 431.10,326.71 431.58,328.27 432.05,329.84 432.53,331.40 433.00,333.20 433.48,335.11 433.95,337.02 434.43,338.93 434.90,340.84 435.38,342.75 435.86,344.66 436.33,347.08 436.81,349.92 437.28,352.76 437.76,355.59 438.23,358.43 438.71,362.04 439.18,365.87 439.66,369.70 440.13,375.45 440.61,381.62" fill="none" stroke="#f01a1a" stroke-width="1.1" stroke-linecap="round" stroke-linejoin="round" stroke-linecap="butt"/>
<polyline points="407.80,271.85 408.14,274.48 408.48,275.91 408.82,276.99 409.15,278.07 409.49,279.14 409.83,280.22 410.17,281.30 410.51,282.38 410.85,283.45 411.19,284.53 411.53,285.61 411.86,286.69 412.20,287.77 412.54,288.84 412.88,290.02 413.22,291.20 413.56,292.39 413.90,293.58 414.24,294.77 414.57,295.96 414.91,297.14 415.25,298.33 415.59,299.52 415.93,300.71 416.27,301.89 416.61,303.08 416.95,304.18 417.28,305.28 417.62,306.38 417.96,307.48 418.30,308.57 418.64,309.67 418.98,310.77 419.32,311.86 419.66,312.96 419.99,314.06 420.33,315.16 420.67,316.25 421.01,317.17 421.35,318.08 421.69,319.00 422.03,319.91 422.36,320.83 422.70,321.74 423.04,322.66 423.38,324.10 423.72,325.61 424.06,327.12 424.40,328.62 424.74,330.13 425.07,331.64 425.41,333.15 425.75,334.89 426.09,336.73 426.43,338.58 426.77,340.42 427.11,342.26 427.45,344.11 427.78,345.95 428.12,348.29 428.46,351.03 428.80,353.76 429.14,356.50 429.48,359.24 429.82,362.72 430.16,366.42 430.49,370.12 430.83,375.67 431.17,381.62" fill="none" stroke="#f01a1a" stroke-width="1.1" stroke-linecap="round" stroke-linejoin="round" stroke-linecap="butt"/>
<polyline points="407.80,275.13 408.03,277.67 408.26,279.06 408.49,280.11 408.72,281.16 408.96,282.20 409.19,283.25 409.42,284.29 409.65,285.34 409.88,286.38 410.11,287.43 410.34,288.48 410.57,289.52 410.81,290.57 411.04,291.61 411.27,292.75 411.50,293.90 411.73,295.05 411.96,296.21 412.19,297.36 412.42,298.51 412.66,299.66 412.89,300.82 413.12,301.97 413.35,303.12 413.58,304.27 413.81,305.42 414.04,306.49 414.27,307.56 414.51,308.62 414.74,309.69 414.97,310.75 415.20,311.82 415.43,312.88 415.66,313.95 415.89,315.01 416.12,316.08 416.36,317.14 416.59,318.20 416.82,319.09 417.05,319.98 417.28,320.87 417.51,321.75 417.74,322.64 417.97,323.53 418.21,324.42 418.44,325.82 418.67,327.28 418.90,328.74 419.13,330.21 419.36,331.67 419.59,333.13 419.82,334.60 420.06,336.28 420.29,338.07 420.52,339.86 420.75,341.65 420.98,343.44 421.21,345.23 421.44,347.01 421.67,349.28 421.91,351.94 422.14,354.60 422.37,357.25 422.60,359.91 422.83,363.29 423.06,366.87 423.29,370.46 423.52,375.85 423.76,381.62" fill="none" stroke="#f01a1a" stroke-width="1.1" stroke-linecap="round" stroke-linejoin="round" stroke-linecap="butt"/>
<polyline points="407.80,278.59 407.92,281.05 408.04,282.40 408.17,283.41 408.29,284.42 408.41,285.43 408.53,286.45 408.65,287.46 408.78,288.47 408.90,289.48 409.02,290.49 409.14,291.50 409.27,292.52 409.39,293.53 409.51,294.54 409.63,295.64 409.75,296.75 409.88,297.87 410.00,298.98 410.12,300.10 410.24,301.21 410.36,302.33 410.49,303.44 410.61,304.56 410.73,305.67 410.85,306.79 410.98,307.90 411.10,308.94 411.22,309.97 411.34,311.00 411.46,312.03 411.59,313.06 411.71,314.09 411.83,315.12 411.95,316.15 412.07,317.18 412.20,318.21 412.32,319.24 412.44,320.26 412.56,321.12 412.69,321.98 412.81,322.84 412.93,323.70 413.05,324.56 413.17,325.42 413.30,326.28 413.42,327.63 413.54,329.05 413.66,330.46 413.78,331.88 413.91,333.29 414.03,334.71 414.15,336.12 414.27,337.76 414.40,339.49 414.52,341.22 414.64,342.95 414.76,344.68 414.88,346.41 415.01,348.14 415.13,350.33 415.25,352.90 415.37,355.47 415.49,358.04 415.62,360.61 415.74,363.88 415.86,367.35 415.98,370.83 416.11,376.03 416.23,381.62" fill="none" stroke="#f01a1a" stroke-width="1.1" stroke-linecap="round" stroke-linejoin="round" stroke-linecap="butt"/>
<polyline points="407.80,280.78 407.86,283.19 407.91,284.50 407.97,285.50 408.02,286.49 408.08,287.48 408.13,288.47 408.19,289.46 408.24,290.45 408.30,291.44 408.35,292.43 408.41,293.42 408.46,294.41 408.52,295.40 408.58,296.39 408.63,297.46 408.69,298.56 408.74,299.65 408.80,300.74 408.85,301.83 408.91,302.92 408.96,304.01 409.02,305.10 409.07,306.19 409.13,307.28 409.18,308.38 409.24,309.47 409.29,310.48 409.35,311.49 409.41,312.50 409.46,313.50 409.52,314.51 409.57,315.52 409.63,316.53 409.68,317.54 409.74,318.54 409.79,319.55 409.85,320.56 409.90,321.56 409.96,322.41 410.01,323.25 410.07,324.09 410.13,324.93 410.18,325.77 410.24,326.61 410.29,327.45 410.35,328.78 410.40,330.16 410.46,331.55 410.51,332.93 410.57,334.32 410.62,335.70 410.68,337.09 410.73,338.69 410.79,340.38 410.85,342.08 410.90,343.77 410.96,345.46 411.01,347.16 411.07,348.85 411.12,351.00 411.18,353.51 411.23,356.03 411.29,358.54 411.34,361.06 411.40,364.26 411.45,367.66 411.51,371.05 411.56,376.15 411.62,381.62" fill="none" stroke="#f01a1a" stroke-width="1.1" stroke-linecap="round" stroke-linejoin="round" stroke-linecap="butt"/>
<path d="M408,296 L410.5,312 L412.5,328 L415,342 L419,356 L423.5,369 L427.5,381.6 L408,381.6 Z" fill="#f01a1a"/>
<polyline points="408.02,245.51 408.17,248.37 408.36,252.20 408.59,256.80 408.84,261.98 409.10,267.56 409.35,273.35 409.54,279.60 409.67,286.53 409.80,293.86 410.01,301.30 410.35,308.59 410.90,315.44 411.69,321.91 412.69,328.24 413.82,334.41 415.03,340.41 416.23,346.22 417.36,351.84 418.51,357.53 419.76,363.36 421.00,369.00 422.15,374.14 423.12,378.46 423.83,381.62" fill="none" stroke="#f01a1a" stroke-width="1.0" stroke-linecap="round" stroke-linejoin="round" stroke-linecap="butt"/>
<polyline points="408.02,245.51 408.19,248.22 408.42,251.73 408.69,256.02 408.99,261.05 409.29,266.84 409.58,273.35 409.81,281.19 410.00,290.49 410.20,300.53 410.45,310.60 410.82,319.97 411.36,327.92 412.10,334.36 413.02,339.82 414.05,344.59 415.14,348.94 416.22,353.13 417.25,357.46 418.30,362.07 419.44,366.80 420.57,371.38 421.62,375.55 422.51,379.05 423.15,381.62" fill="none" stroke="#f01a1a" stroke-width="1.0" stroke-linecap="round" stroke-linejoin="round" stroke-linecap="butt"/>
<polyline points="408.02,245.51 408.10,248.43 408.20,252.38 408.32,257.10 408.45,262.35 408.59,267.85 408.73,273.35 408.84,278.98 408.93,284.97 409.02,291.22 409.15,297.63 409.35,304.09 409.66,310.50 410.10,316.99 410.64,323.66 411.25,330.38 411.90,337.03 412.55,343.49 413.16,349.62 413.78,355.73 414.46,362.00 415.13,368.06 415.75,373.59 416.28,378.22 416.66,381.62" fill="none" stroke="#f01a1a" stroke-width="1.0" stroke-linecap="round" stroke-linejoin="round" stroke-linecap="butt"/>
<polyline points="408.02,245.51 408.08,248.33 408.14,252.07 408.22,256.58 408.31,261.73 408.41,267.36 408.51,273.35 408.55,280.04 408.52,287.62 408.50,295.69 408.56,303.85 408.77,311.71 409.22,318.86 409.96,325.32 410.93,331.41 412.06,337.20 413.26,342.74 414.47,348.12 415.60,353.38 416.73,358.78 417.96,364.30 419.18,369.66 420.32,374.53 421.28,378.62 421.97,381.62" fill="none" stroke="#f01a1a" stroke-width="1.0" stroke-linecap="round" stroke-linejoin="round" stroke-linecap="butt"/>
<polyline points="408.02,245.51 408.11,248.28 408.22,251.90 408.36,256.30 408.51,261.39 408.66,267.10 408.82,273.35 408.90,280.61 408.89,289.05 408.89,298.10 408.98,307.22 409.27,315.83 409.84,323.38 410.75,329.83 411.94,335.61 413.32,340.89 414.80,345.84 416.28,350.62 417.66,355.41 419.05,360.42 420.56,365.55 422.06,370.52 423.45,375.04 424.63,378.84 425.48,381.62" fill="none" stroke="#f01a1a" stroke-width="1.0" stroke-linecap="round" stroke-linejoin="round" stroke-linecap="butt"/>
<polyline points="408.02,245.51 408.07,248.31 408.14,251.99 408.22,256.45 408.31,261.57 408.41,267.24 408.50,273.35 408.53,280.30 408.46,288.28 408.41,296.81 408.45,305.42 408.69,313.62 409.21,320.96 410.08,327.42 411.24,333.36 412.60,338.91 414.05,344.18 415.50,349.28 416.85,354.33 418.22,359.54 419.69,364.88 421.16,370.06 422.52,374.77 423.67,378.72 424.50,381.62" fill="none" stroke="#f01a1a" stroke-width="1.0" stroke-linecap="round" stroke-linejoin="round" stroke-linecap="butt"/>
<polyline points="408.02,245.51 408.13,248.37 408.27,252.20 408.43,256.81 408.61,261.99 408.80,267.57 408.99,273.35 409.14,279.58 409.25,286.48 409.37,293.78 409.53,301.19 409.79,308.45 410.17,315.29 410.72,321.76 411.39,328.10 412.16,334.28 412.97,340.30 413.78,346.14 414.54,351.77 415.32,357.47 416.16,363.32 417.00,368.98 417.78,374.13 418.44,378.45 418.91,381.62" fill="none" stroke="#f01a1a" stroke-width="1.0" stroke-linecap="round" stroke-linejoin="round" stroke-linecap="butt"/>
<polyline points="408.02,245.51 408.13,248.40 408.27,252.30 408.45,256.97 408.63,262.18 408.83,267.72 409.02,273.35 409.13,279.25 409.16,285.66 409.19,292.38 409.32,299.24 409.64,306.07 410.24,312.67 411.18,319.15 412.40,325.67 413.81,332.15 415.32,338.52 416.82,344.69 418.23,350.59 419.66,356.52 421.19,362.60 422.73,368.48 424.15,373.83 425.35,378.32 426.22,381.62" fill="none" stroke="#f01a1a" stroke-width="1.0" stroke-linecap="round" stroke-linejoin="round" stroke-linecap="butt"/>
<polyline points="408.02,245.51 408.18,248.37 408.38,252.18 408.63,256.78 408.90,261.96 409.17,267.54 409.44,273.35 409.64,279.64 409.79,286.63 409.95,294.03 410.18,301.54 410.53,308.88 411.08,315.76 411.86,322.23 412.84,328.53 413.95,334.67 415.12,340.62 416.29,346.40 417.40,351.98 418.53,357.65 419.74,363.45 420.96,369.07 422.08,374.18 423.03,378.47 423.72,381.62" fill="none" stroke="#f01a1a" stroke-width="1.0" stroke-linecap="round" stroke-linejoin="round" stroke-linecap="butt"/>
<polyline points="408.02,245.51 408.12,248.22 408.26,251.70 408.42,255.96 408.59,260.99 408.78,266.79 408.95,273.35 409.10,281.29 409.21,290.75 409.33,300.97 409.50,311.21 409.74,320.72 410.11,328.75 410.62,335.18 411.25,340.59 411.97,345.26 412.72,349.50 413.48,353.59 414.20,357.83 414.92,362.38 415.71,367.03 416.49,371.54 417.22,375.65 417.84,379.09 418.28,381.62" fill="none" stroke="#f01a1a" stroke-width="1.0" stroke-linecap="round" stroke-linejoin="round" stroke-linecap="butt"/>
<polyline points="407.80,238.37 407.89,238.29 407.98,238.21 408.08,238.13 408.17,238.04 408.26,237.95 408.35,237.86 408.44,237.77 408.53,237.67 408.63,237.56 408.72,237.45 408.81,237.33 408.90,237.21 408.99,237.08 409.08,236.94 409.18,236.80 409.27,236.66 409.36,236.50 409.45,236.34 409.54,236.18 409.63,236.02 409.73,235.85 409.82,235.67 409.91,235.50 410.00,235.32 410.09,235.15 410.18,234.97 410.28,234.80 410.37,234.62 410.46,234.45 410.55,234.29 410.64,234.12 410.74,233.97 410.83,233.81 410.92,233.67 411.01,233.52 411.10,233.39 411.19,233.26 411.29,233.14 411.38,233.02 411.47,232.91 411.56,232.80 411.65,232.70 411.74,232.61 411.84,232.51 411.93,232.43 412.02,232.34 412.11,232.26 412.20,232.18 412.29,232.10 415.10,232.10" fill="none" stroke="#f01a1a" stroke-width="1.1" stroke-linecap="round" stroke-linejoin="round" stroke-linecap="butt"/>
<polyline points="407.80,254.83 408.13,254.54 408.47,254.25 408.80,253.95 409.13,253.64 409.46,253.32 409.80,252.99 410.13,252.65 410.46,252.28 410.79,251.90 411.13,251.50 411.46,251.07 411.79,250.62 412.12,250.15 412.46,249.66 412.79,249.15 413.12,248.62 413.45,248.06 413.79,247.49 414.12,246.90 414.45,246.29 414.78,245.68 415.12,245.05 415.45,244.42 415.78,243.78 416.11,243.14 416.45,242.51 416.78,241.87 417.11,241.25 417.44,240.63 417.78,240.03 418.11,239.44 418.44,238.87 418.77,238.31 419.11,237.78 419.44,237.26 419.77,236.77 420.10,236.30 420.44,235.86 420.77,235.43 421.10,235.03 421.43,234.64 421.77,234.28 422.10,233.93 422.43,233.60 422.76,233.29 423.10,232.98 423.43,232.68 423.76,232.39 424.09,232.10 426.90,232.10" fill="none" stroke="#f01a1a" stroke-width="1.1" stroke-linecap="round" stroke-linejoin="round" stroke-linecap="butt"/>
<polyline points="407.80,274.73 408.42,274.19 409.05,273.64 409.67,273.08 410.29,272.51 410.92,271.91 411.54,271.29 412.17,270.64 412.79,269.96 413.41,269.24 414.04,268.48 414.66,267.69 415.28,266.85 415.91,265.97 416.53,265.05 417.16,264.08 417.78,263.08 418.40,262.04 419.03,260.97 419.65,259.86 420.27,258.73 420.90,257.57 421.52,256.40 422.15,255.21 422.77,254.02 423.39,252.82 424.02,251.62 424.64,250.44 425.26,249.26 425.89,248.11 426.51,246.97 427.14,245.87 427.76,244.79 428.38,243.75 429.01,242.75 429.63,241.79 430.25,240.86 430.88,239.98 431.50,239.15 432.13,238.35 432.75,237.59 433.37,236.87 434.00,236.19 434.62,235.54 435.24,234.92 435.87,234.32 436.49,233.75 437.12,233.19 437.74,232.64 438.36,232.10 441.17,232.10" fill="none" stroke="#f01a1a" stroke-width="1.1" stroke-linecap="round" stroke-linejoin="round" stroke-linecap="butt"/>
<polyline points="407.80,294.80 408.72,294.00 409.63,293.19 410.55,292.37 411.47,291.52 412.39,290.65 413.30,289.74 414.22,288.78 415.14,287.78 416.06,286.72 416.97,285.61 417.89,284.43 418.81,283.20 419.72,281.91 420.64,280.55 421.56,279.13 422.48,277.66 423.39,276.13 424.31,274.55 425.23,272.92 426.15,271.26 427.06,269.56 427.98,267.83 428.90,266.09 429.81,264.33 430.73,262.57 431.65,260.81 432.57,259.06 433.48,257.34 434.40,255.64 435.32,253.97 436.23,252.35 437.15,250.77 438.07,249.24 438.99,247.76 439.90,246.35 440.82,244.99 441.74,243.69 442.66,242.46 443.57,241.29 444.49,240.18 445.41,239.12 446.32,238.12 447.24,237.16 448.16,236.25 449.08,235.37 449.99,234.53 450.91,233.70 451.83,232.90 452.75,232.10 455.55,232.10" fill="none" stroke="#f01a1a" stroke-width="1.1" stroke-linecap="round" stroke-linejoin="round" stroke-linecap="butt"/>
<polyline points="407.80,313.29 408.99,312.26 410.18,311.21 411.36,310.15 412.55,309.05 413.74,307.92 414.93,306.74 416.11,305.50 417.30,304.20 418.49,302.83 419.68,301.39 420.87,299.87 422.05,298.28 423.24,296.60 424.43,294.84 425.62,293.01 426.81,291.10 427.99,289.12 429.18,287.07 430.37,284.97 431.56,282.81 432.74,280.61 433.93,278.37 435.12,276.11 436.31,273.84 437.50,271.55 438.68,269.28 439.87,267.02 441.06,264.78 442.25,262.58 443.44,260.42 444.62,258.32 445.81,256.27 447.00,254.29 448.19,252.38 449.37,250.55 450.56,248.79 451.75,247.11 452.94,245.52 454.13,244.00 455.31,242.56 456.50,241.19 457.69,239.89 458.88,238.65 460.07,237.47 461.25,236.34 462.44,235.24 463.63,234.18 464.82,233.13 466.00,232.10 468.81,232.10" fill="none" stroke="#f01a1a" stroke-width="1.1" stroke-linecap="round" stroke-linejoin="round" stroke-linecap="butt"/>
<polyline points="412.29,315.40 412.72,314.30 413.31,312.76 414.01,310.95 414.73,309.08 415.40,307.33 416.02,305.71 416.65,304.07 417.27,302.43 417.89,300.81 418.51,299.22 419.13,297.60 419.75,295.94 420.38,294.34 421.00,292.86 421.62,291.61 422.24,290.65 422.86,289.91 423.48,289.31 424.11,288.75 424.73,288.14 425.35,287.46 425.97,286.77 426.59,286.10 427.21,285.48 427.84,284.94 428.46,284.50 429.08,284.14 429.70,283.83 430.32,283.54 430.94,283.21 431.56,282.87 432.19,282.53 432.81,282.18 433.43,281.84 434.05,281.49 434.67,281.15 435.29,280.80 435.92,280.46 436.54,280.11 437.16,279.77 437.78,279.42 438.40,279.08 439.02,278.74 439.65,278.39 440.27,278.05 440.89,277.70 441.51,277.36 442.13,277.01 442.75,276.67 443.38,276.32 444.00,275.98 444.62,275.63 445.24,275.29 445.86,274.94 446.48,274.60 447.11,274.26 447.73,273.91 448.35,273.57 448.97,273.22 449.59,272.88 450.21,272.53 450.83,272.19 451.46,271.84 452.08,271.50 452.70,271.15 453.32,270.81 453.94,270.47 454.56,270.12 455.19,269.78 455.81,269.43 456.43,269.09 457.05,268.74 457.67,268.39 458.29,268.05 458.92,267.71 459.54,267.37 460.16,267.04 460.78,266.70 461.40,266.37 462.02,266.05 462.65,265.73 463.27,265.42 463.89,265.12 464.51,264.81 465.13,264.50 465.75,264.19 466.38,263.88 467.00,263.57 467.62,263.26 468.24,262.95 468.87,262.65 469.51,262.37 470.15,262.08 470.77,261.77 471.35,261.40 471.90,261.08 472.43,260.83 472.93,260.49 473.39,259.91 473.81,258.95 474.18,257.53 474.49,255.75 474.77,253.72 475.04,251.54 475.33,249.31 475.61,246.85 475.85,244.11 476.11,241.33 476.43,238.78 476.85,236.73 477.45,235.22 478.20,234.08 478.99,233.24 479.68,232.60 480.16,232.10" fill="none" stroke="#f01a1a" stroke-width="1.1" stroke-linecap="round" stroke-linejoin="round" stroke-linecap="butt"/>
<polyline points="412.29,315.40 412.80,314.26 413.52,312.64 414.35,310.76 415.22,308.81 416.03,306.99 416.77,305.26 417.52,303.49 418.26,301.74 419.01,300.07 419.76,298.54 420.50,297.17 421.25,295.91 421.99,294.74 422.74,293.65 423.49,292.62 424.23,291.64 424.98,290.73 425.73,289.89 426.47,289.12 427.22,288.45 427.96,287.89 428.71,287.44 429.46,287.06 430.20,286.70 430.95,286.30 431.69,285.89 432.44,285.47 433.19,285.06 433.93,284.65 434.68,284.24 435.43,283.82 436.17,283.41 436.92,283.00 437.66,282.58 438.41,282.17 439.16,281.76 439.90,281.34 440.65,280.93 441.40,280.51 442.14,280.10 442.89,279.69 443.63,279.27 444.38,278.86 445.13,278.45 445.87,278.03 446.62,277.62 447.36,277.21 448.11,276.79 448.86,276.38 449.60,275.96 450.35,275.55 451.10,275.14 451.84,274.72 452.59,274.31 453.33,273.90 454.08,273.48 454.83,273.07 455.57,272.66 456.32,272.24 457.06,271.83 457.81,271.41 458.56,270.99 459.30,270.57 460.05,270.16 460.80,269.76 461.54,269.37 462.29,269.00 463.03,268.63 463.78,268.27 464.53,267.90 465.27,267.52 466.02,267.15 466.77,266.78 467.51,266.41 468.26,266.03 469.00,265.66 469.75,265.29 470.50,264.92 471.24,264.54 471.99,264.17 472.73,263.80 473.48,263.43 474.23,263.06 474.97,262.68 475.72,262.31 476.47,261.94 477.21,261.57 477.96,261.19 478.70,260.82 479.45,260.45 480.21,260.09 480.98,259.73 481.75,259.38 482.49,259.00 483.18,258.59 483.83,258.22 484.46,257.92 485.05,257.55 485.59,256.98 486.06,256.08 486.45,254.79 486.77,253.20 487.04,251.40 487.30,249.46 487.58,247.47 487.85,245.28 488.10,242.83 488.36,240.34 488.68,238.07 489.10,236.24 489.70,234.89 490.45,233.87 491.24,233.12 491.93,232.55 492.41,232.10" fill="none" stroke="#f01a1a" stroke-width="1.1" stroke-linecap="round" stroke-linejoin="round" stroke-linecap="butt"/>
<polyline points="412.29,315.40 412.85,314.34 413.64,312.83 414.56,311.08 415.51,309.27 416.39,307.57 417.21,305.96 418.03,304.30 418.85,302.66 419.67,301.11 420.49,299.70 421.31,298.47 422.13,297.36 422.95,296.35 423.76,295.40 424.58,294.49 425.40,293.61 426.22,292.78 427.04,292.01 427.86,291.30 428.68,290.66 429.50,290.10 430.32,289.64 431.14,289.22 431.96,288.81 432.78,288.38 433.60,287.93 434.42,287.48 435.24,287.02 436.05,286.57 436.87,286.11 437.69,285.66 438.51,285.21 439.33,284.75 440.15,284.30 440.97,283.84 441.79,283.39 442.61,282.94 443.43,282.48 444.25,282.03 445.07,281.57 445.89,281.12 446.71,280.66 447.52,280.21 448.34,279.76 449.16,279.30 449.98,278.85 450.80,278.39 451.62,277.94 452.44,277.49 453.26,277.03 454.08,276.58 454.90,276.12 455.72,275.67 456.54,275.21 457.36,274.76 458.18,274.31 458.99,273.85 459.81,273.40 460.63,272.96 461.45,272.52 462.27,272.10 463.09,271.69 463.91,271.29 464.73,270.88 465.55,270.48 466.37,270.07 467.19,269.66 468.01,269.25 468.83,268.84 469.65,268.43 470.47,268.03 471.28,267.62 472.10,267.21 472.92,266.80 473.74,266.39 474.56,265.98 475.38,265.57 476.20,265.16 477.02,264.75 477.84,264.35 478.66,263.94 479.48,263.53 480.30,263.12 481.12,262.71 481.94,262.30 482.75,261.89 483.57,261.48 484.39,261.07 485.21,260.67 486.03,260.26 486.87,259.86 487.72,259.47 488.56,259.07 489.37,258.66 490.13,258.21 490.84,257.82 491.53,257.49 492.17,257.10 492.75,256.51 493.25,255.61 493.66,254.34 493.98,252.78 494.24,251.01 494.49,249.12 494.77,247.17 495.04,245.02 495.29,242.62 495.55,240.18 495.87,237.95 496.29,236.15 496.89,234.83 497.64,233.84 498.43,233.10 499.12,232.54 499.60,232.10" fill="none" stroke="#f01a1a" stroke-width="1.1" stroke-linecap="round" stroke-linejoin="round" stroke-linecap="butt"/>
<polyline points="412.29,315.40 412.91,314.37 413.77,312.91 414.78,311.22 415.83,309.46 416.80,307.82 417.70,306.26 418.61,304.65 419.51,303.07 420.41,301.57 421.31,300.21 422.21,299.01 423.11,297.93 424.02,296.94 424.92,296.03 425.82,295.17 426.72,294.38 427.62,293.66 428.52,293.01 429.42,292.40 430.33,291.81 431.23,291.25 432.13,290.74 433.03,290.27 433.93,289.79 434.83,289.31 435.74,288.81 436.64,288.31 437.54,287.81 438.44,287.31 439.34,286.81 440.24,286.31 441.14,285.81 442.05,285.31 442.95,284.81 443.85,284.31 444.75,283.81 445.65,283.31 446.55,282.81 447.46,282.31 448.36,281.81 449.26,281.31 450.16,280.81 451.06,280.31 451.96,279.81 452.87,279.31 453.77,278.81 454.67,278.31 455.57,277.81 456.47,277.31 457.37,276.81 458.27,276.32 459.18,275.82 460.08,275.33 460.98,274.85 461.88,274.37 462.78,273.91 463.68,273.46 464.59,273.01 465.49,272.57 466.39,272.12 467.29,271.67 468.19,271.22 469.09,270.77 470.00,270.32 470.90,269.87 471.80,269.42 472.70,268.97 473.60,268.52 474.50,268.07 475.40,267.62 476.31,267.17 477.21,266.72 478.11,266.27 479.01,265.82 479.91,265.37 480.81,264.92 481.72,264.47 482.62,264.02 483.52,263.57 484.42,263.12 485.32,262.67 486.22,262.22 487.13,261.77 488.03,261.32 488.93,260.87 489.83,260.42 490.73,259.97 491.63,259.52 492.53,259.07 493.44,258.62 494.36,258.18 495.29,257.75 496.22,257.32 497.11,256.86 497.94,256.37 498.73,255.92 499.47,255.51 500.17,255.04 500.80,254.42 501.34,253.53 501.77,252.34 502.08,250.91 502.34,249.31 502.59,247.60 502.86,245.83 503.13,243.88 503.38,241.68 503.64,239.47 503.96,237.43 504.38,235.80 504.98,234.59 505.73,233.68 506.52,233.01 507.21,232.50 507.69,232.10" fill="none" stroke="#f01a1a" stroke-width="1.1" stroke-linecap="round" stroke-linejoin="round" stroke-linecap="butt"/>
<rect x="407.30" y="232.10" width="3.2" height="149.52" fill="#f01a1a"/>
<path d="M407.80,232.10 L415.80,232.10 Q410.80,237.10 410.30,248.10 L407.80,252.10 Z" fill="#f01a1a"/>
<polyline points="410.20,242.80 410.39,242.93 410.60,243.10 410.86,243.30 411.16,243.53 411.52,243.77 411.94,244.01 412.43,244.26 413.00,244.50 413.66,244.73 414.40,244.97 415.21,245.21 416.08,245.46 417.01,245.71 417.98,245.97 418.98,246.23 420.00,246.50 421.06,246.75 422.18,246.96 423.34,247.17 424.53,247.39 425.75,247.64 427.00,247.94 428.25,248.32 429.50,248.80 430.65,249.35 431.66,249.94 432.63,250.58 433.64,251.28 434.80,252.06 436.18,252.94 437.88,253.91 440.00,255.00 442.60,256.21 445.63,257.53 448.98,258.96 452.56,260.47 456.27,262.06 460.01,263.72 463.69,265.44 467.20,267.20 470.60,269.04 474.00,270.98 477.40,273.01 480.80,275.09 484.20,277.20 487.60,279.32 491.00,281.43 494.40,283.50 497.84,285.58 501.35,287.72 504.88,289.89 508.39,292.04 511.86,294.16 515.24,296.19 518.50,298.12 521.60,299.90 524.56,301.50 527.43,302.93 530.21,304.23 532.89,305.47 535.46,306.68 537.92,307.93 540.27,309.25 542.50,310.70 544.57,312.24 546.46,313.80 548.21,315.39 549.86,317.04 551.46,318.75 553.04,320.53 554.64,322.41 556.30,324.40 558.02,326.52 559.76,328.78 561.50,331.14 563.24,333.57 564.95,336.04 566.62,338.53 568.24,340.99 569.80,343.40 571.32,345.83 572.83,348.34 574.32,350.88 575.75,353.41 577.12,355.87 578.39,358.22 579.56,360.41 580.60,362.40 581.50,364.17 582.27,365.76 582.94,367.20 583.52,368.52 584.03,369.77 584.48,370.95 584.90,372.12 585.30,373.30 585.67,374.51 585.98,375.73 586.23,376.93 586.44,378.08 586.62,379.14 586.76,380.09 586.89,380.89 587.00,381.50" fill="none" stroke="#000" stroke-width="3.0" stroke-linecap="round" stroke-linejoin="round" />
<polyline points="409.79,247.40 409.94,247.52 410.10,247.67 410.30,247.86 410.53,248.06 410.80,248.29 411.13,248.52 411.51,248.76 411.96,249.00 412.45,249.23 412.96,249.45 413.52,249.67 414.13,249.90 414.82,250.16 415.60,250.45 416.49,250.80 417.50,251.20 418.68,251.64 420.04,252.10 421.52,252.59 423.09,253.12 424.69,253.71 426.28,254.38 427.81,255.14 429.25,256.00 430.48,256.94 431.51,257.94 432.45,259.00 433.40,260.15 434.46,261.40 435.74,262.76 437.35,264.26 439.38,265.90 441.91,267.74 444.85,269.79 448.11,271.99 451.59,274.29 455.20,276.65 458.85,279.00 462.42,281.30 465.84,283.50 469.22,285.66 472.70,287.88 476.22,290.10 479.72,292.29 483.14,294.41 486.41,296.41 489.48,298.26 492.28,299.90 494.77,301.27 497.00,302.38 499.02,303.30 500.90,304.12 502.70,304.92 504.47,305.78 506.28,306.78 508.18,308.00 510.16,309.42 512.13,310.95 514.10,312.57 516.07,314.28 518.03,316.05 519.99,317.87 521.95,319.73 523.90,321.60 525.88,323.52 527.90,325.51 529.94,327.55 531.97,329.63 533.95,331.73 535.86,333.84 537.66,335.94 539.33,338.00 540.87,340.06 542.31,342.15 543.66,344.24 544.93,346.32 546.12,348.39 547.25,350.42 548.32,352.39 549.34,354.30 550.31,356.13 551.20,357.89 552.02,359.60 552.78,361.27 553.49,362.92 554.16,364.56 554.78,366.22 555.38,367.90 555.95,369.69 556.48,371.62 556.97,373.60 557.42,375.55 557.82,377.40 558.17,379.06 558.46,380.45 558.70,381.50" fill="none" stroke="#000" stroke-width="0.9" stroke-linecap="round" stroke-linejoin="round" />
<polyline points="409.80,247.40 409.94,247.52 410.11,247.67 410.30,247.86 410.53,248.06 410.81,248.29 411.13,248.52 411.52,248.76 411.97,249.00 412.46,249.23 412.97,249.45 413.53,249.67 414.14,249.90 414.83,250.16 415.61,250.45 416.50,250.80 417.52,251.20 418.70,251.64 420.06,252.10 421.55,252.59 423.11,253.12 424.72,253.71 426.31,254.38 427.85,255.14 429.29,256.00 430.53,256.94 431.57,257.94 432.51,259.00 433.47,260.15 434.54,261.40 435.83,262.76 437.45,264.26 439.50,265.90 442.04,267.74 444.99,269.79 448.27,271.99 451.77,274.29 455.40,276.65 459.06,279.00 462.66,281.30 466.09,283.50 469.49,285.66 472.99,287.88 476.53,290.10 480.04,292.29 483.48,294.41 486.77,296.41 489.86,298.26 492.67,299.90 495.18,301.27 497.41,302.38 499.44,303.30 501.33,304.12 503.13,304.92 504.91,305.78 506.73,306.78 508.65,308.00 510.64,309.42 512.62,310.95 514.61,312.57 516.59,314.28 518.57,316.05 520.55,317.87 522.52,319.73 524.49,321.60 526.49,323.52 528.53,325.51 530.59,327.55 532.64,329.63 534.64,331.73 536.57,333.84 538.40,335.94 540.08,338.00 541.64,340.06 543.10,342.15 544.47,344.24 545.76,346.32 546.97,348.39 548.12,350.42 549.22,352.39 550.26,354.30 551.24,356.13 552.15,357.89 552.99,359.60 553.77,361.27 554.49,362.92 555.18,364.56 555.82,366.22 556.44,367.90 557.02,369.69 557.57,371.62 558.09,373.60 558.55,375.55 558.97,377.40 559.34,379.06 559.65,380.45 559.90,381.50" fill="none" stroke="#000" stroke-width="0.9" stroke-linecap="round" stroke-linejoin="round" />
<polyline points="409.80,247.40 409.94,247.52 410.11,247.67 410.30,247.86 410.54,248.06 410.81,248.29 411.14,248.52 411.52,248.76 411.97,249.00 412.46,249.23 412.98,249.45 413.54,249.67 414.15,249.90 414.84,250.16 415.63,250.45 416.52,250.80 417.54,251.20 418.72,251.64 420.08,252.10 421.57,252.59 423.14,253.12 424.75,253.71 426.35,254.38 427.90,255.14 429.34,256.00 430.58,256.94 431.63,257.94 432.58,259.00 433.54,260.15 434.62,261.40 435.92,262.76 437.55,264.26 439.61,265.90 442.16,267.74 445.14,269.79 448.43,271.99 451.95,274.29 455.60,276.65 459.27,279.00 462.89,281.30 466.34,283.50 469.76,285.66 473.27,287.88 476.83,290.10 480.37,292.29 483.82,294.41 487.13,296.41 490.23,298.26 493.06,299.90 495.58,301.27 497.83,302.38 499.87,303.30 501.76,304.12 503.57,304.92 505.36,305.78 507.18,306.78 509.11,308.00 511.11,309.42 513.11,310.95 515.12,312.57 517.11,314.28 519.11,316.05 521.10,317.87 523.09,319.73 525.08,321.60 527.10,323.52 529.16,325.51 531.24,327.55 533.31,329.63 535.33,331.73 537.28,333.84 539.13,335.94 540.83,338.00 542.41,340.06 543.89,342.15 545.29,344.24 546.59,346.32 547.83,348.39 549.00,350.42 550.11,352.39 551.17,354.30 552.17,356.13 553.10,357.89 553.96,359.60 554.75,361.27 555.50,362.92 556.20,364.56 556.86,366.22 557.49,367.90 558.10,369.69 558.67,371.62 559.20,373.60 559.69,375.55 560.13,377.40 560.52,379.06 560.84,380.45 561.10,381.50" fill="none" stroke="#000" stroke-width="0.9" stroke-linecap="round" stroke-linejoin="round" />
<polyline points="409.80,247.40 409.94,247.52 410.11,247.67 410.31,247.86 410.54,248.06 410.82,248.29 411.15,248.52 411.53,248.76 411.98,249.00 412.47,249.23 412.99,249.45 413.55,249.67 414.17,249.90 414.86,250.16 415.64,250.45 416.54,250.80 417.55,251.20 418.74,251.64 420.11,252.10 421.60,252.59 423.17,253.12 424.78,253.71 426.39,254.38 427.94,255.14 429.39,256.00 430.64,256.94 431.69,257.94 432.65,259.00 433.62,260.15 434.70,261.40 436.01,262.76 437.65,264.26 439.72,265.90 442.29,267.74 445.28,269.79 448.59,271.99 452.13,274.29 455.79,276.65 459.49,279.00 463.12,281.30 466.59,283.50 470.03,285.66 473.56,287.88 477.14,290.10 480.70,292.29 484.17,294.41 487.49,296.41 490.61,298.26 493.45,299.90 495.98,301.27 498.24,302.38 500.29,303.30 502.19,304.12 504.00,304.92 505.80,305.78 507.64,306.78 509.58,308.00 511.59,309.42 513.61,310.95 515.62,312.57 517.64,314.28 519.65,316.05 521.66,317.87 523.67,319.73 525.67,321.60 527.71,323.52 529.79,325.51 531.89,327.55 533.98,329.63 536.02,331.73 537.99,333.84 539.86,335.94 541.59,338.00 543.18,340.06 544.69,342.15 546.10,344.24 547.43,346.32 548.68,348.39 549.87,350.42 551.01,352.39 552.09,354.30 553.11,356.13 554.05,357.89 554.93,359.60 555.74,361.27 556.50,362.92 557.22,364.56 557.90,366.22 558.55,367.90 559.17,369.69 559.76,371.62 560.32,373.60 560.83,375.55 561.29,377.40 561.69,379.06 562.03,380.45 562.30,381.50" fill="none" stroke="#000" stroke-width="0.9" stroke-linecap="round" stroke-linejoin="round" />
<polyline points="408.20,248.04 408.35,248.16 408.52,248.31 408.71,248.50 408.95,248.70 409.23,248.93 409.56,249.16 409.95,249.40 410.40,249.64 410.90,249.87 411.41,250.09 411.98,250.31 412.59,250.54 413.29,250.80 414.08,251.09 414.98,251.44 416.00,251.84 417.20,252.28 418.57,252.74 420.07,253.23 421.65,253.76 423.27,254.35 424.88,255.02 426.44,255.78 427.91,256.64 429.17,257.58 430.24,258.58 431.22,259.64 432.21,260.79 433.31,262.04 434.65,263.40 436.32,264.90 438.42,266.54 441.03,268.38 444.05,270.43 447.41,272.63 450.99,274.93 454.71,277.29 458.46,279.64 462.14,281.94 465.66,284.14 469.14,286.30 472.72,288.52 476.35,290.74 479.96,292.93 483.48,295.05 486.86,297.05 490.02,298.90 492.90,300.54 495.46,301.91 497.74,303.02 499.81,303.94 501.74,304.76 503.57,305.56 505.39,306.42 507.25,307.42 509.22,308.64 511.27,310.06 513.33,311.59 515.38,313.21 517.44,314.92 519.50,316.69 521.56,318.51 523.61,320.37 525.67,322.24 527.75,324.16 529.89,326.15 532.04,328.19 534.19,330.27 536.29,332.37 538.31,334.48 540.24,336.58 542.02,338.64 543.68,340.70 545.24,342.79 546.71,344.88 548.10,346.97 549.41,349.03 550.66,351.06 551.85,353.03 552.99,354.94 554.06,356.77 555.05,358.53 555.98,360.24 556.84,361.91 557.65,363.56 558.41,365.20 559.14,366.86 559.84,368.54 560.52,370.33 561.17,372.26 561.78,374.24 562.35,376.19 562.86,378.04 563.32,379.70 563.70,381.09 564.00,382.14" fill="none" stroke="#000" stroke-width="2.1" stroke-linecap="round" stroke-linejoin="round" />
<polyline points="409.30,247.60 409.45,247.72 409.62,247.87 409.81,248.06 410.05,248.26 410.33,248.49 410.66,248.72 411.05,248.96 411.50,249.20 412.00,249.43 412.51,249.65 413.08,249.87 413.69,250.10 414.39,250.36 415.18,250.65 416.08,251.00 417.10,251.40 418.30,251.84 419.67,252.30 421.17,252.79 422.75,253.32 424.37,253.91 425.98,254.58 427.54,255.34 429.01,256.20 430.27,257.14 431.34,258.14 432.32,259.20 433.31,260.35 434.41,261.60 435.75,262.96 437.42,264.46 439.52,266.10 442.13,267.94 445.15,269.99 448.51,272.19 452.09,274.49 455.81,276.85 459.56,279.20 463.24,281.50 466.76,283.70 470.24,285.86 473.82,288.08 477.45,290.30 481.06,292.49 484.58,294.61 487.96,296.61 491.12,298.46 494.00,300.10 496.56,301.47 498.84,302.58 500.91,303.50 502.84,304.32 504.67,305.12 506.49,305.98 508.35,306.98 510.32,308.20 512.37,309.62 514.43,311.15 516.48,312.77 518.54,314.48 520.60,316.25 522.66,318.07 524.71,319.93 526.77,321.80 528.85,323.72 530.99,325.71 533.14,327.75 535.29,329.83 537.39,331.93 539.41,334.04 541.34,336.14 543.12,338.20 544.78,340.26 546.34,342.35 547.81,344.44 549.20,346.52 550.51,348.59 551.76,350.62 552.95,352.59 554.09,354.50 555.16,356.33 556.15,358.09 557.08,359.80 557.94,361.47 558.75,363.12 559.51,364.76 560.24,366.42 560.94,368.10 561.62,369.89 562.27,371.82 562.88,373.80 563.45,375.75 563.96,377.60 564.42,379.26 564.80,380.65 565.10,381.70" fill="none" stroke="#000" stroke-width="2.1" stroke-linecap="round" stroke-linejoin="round" />
<polyline points="410.40,247.16 410.55,247.28 410.72,247.43 410.91,247.62 411.15,247.82 411.43,248.05 411.76,248.28 412.15,248.52 412.60,248.76 413.10,248.99 413.61,249.21 414.18,249.43 414.79,249.66 415.49,249.92 416.28,250.21 417.18,250.56 418.20,250.96 419.40,251.40 420.77,251.86 422.27,252.35 423.85,252.88 425.47,253.47 427.08,254.14 428.64,254.90 430.11,255.76 431.37,256.70 432.44,257.70 433.42,258.76 434.41,259.91 435.51,261.16 436.85,262.52 438.52,264.02 440.62,265.66 443.23,267.50 446.25,269.55 449.61,271.75 453.19,274.05 456.91,276.41 460.66,278.76 464.34,281.06 467.86,283.26 471.34,285.42 474.92,287.64 478.55,289.86 482.16,292.05 485.68,294.17 489.06,296.17 492.22,298.02 495.10,299.66 497.66,301.03 499.94,302.14 502.01,303.06 503.94,303.88 505.77,304.68 507.59,305.54 509.45,306.54 511.42,307.76 513.47,309.18 515.53,310.71 517.58,312.33 519.64,314.04 521.70,315.81 523.76,317.63 525.81,319.49 527.87,321.36 529.95,323.28 532.09,325.27 534.24,327.31 536.39,329.39 538.49,331.49 540.51,333.60 542.44,335.70 544.22,337.76 545.88,339.82 547.44,341.91 548.91,344.00 550.30,346.08 551.61,348.15 552.86,350.18 554.05,352.15 555.19,354.06 556.26,355.89 557.25,357.65 558.18,359.36 559.04,361.03 559.85,362.68 560.61,364.32 561.34,365.98 562.04,367.66 562.72,369.45 563.37,371.38 563.98,373.36 564.55,375.31 565.06,377.16 565.52,378.82 565.90,380.21 566.20,381.26" fill="none" stroke="#000" stroke-width="2.1" stroke-linecap="round" stroke-linejoin="round" />
<polyline points="411.30,246.80 411.45,246.92 411.62,247.07 411.81,247.26 412.05,247.46 412.33,247.69 412.66,247.92 413.05,248.16 413.50,248.40 414.00,248.63 414.51,248.85 415.08,249.07 415.69,249.30 416.39,249.56 417.18,249.85 418.08,250.20 419.10,250.60 420.30,251.04 421.67,251.50 423.17,251.99 424.75,252.52 426.37,253.11 427.98,253.78 429.54,254.54 431.01,255.40 432.27,256.34 433.34,257.34 434.32,258.40 435.31,259.55 436.41,260.80 437.75,262.16 439.42,263.66 441.52,265.30 444.13,267.14 447.15,269.19 450.51,271.39 454.09,273.69 457.81,276.05 461.56,278.40 465.24,280.70 468.76,282.90 472.24,285.06 475.82,287.28 479.45,289.50 483.06,291.69 486.58,293.81 489.96,295.81 493.12,297.66 496.00,299.30 498.56,300.67 500.84,301.78 502.91,302.70 504.84,303.52 506.67,304.32 508.49,305.18 510.35,306.18 512.32,307.40 514.37,308.82 516.43,310.35 518.48,311.97 520.54,313.68 522.60,315.45 524.66,317.27 526.71,319.13 528.77,321.00 530.85,322.92 532.99,324.91 535.14,326.95 537.29,329.03 539.39,331.13 541.41,333.24 543.34,335.34 545.12,337.40 546.78,339.46 548.34,341.55 549.81,343.64 551.20,345.72 552.51,347.79 553.76,349.82 554.95,351.79 556.09,353.70 557.16,355.53 558.15,357.29 559.08,359.00 559.94,360.67 560.75,362.32 561.51,363.96 562.24,365.62 562.94,367.30 563.62,369.09 564.27,371.02 564.88,373.00 565.45,374.95 565.96,376.80 566.42,378.46 566.80,379.85 567.10,380.90" fill="none" stroke="#000" stroke-width="2.1" stroke-linecap="round" stroke-linejoin="round" />
<polyline points="412.40,315.47 412.90,314.74 413.47,313.81 414.15,312.70 414.95,311.45 415.91,310.07 417.05,308.60 418.40,307.06 420.00,305.47 421.86,303.80 423.96,302.01 426.28,300.13 428.77,298.16 431.43,296.12 434.20,294.05 437.07,291.94 440.00,289.83 443.06,287.67 446.29,285.41 449.67,283.10 453.15,280.76 456.68,278.42 460.23,276.11 463.75,273.87 467.20,271.72 470.60,269.67 474.00,267.69 477.40,265.76 480.80,263.87 484.20,262.00 487.60,260.14 491.00,258.28 494.40,256.40 497.91,254.45 501.58,252.44 505.31,250.40 509.01,248.37 512.59,246.42 515.94,244.57 518.98,242.89 521.60,241.40 523.77,240.13 525.54,239.03 527.01,238.07 528.26,237.23 529.36,236.48 530.39,235.80 531.45,235.14 532.60,234.50 533.77,233.89 534.85,233.36 535.87,232.90 536.87,232.48 537.87,232.10 538.93,231.73 540.06,231.37 541.30,231.00 542.71,230.62 544.26,230.23 545.91,229.85 547.59,229.49 549.26,229.16 550.86,228.86 552.32,228.60 553.60,228.40 554.73,228.26 555.76,228.18 556.71,228.14 557.57,228.14 558.33,228.15 558.99,228.18 559.55,228.20 560.00,228.20" fill="none" stroke="#000" stroke-width="0.9" stroke-linecap="round" stroke-linejoin="round" />
<polyline points="412.40,315.48 412.90,314.75 413.47,313.83 414.15,312.74 414.95,311.50 415.91,310.14 417.05,308.68 418.40,307.16 420.00,305.60 421.86,303.96 423.96,302.21 426.28,300.36 428.77,298.44 431.43,296.45 434.20,294.42 437.07,292.36 440.00,290.30 443.06,288.19 446.29,285.99 449.67,283.74 453.15,281.47 456.68,279.19 460.23,276.94 463.75,274.75 467.20,272.64 470.60,270.62 474.00,268.65 477.40,266.74 480.80,264.85 484.20,262.99 487.60,261.14 491.00,259.28 494.40,257.40 497.91,255.46 501.58,253.44 505.31,251.40 509.01,249.38 512.59,247.42 515.94,245.57 518.98,243.89 521.60,242.40 523.77,241.13 525.54,240.03 527.01,239.07 528.26,238.23 529.36,237.48 530.39,236.80 531.45,236.14 532.60,235.50 533.77,234.89 534.85,234.36 535.87,233.90 536.87,233.48 537.87,233.10 538.93,232.73 540.06,232.37 541.30,232.00 542.71,231.62 544.26,231.23 545.91,230.85 547.59,230.49 549.26,230.16 550.86,229.86 552.32,229.60 553.60,229.40 554.73,229.26 555.76,229.18 556.71,229.14 557.57,229.14 558.33,229.15 558.99,229.18 559.55,229.20 560.00,229.20" fill="none" stroke="#000" stroke-width="0.9" stroke-linecap="round" stroke-linejoin="round" />
<polyline points="412.40,315.49 412.90,314.77 413.47,313.85 414.15,312.77 414.95,311.54 415.91,310.19 417.05,308.75 418.40,307.25 420.00,305.71 421.86,304.09 423.96,302.37 426.28,300.55 428.77,298.66 431.43,296.71 434.20,294.71 437.07,292.70 440.00,290.67 443.06,288.61 446.29,286.46 449.67,284.26 453.15,282.03 456.68,279.81 460.23,277.60 463.75,275.45 467.20,273.38 470.60,271.38 474.00,269.43 477.40,267.52 480.80,265.64 484.20,263.78 487.60,261.93 491.00,260.07 494.40,258.20 497.91,256.26 501.58,254.25 505.31,252.21 509.01,250.18 512.59,248.22 515.94,246.38 518.98,244.69 521.60,243.20 523.77,241.93 525.54,240.83 527.01,239.87 528.26,239.03 529.36,238.28 530.39,237.60 531.45,236.94 532.60,236.30 533.77,235.69 534.85,235.16 535.87,234.70 536.87,234.28 537.87,233.90 538.93,233.53 540.06,233.17 541.30,232.80 542.71,232.42 544.26,232.03 545.91,231.65 547.59,231.29 549.26,230.96 550.86,230.66 552.32,230.40 553.60,230.20 554.73,230.06 555.76,229.98 556.71,229.94 557.57,229.94 558.33,229.95 558.99,229.98 559.55,230.00 560.00,230.00" fill="none" stroke="#000" stroke-width="0.9" stroke-linecap="round" stroke-linejoin="round" />
<polyline points="412.40,315.49 412.90,314.78 413.47,313.87 414.15,312.80 414.95,311.58 415.91,310.24 417.05,308.82 418.40,307.34 420.00,305.82 421.86,304.23 423.96,302.53 426.28,300.74 428.77,298.88 431.43,296.96 434.20,295.00 437.07,293.04 440.00,291.07 443.06,289.08 446.29,287.02 449.67,284.92 453.15,282.80 456.68,280.68 460.23,278.57 463.75,276.51 467.20,274.50 470.60,272.55 474.00,270.64 477.40,268.76 480.80,266.90 484.20,265.06 487.60,263.21 491.00,261.36 494.40,259.50 497.91,257.57 501.58,255.56 505.31,253.52 509.01,251.49 512.59,249.53 515.94,247.68 518.98,245.99 521.60,244.50 523.77,243.23 525.54,242.13 527.01,241.17 528.26,240.33 529.36,239.58 530.39,238.90 531.45,238.24 532.60,237.60 533.77,236.99 534.85,236.46 535.87,236.00 536.87,235.58 537.87,235.20 538.93,234.83 540.06,234.47 541.30,234.10 542.71,233.72 544.26,233.33 545.91,232.95 547.59,232.59 549.26,232.26 550.86,231.96 552.32,231.70 553.60,231.50 554.73,231.36 555.76,231.28 556.71,231.24 557.57,231.24 558.33,231.25 558.99,231.28 559.55,231.30 560.00,231.30" fill="none" stroke="#000" stroke-width="2.0" stroke-linecap="round" stroke-linejoin="round" />
<polyline points="412.40,315.50 412.90,314.80 413.47,313.91 414.15,312.84 414.95,311.64 415.91,310.33 417.05,308.94 418.40,307.48 420.00,306.00 421.86,304.46 423.96,302.81 426.28,301.08 428.77,299.28 431.43,297.42 434.20,295.53 437.07,293.62 440.00,291.70 443.06,289.75 446.29,287.74 449.67,285.68 453.15,283.59 456.68,281.51 460.23,279.43 463.75,277.39 467.20,275.40 470.60,273.46 474.00,271.56 477.40,269.68 480.80,267.82 484.20,265.97 487.60,264.12 491.00,262.27 494.40,260.40 497.91,258.47 501.58,256.46 505.31,254.42 509.01,252.39 512.59,250.43 515.94,248.58 518.98,246.89 521.60,245.40 523.77,244.13 525.54,243.03 527.01,242.07 528.26,241.23 529.36,240.48 530.39,239.80 531.45,239.14 532.60,238.50 533.77,237.89 534.85,237.36 535.87,236.90 536.87,236.48 537.87,236.10 538.93,235.73 540.06,235.37 541.30,235.00 542.71,234.62 544.26,234.23 545.91,233.85 547.59,233.49 549.26,233.16 550.86,232.86 552.32,232.60 553.60,232.40 554.73,232.26 555.76,232.18 556.71,232.14 557.57,232.14 558.33,232.15 558.99,232.18 559.55,232.20 560.00,232.20" fill="none" stroke="#000" stroke-width="2.0" stroke-linecap="round" stroke-linejoin="round" />
<polyline points="412.40,315.51 412.90,314.82 413.47,313.94 414.15,312.89 414.95,311.71 415.91,310.42 417.05,309.05 418.40,307.63 420.00,306.18 421.86,304.68 423.96,303.09 426.28,301.41 428.77,299.67 431.43,297.88 434.20,296.05 437.07,294.20 440.00,292.33 443.06,290.42 446.29,288.45 449.67,286.43 453.15,284.39 456.68,282.33 460.23,280.29 463.75,278.27 467.20,276.30 470.60,274.38 474.00,272.48 477.40,270.60 480.80,268.74 484.20,266.88 487.60,265.03 491.00,263.17 494.40,261.30 497.91,259.37 501.58,257.36 505.31,255.32 509.01,253.29 512.59,251.33 515.94,249.48 518.98,247.79 521.60,246.30 523.77,245.03 525.54,243.93 527.01,242.97 528.26,242.13 529.36,241.38 530.39,240.70 531.45,240.04 532.60,239.40 533.77,238.79 534.85,238.26 535.87,237.80 536.87,237.38 537.87,237.00 538.93,236.63 540.06,236.27 541.30,235.90 542.71,235.52 544.26,235.13 545.91,234.75 547.59,234.39 549.26,234.06 550.86,233.76 552.32,233.50 553.60,233.30 554.73,233.16 555.76,233.08 556.71,233.04 557.57,233.04 558.33,233.05 558.99,233.08 559.55,233.10 560.00,233.10" fill="none" stroke="#000" stroke-width="2.0" stroke-linecap="round" stroke-linejoin="round" />
<polyline points="412.33,315.47 412.74,314.73 413.21,313.79 413.76,312.67 414.42,311.41 415.20,310.02 416.14,308.53 417.25,306.97 418.56,305.36 420.08,303.66 421.78,301.84 423.66,299.92 425.70,297.91 427.86,295.84 430.14,293.72 432.51,291.59 434.96,289.46 437.51,287.28 440.20,285.03 443.00,282.71 445.91,280.37 448.89,278.04 451.95,275.75 455.06,273.53 458.20,271.40 461.41,269.38 464.72,267.43 468.11,265.55 471.55,263.71 475.03,261.89 478.51,260.08 481.97,258.25 485.40,256.40 488.91,254.47 492.58,252.46 496.31,250.42 500.01,248.39 503.59,246.43 506.94,244.58 509.98,242.89 512.60,241.40 514.77,240.13 516.54,239.03 518.01,238.07 519.26,237.23 520.36,236.48 521.39,235.80 522.45,235.14 523.60,234.50 524.86,233.88 526.14,233.30 527.41,232.78 528.64,232.32 529.78,231.91 530.79,231.55 531.64,231.25 532.30,231.00" fill="none" stroke="#f01a1a" stroke-width="0.95" stroke-linecap="round" stroke-linejoin="round" />
<polyline points="412.37,315.45 412.83,314.68 413.36,313.71 413.98,312.56 414.71,311.26 415.60,309.82 416.65,308.28 417.89,306.65 419.36,304.96 421.07,303.17 422.99,301.24 425.12,299.19 427.41,297.05 429.84,294.84 432.40,292.59 435.05,290.32 437.76,288.06 440.59,285.74 443.58,283.33 446.71,280.86 449.93,278.36 453.22,275.88 456.55,273.45 459.89,271.11 463.20,268.90 466.52,266.83 469.88,264.86 473.27,262.97 476.69,261.14 480.12,259.34 483.56,257.55 486.99,255.75 490.40,253.90 493.91,251.97 497.58,249.96 501.31,247.92 505.01,245.89 508.59,243.93 511.94,242.08 514.98,240.39 517.60,238.90 519.77,237.63 521.54,236.53 523.01,235.57 524.26,234.73 525.36,233.98 526.39,233.30 527.45,232.64 528.60,232.00 529.86,231.38 531.14,230.80 532.41,230.28 533.64,229.82 534.78,229.41 535.79,229.05 536.64,228.75 537.30,228.50" fill="none" stroke="#f01a1a" stroke-width="0.95" stroke-linecap="round" stroke-linejoin="round" />
<polyline points="412.40,316.00 412.90,315.56 413.47,314.99 414.15,314.31 414.95,313.55 415.91,312.72 417.05,311.84 418.40,310.92 420.00,310.00 421.86,309.07 423.96,308.11 426.28,307.12 428.77,306.07 431.43,304.97 434.20,303.80 437.07,302.55 440.00,301.20 443.06,299.72 446.29,298.10 449.67,296.39 453.15,294.61 456.68,292.81 460.23,291.01 463.75,289.27 467.20,287.60 470.60,286.01 474.00,284.45 477.40,282.93 480.80,281.42 484.20,279.92 487.60,278.42 491.00,276.92 494.40,275.40 497.80,273.88 501.20,272.36 504.60,270.85 508.00,269.34 511.40,267.81 514.80,266.27 518.20,264.70 521.60,263.10 525.12,261.41 528.80,259.63 532.56,257.79 536.28,255.94 539.86,254.14 543.21,252.44 546.22,250.87 548.80,249.50 550.86,248.32 552.46,247.29 553.71,246.38 554.73,245.57 555.64,244.84 556.54,244.17 557.56,243.53 558.80,242.90 560.26,242.32 561.84,241.83 563.48,241.40 565.14,241.01 566.77,240.64 568.34,240.27 569.80,239.86 571.10,239.40 572.24,238.88 573.26,238.32 574.19,237.74 575.04,237.14 575.83,236.56 576.59,235.99 577.34,235.47 578.10,235.00 578.85,234.57 579.56,234.17 580.24,233.79 580.90,233.44 581.54,233.12 582.16,232.84 582.78,232.60 583.40,232.40 584.04,232.26 584.71,232.18 585.38,232.14 586.03,232.14 586.64,232.15 587.19,232.18 587.65,232.20 588.00,232.20" fill="none" stroke="#000" stroke-width="2.8" stroke-linecap="round" stroke-linejoin="round" />
<rect x="407.80" y="232.10" width="247.20" height="175.30" fill="none" stroke="#4d4d4d" stroke-width="1.0"/>
<line x1="404.80" y1="397.09" x2="407.80" y2="397.09" stroke="#4d4d4d" stroke-width="0.9"/>
<line x1="404.80" y1="376.46" x2="407.80" y2="376.46" stroke="#4d4d4d" stroke-width="0.9"/>
<line x1="404.80" y1="355.84" x2="407.80" y2="355.84" stroke="#4d4d4d" stroke-width="0.9"/>
<line x1="404.80" y1="335.22" x2="407.80" y2="335.22" stroke="#4d4d4d" stroke-width="0.9"/>
<line x1="404.80" y1="314.59" x2="407.80" y2="314.59" stroke="#4d4d4d" stroke-width="0.9"/>
<line x1="404.80" y1="293.97" x2="407.80" y2="293.97" stroke="#4d4d4d" stroke-width="0.9"/>
<line x1="404.80" y1="273.35" x2="407.80" y2="273.35" stroke="#4d4d4d" stroke-width="0.9"/>
<line x1="404.80" y1="252.72" x2="407.80" y2="252.72" stroke="#4d4d4d" stroke-width="0.9"/>
<line x1="404.80" y1="232.10" x2="407.80" y2="232.10" stroke="#4d4d4d" stroke-width="0.9"/>
<line x1="406.00" y1="407.40" x2="407.80" y2="407.40" stroke="#4d4d4d" stroke-width="0.9"/>
<line x1="406.00" y1="386.78" x2="407.80" y2="386.78" stroke="#4d4d4d" stroke-width="0.9"/>
<line x1="406.00" y1="366.15" x2="407.80" y2="366.15" stroke="#4d4d4d" stroke-width="0.9"/>
<line x1="406.00" y1="345.53" x2="407.80" y2="345.53" stroke="#4d4d4d" stroke-width="0.9"/>
<line x1="406.00" y1="324.91" x2="407.80" y2="324.91" stroke="#4d4d4d" stroke-width="0.9"/>
<line x1="406.00" y1="304.28" x2="407.80" y2="304.28" stroke="#4d4d4d" stroke-width="0.9"/>
<line x1="406.00" y1="283.66" x2="407.80" y2="283.66" stroke="#4d4d4d" stroke-width="0.9"/>
<line x1="406.00" y1="263.04" x2="407.80" y2="263.04" stroke="#4d4d4d" stroke-width="0.9"/>
<line x1="406.00" y1="242.41" x2="407.80" y2="242.41" stroke="#4d4d4d" stroke-width="0.9"/>
<line x1="407.80" y1="407.40" x2="407.80" y2="410.00" stroke="#4d4d4d" stroke-width="0.9"/>
<line x1="463.98" y1="407.40" x2="463.98" y2="410.00" stroke="#4d4d4d" stroke-width="0.9"/>
<line x1="520.16" y1="407.40" x2="520.16" y2="410.00" stroke="#4d4d4d" stroke-width="0.9"/>
<line x1="576.35" y1="407.40" x2="576.35" y2="410.00" stroke="#4d4d4d" stroke-width="0.9"/>
<line x1="632.53" y1="407.40" x2="632.53" y2="410.00" stroke="#4d4d4d" stroke-width="0.9"/>
<line x1="435.89" y1="407.40" x2="435.89" y2="409.00" stroke="#4d4d4d" stroke-width="0.9"/>
<line x1="492.07" y1="407.40" x2="492.07" y2="409.00" stroke="#4d4d4d" stroke-width="0.9"/>
<line x1="548.25" y1="407.40" x2="548.25" y2="409.00" stroke="#4d4d4d" stroke-width="0.9"/>
<line x1="604.44" y1="407.40" x2="604.44" y2="409.00" stroke="#4d4d4d" stroke-width="0.9"/>
<rect x="407.20" y="231.70" width="2" height="149.92" fill="#f01a1a"/>
<line x1="407.80" y1="232.10" x2="540" y2="232.10" stroke="#f01a1a" stroke-width="1"/>
<text x="402.20" y="400.39" font-size="9.6" font-weight="bold" text-anchor="end" fill="#000" >2.6</text>
<text x="402.20" y="379.76" font-size="9.6" font-weight="bold" text-anchor="end" fill="#000" >2.8</text>
<text x="402.20" y="359.14" font-size="9.6" font-weight="bold" text-anchor="end" fill="#000" >3.0</text>
<text x="402.20" y="338.52" font-size="9.6" font-weight="bold" text-anchor="end" fill="#000" >3.2</text>
<text x="402.20" y="317.89" font-size="9.6" font-weight="bold" text-anchor="end" fill="#000" >3.4</text>
<text x="402.20" y="297.27" font-size="9.6" font-weight="bold" text-anchor="end" fill="#000" >3.6</text>
<text x="402.20" y="276.65" font-size="9.6" font-weight="bold" text-anchor="end" fill="#000" >3.8</text>
<text x="402.20" y="256.02" font-size="9.6" font-weight="bold" text-anchor="end" fill="#000" >4.0</text>
<text x="402.20" y="235.40" font-size="9.6" font-weight="bold" text-anchor="end" fill="#000" >4.2</text>
<text x="407.80" y="420.20" font-size="10.2" font-weight="bold" text-anchor="middle" fill="#000" >0</text>
<text x="463.98" y="420.20" font-size="10.2" font-weight="bold" text-anchor="middle" fill="#000" >500</text>
<text x="520.16" y="420.20" font-size="10.2" font-weight="bold" text-anchor="middle" fill="#000" >1000</text>
<text x="576.35" y="420.20" font-size="10.2" font-weight="bold" text-anchor="middle" fill="#000" >1500</text>
<text x="632.53" y="420.20" font-size="10.2" font-weight="bold" text-anchor="middle" fill="#000" >2000</text>
<text x="531.00" y="434.60" font-size="9.9" font-weight="bold" text-anchor="middle" fill="#000" >Capacity (mAh)</text>
<text transform="translate(383.3,318.6) rotate(-90)" font-size="10.1" font-weight="bold" text-anchor="middle">Voltage (V)</text>
<text x="364.50" y="226.80" font-size="19" font-weight="bold" text-anchor="start" fill="#000" >d</text>
<line x1="547.6" y1="266.6" x2="566" y2="266.6" stroke="#000" stroke-width="2"/>
<line x1="547.6" y1="277.2" x2="566" y2="277.2" stroke="#f01a1a" stroke-width="1.1"/>
<text x="568.80" y="269.80" font-size="8.7" font-weight="bold" text-anchor="start" fill="#000" >With pressure</text>
<text x="568.80" y="280.40" font-size="8.75" font-weight="bold" text-anchor="start" fill="#000" >Without pressure</text>
<text x="545.70" y="395.30" font-size="9.9" font-weight="bold" text-anchor="start" fill="#000" >Capacity loss</text>
<text x="409.60" y="392.60" font-size="9.9" font-weight="bold" text-anchor="start" fill="#000" >Without</text>
<text x="409.60" y="403.40" font-size="9.9" font-weight="bold" text-anchor="start" fill="#000" >pressure</text>
<line x1="569" y1="377" x2="580" y2="377" stroke="#f01a1a" stroke-width="1.1"/>
<path d="M567,377 L571,374.6 L571,379.4 Z M582,377 L578,374.6 L578,379.4 Z" fill="#f01a1a"/>
<rect x="55" y="450" width="256" height="130.5" fill="#050505"/>
<clipPath id="ce"><rect x="55" y="450" width="256" height="130.5"/></clipPath><g clip-path="url(#ce)">
<line x1="55" y1="450.5" x2="205" y2="450.5" stroke="#0f0f0f" stroke-width="0.6"/>
<line x1="55" y1="453.5" x2="205" y2="453.5" stroke="#0f0f0f" stroke-width="0.6"/>
<line x1="55" y1="456.5" x2="205" y2="456.5" stroke="#0f0f0f" stroke-width="0.6"/>
<line x1="55" y1="459.5" x2="205" y2="459.5" stroke="#0f0f0f" stroke-width="0.6"/>
<line x1="55" y1="462.5" x2="205" y2="462.5" stroke="#0f0f0f" stroke-width="0.6"/>
<line x1="55" y1="465.5" x2="205" y2="465.5" stroke="#0f0f0f" stroke-width="0.6"/>
<line x1="55" y1="468.5" x2="205" y2="468.5" stroke="#0f0f0f" stroke-width="0.6"/>
<line x1="55" y1="471.5" x2="205" y2="471.5" stroke="#0f0f0f" stroke-width="0.6"/>
<line x1="55" y1="474.5" x2="205" y2="474.5" stroke="#0f0f0f" stroke-width="0.6"/>
<line x1="55" y1="477.5" x2="205" y2="477.5" stroke="#0f0f0f" stroke-width="0.6"/>
<line x1="55" y1="480.5" x2="205" y2="480.5" stroke="#0f0f0f" stroke-width="0.6"/>
<line x1="55" y1="483.5" x2="205" y2="483.5" stroke="#0f0f0f" stroke-width="0.6"/>
<line x1="55" y1="486.5" x2="205" y2="486.5" stroke="#0f0f0f" stroke-width="0.6"/>
<line x1="55" y1="489.5" x2="205" y2="489.5" stroke="#0f0f0f" stroke-width="0.6"/>
<line x1="55" y1="492.5" x2="205" y2="492.5" stroke="#0f0f0f" stroke-width="0.6"/>
<line x1="55" y1="495.5" x2="205" y2="495.5" stroke="#0f0f0f" stroke-width="0.6"/>
<line x1="55" y1="498.5" x2="205" y2="498.5" stroke="#0f0f0f" stroke-width="0.6"/>
<line x1="55" y1="501.5" x2="205" y2="501.5" stroke="#0f0f0f" stroke-width="0.6"/>
<line x1="55" y1="504.5" x2="205" y2="504.5" stroke="#0f0f0f" stroke-width="0.6"/>
<line x1="55" y1="507.5" x2="205" y2="507.5" stroke="#0f0f0f" stroke-width="0.6"/>
<line x1="55" y1="510.5" x2="205" y2="510.5" stroke="#0f0f0f" stroke-width="0.6"/>
<line x1="55" y1="513.5" x2="205" y2="513.5" stroke="#0f0f0f" stroke-width="0.6"/>
<line x1="55" y1="516.5" x2="205" y2="516.5" stroke="#0f0f0f" stroke-width="0.6"/>
<line x1="55" y1="519.5" x2="205" y2="519.5" stroke="#0f0f0f" stroke-width="0.6"/>
<line x1="55" y1="522.5" x2="205" y2="522.5" stroke="#0f0f0f" stroke-width="0.6"/>
<line x1="55" y1="525.5" x2="205" y2="525.5" stroke="#0f0f0f" stroke-width="0.6"/>
<line x1="55" y1="528.5" x2="205" y2="528.5" stroke="#0f0f0f" stroke-width="0.6"/>
<line x1="55" y1="531.5" x2="205" y2="531.5" stroke="#0f0f0f" stroke-width="0.6"/>
<line x1="55" y1="534.5" x2="205" y2="534.5" stroke="#0f0f0f" stroke-width="0.6"/>
<line x1="55" y1="537.5" x2="205" y2="537.5" stroke="#0f0f0f" stroke-width="0.6"/>
<line x1="55" y1="540.5" x2="205" y2="540.5" stroke="#0f0f0f" stroke-width="0.6"/>
<line x1="55" y1="543.5" x2="205" y2="543.5" stroke="#0f0f0f" stroke-width="0.6"/>
<line x1="55" y1="546.5" x2="205" y2="546.5" stroke="#0f0f0f" stroke-width="0.6"/>
<line x1="55" y1="549.5" x2="205" y2="549.5" stroke="#0f0f0f" stroke-width="0.6"/>
<line x1="55" y1="552.5" x2="205" y2="552.5" stroke="#0f0f0f" stroke-width="0.6"/>
<line x1="55" y1="555.5" x2="205" y2="555.5" stroke="#0f0f0f" stroke-width="0.6"/>
<line x1="55" y1="558.5" x2="205" y2="558.5" stroke="#0f0f0f" stroke-width="0.6"/>
<line x1="55" y1="561.5" x2="205" y2="561.5" stroke="#0f0f0f" stroke-width="0.6"/>
<line x1="55" y1="564.5" x2="205" y2="564.5" stroke="#0f0f0f" stroke-width="0.6"/>
<line x1="55" y1="567.5" x2="205" y2="567.5" stroke="#0f0f0f" stroke-width="0.6"/>
<line x1="55" y1="570.5" x2="205" y2="570.5" stroke="#0f0f0f" stroke-width="0.6"/>
<line x1="55" y1="573.5" x2="205" y2="573.5" stroke="#0f0f0f" stroke-width="0.6"/>
<line x1="55" y1="576.5" x2="205" y2="576.5" stroke="#0f0f0f" stroke-width="0.6"/>
<line x1="55" y1="579.5" x2="205" y2="579.5" stroke="#0f0f0f" stroke-width="0.6"/>
<path d="M200,462 C230,458 260,456 311,455 L311,458 C260,459 230,460.5 200,464.5 Z" fill="#3a3a3a"/>
<defs><linearGradient id="gEb" x1="150" y1="0" x2="210" y2="0" gradientUnits="userSpaceOnUse"><stop offset="0" stop-color="#070707"/><stop offset="1" stop-color="#1c1c1c"/></linearGradient></defs>
<path d="M150,567 C190,566 220,564.5 250,563.5 L311,563.5 L311,580.5 L150,580.5 Z" fill="url(#gEb)"/>
<path d="M180,569 C220,568.5 260,567.5 311,567" stroke="#333" stroke-width="0.8" fill="none"/>
<path d="M170,573 C220,572.5 260,572 311,571.5" stroke="#2e2e2e" stroke-width="0.8" fill="none"/>
<defs><linearGradient id="gEw" x1="140" y1="0" x2="240" y2="0" gradientUnits="userSpaceOnUse"><stop offset="0" stop-color="#ececec"/><stop offset="1" stop-color="#c4c4c4"/></linearGradient></defs>
<defs><linearGradient id="gE" x1="175" y1="0" x2="215" y2="0" gradientUnits="userSpaceOnUse"><stop offset="0" stop-color="#080808"/><stop offset="1" stop-color="#2c2c2c"/></linearGradient></defs>
<path d="M175.0,476.4 L180.7,474.5 L186.3,472.7 L192.0,470.8 L197.7,469.0 L203.3,467.9 L209.0,467.3 L214.7,466.7 L220.3,466.1 L226.0,465.5 L231.7,464.9 L237.3,464.3 L243.0,463.7 L248.7,463.1 L254.3,462.8 L260.0,462.6 L265.7,462.4 L271.3,462.1 L277.0,461.9 L282.7,461.7 L288.3,461.4 L294.0,461.2 L299.7,461.0 L305.3,460.7 L311.0,460.5 L311.0,561.0 L305.3,560.9 L299.7,560.7 L294.0,560.6 L288.3,560.5 L282.7,560.3 L277.0,560.2 L271.3,560.1 L265.7,560.0 L260.0,559.8 L254.3,559.7 L248.7,559.4 L243.0,558.8 L237.3,558.1 L231.7,557.5 L226.0,556.8 L220.3,556.2 L214.7,555.5 L209.0,554.8 L203.3,554.2 L197.7,553.7 L192.0,553.3 L186.3,553.0 L180.7,552.7 L175.0,552.4Z" fill="url(#gE)"/>
<path d="M172.0,481.4 L176.8,478.7 L181.6,477.1 L186.4,475.6 L191.2,474.0 L196.0,472.4 L200.8,471.0 L205.6,470.5 L210.3,470.0 L215.1,469.5 L219.9,469.0 L224.7,468.5 L229.5,468.0 L234.3,467.5 L239.1,467.0 L243.9,466.5 L248.7,466.0 L253.5,465.8 L258.3,465.6 L263.1,465.4 L267.9,465.2 L272.7,465.0 L277.4,464.8 L282.2,464.6 L287.0,464.4 L291.8,464.2 L296.6,464.0 L301.4,463.8 L306.2,463.6 L311.0,463.4 L311.0,469.1 L306.2,469.1 L301.4,469.2 L296.6,469.2 L291.8,469.3 L287.0,469.3 L282.2,469.4 L277.4,469.4 L272.7,469.5 L267.9,469.5 L263.1,469.6 L258.3,469.6 L253.5,469.7 L248.7,469.9 L243.9,470.5 L239.1,471.1 L234.3,471.8 L229.5,472.4 L224.7,473.0 L219.9,473.7 L215.1,474.3 L210.3,474.9 L205.6,475.6 L200.8,476.2 L196.0,477.4 L191.2,478.7 L186.4,480.0 L181.6,481.3 L176.8,482.6 L172.0,484.8 A0.8,1.7 0 0 1 172.0,481.4Z" fill="#8a8a8a" stroke="#8a8a8a" stroke-width="0.6" stroke-linejoin="round"/>
<path d="M176.8,480.9 L181.6,479.4 L186.4,478.0 L191.2,476.5 L196.0,475.1 L200.8,473.8 L205.6,473.2 L210.3,472.7 L215.1,472.1 L219.9,471.5 L224.7,471.0 L229.5,470.4 L234.3,469.9 L239.1,469.3 L243.9,468.7 L248.7,468.2 L253.5,467.9 L258.3,467.8 L263.1,467.7 L267.9,467.5 L272.7,467.4 L277.4,467.3 L282.2,467.2 L287.0,467.1 L291.8,466.9 L296.6,466.8 L301.4,466.7 L306.2,466.6 L311.0,466.4" stroke="#a2a2a2" stroke-width="1" fill="none"/>
<path d="M169.0,492.3 L173.9,489.5 L178.8,487.9 L183.7,486.5 L188.6,485.2 L193.5,483.9 L198.4,482.5 L203.3,481.7 L208.2,481.0 L213.1,480.4 L218.0,479.7 L222.9,479.1 L227.8,478.4 L232.7,477.8 L237.6,477.1 L242.4,476.5 L247.3,475.9 L252.2,475.5 L257.1,475.4 L262.0,475.4 L266.9,475.3 L271.8,475.3 L276.7,475.2 L281.6,475.2 L286.5,475.1 L291.4,475.1 L296.3,475.0 L301.2,475.0 L306.1,474.9 L311.0,474.9 L311.0,480.8 L306.1,480.8 L301.2,480.9 L296.3,480.9 L291.4,481.0 L286.5,481.0 L281.6,481.1 L276.7,481.1 L271.8,481.2 L266.9,481.2 L262.0,481.3 L257.1,481.3 L252.2,481.4 L247.3,481.8 L242.4,482.4 L237.6,483.0 L232.7,483.7 L227.8,484.3 L222.9,485.0 L218.0,485.6 L213.1,486.3 L208.2,486.9 L203.3,487.6 L198.4,488.3 L193.5,489.3 L188.6,490.4 L183.7,491.4 L178.8,492.4 L173.9,493.6 L169.0,495.8 A0.8,1.7 0 0 1 169.0,492.3Z" fill="#8a8a8a" stroke="#8a8a8a" stroke-width="0.6" stroke-linejoin="round"/>
<path d="M173.9,491.8 L178.8,490.3 L183.7,489.1 L188.6,488.0 L193.5,486.8 L198.4,485.6 L203.3,484.8 L208.2,484.2 L213.1,483.5 L218.0,482.9 L222.9,482.2 L227.8,481.6 L232.7,480.9 L237.6,480.3 L242.4,479.6 L247.3,479.0 L252.2,478.6 L257.1,478.6 L262.0,478.5 L266.9,478.5 L271.8,478.4 L276.7,478.4 L281.6,478.3 L286.5,478.3 L291.4,478.2 L296.3,478.2 L301.2,478.1 L306.1,478.1 L311.0,478.1" stroke="#a2a2a2" stroke-width="1" fill="none"/>
<path d="M169.7,501.3 L174.6,499.1 L179.4,498.0 L184.3,497.0 L189.2,496.0 L194.1,495.0 L198.9,494.0 L203.8,493.3 L208.7,492.7 L213.6,492.0 L218.4,491.4 L223.3,490.7 L228.2,490.1 L233.0,489.4 L237.9,488.8 L242.8,488.2 L247.7,487.5 L252.5,487.2 L257.4,487.1 L262.3,487.1 L267.1,487.0 L272.0,487.0 L276.9,486.9 L281.8,486.9 L286.6,486.8 L291.5,486.8 L296.4,486.7 L301.3,486.7 L306.1,486.6 L311.0,486.6 L311.0,493.5 L306.1,493.5 L301.3,493.5 L296.4,493.6 L291.5,493.6 L286.6,493.6 L281.8,493.6 L276.9,493.7 L272.0,493.7 L267.1,493.7 L262.3,493.7 L257.4,493.8 L252.5,493.8 L247.7,494.1 L242.8,494.7 L237.9,495.2 L233.0,495.8 L228.2,496.4 L223.3,497.0 L218.4,497.5 L213.6,498.1 L208.7,498.7 L203.8,499.3 L198.9,499.8 L194.1,500.5 L189.2,501.2 L184.3,501.9 L179.4,502.6 L174.6,503.3 L169.7,504.8 A0.8,1.7 0 0 1 169.7,501.3Z" fill="#8a8a8a" stroke="#8a8a8a" stroke-width="0.6" stroke-linejoin="round"/>
<path d="M174.6,501.4 L179.4,500.5 L184.3,499.7 L189.2,498.8 L194.1,498.0 L198.9,497.1 L203.8,496.5 L208.7,495.9 L213.6,495.3 L218.4,494.6 L223.3,494.0 L228.2,493.4 L233.0,492.8 L237.9,492.2 L242.8,491.6 L247.7,491.0 L252.5,490.7 L257.4,490.6 L262.3,490.6 L267.1,490.6 L272.0,490.5 L276.9,490.5 L281.8,490.5 L286.6,490.4 L291.5,490.4 L296.4,490.4 L301.3,490.3 L306.1,490.3 L311.0,490.2" stroke="#a2a2a2" stroke-width="1" fill="none"/>
<path d="M174.8,509.0 L179.5,508.4 L184.2,507.7 L188.9,507.1 L193.6,506.4 L198.3,505.7 L203.0,505.1 L207.7,504.6 L212.4,504.0 L217.1,503.5 L221.8,502.9 L226.5,502.4 L231.2,501.8 L235.9,501.3 L240.6,500.7 L245.2,500.2 L249.9,499.6 L254.6,499.6 L259.3,499.6 L264.0,499.5 L268.7,499.5 L273.4,499.5 L278.1,499.5 L282.8,499.4 L287.5,499.4 L292.2,499.4 L296.9,499.4 L301.6,499.3 L306.3,499.3 L311.0,499.3 L311.0,506.1 L306.3,506.1 L301.6,506.0 L296.9,506.0 L292.2,505.9 L287.5,505.9 L282.8,505.8 L278.1,505.8 L273.4,505.7 L268.7,505.7 L264.0,505.6 L259.3,505.6 L254.6,505.5 L249.9,505.5 L245.2,506.0 L240.6,506.6 L235.9,507.1 L231.2,507.6 L226.5,508.1 L221.8,508.7 L217.1,509.2 L212.4,509.7 L207.7,510.2 L203.0,510.8 L198.3,511.2 L193.6,511.6 L188.9,512.0 L184.2,512.4 L179.5,512.7 L174.8,513.1 A0.9,2.0 0 0 1 174.8,509.0Z" fill="#8a8a8a" stroke="#8a8a8a" stroke-width="0.6" stroke-linejoin="round"/>
<path d="M179.5,510.7 L184.2,510.2 L188.9,509.7 L193.6,509.2 L198.3,508.7 L203.0,508.2 L207.7,507.6 L212.4,507.1 L217.1,506.5 L221.8,506.0 L226.5,505.5 L231.2,504.9 L235.9,504.4 L240.6,503.8 L245.2,503.3 L249.9,502.8 L254.6,502.8 L259.3,502.8 L264.0,502.8 L268.7,502.8 L273.4,502.8 L278.1,502.8 L282.8,502.8 L287.5,502.8 L292.2,502.9 L296.9,502.9 L301.6,502.9 L306.3,502.9 L311.0,502.9" stroke="#a2a2a2" stroke-width="1" fill="none"/>
<path d="M176.3,518.8 L180.9,518.4 L185.6,518.0 L190.2,517.7 L194.9,517.3 L199.5,516.9 L204.2,516.4 L208.8,515.9 L213.5,515.4 L218.1,514.9 L222.7,514.4 L227.4,513.8 L232.0,513.3 L236.7,512.8 L241.3,512.3 L246.0,511.8 L250.6,511.3 L255.3,511.4 L259.9,511.4 L264.6,511.4 L269.2,511.5 L273.8,511.5 L278.5,511.6 L283.1,511.6 L287.8,511.7 L292.4,511.7 L297.1,511.8 L301.7,511.8 L306.4,511.9 L311.0,511.9 L311.0,519.3 L306.4,519.3 L301.7,519.3 L297.1,519.3 L292.4,519.2 L287.8,519.2 L283.1,519.2 L278.5,519.2 L273.8,519.2 L269.2,519.2 L264.6,519.1 L259.9,519.1 L255.3,519.1 L250.6,519.1 L246.0,519.3 L241.3,519.6 L236.7,519.8 L232.0,520.0 L227.4,520.3 L222.7,520.5 L218.1,520.8 L213.5,521.0 L208.8,521.2 L204.2,521.5 L199.5,521.7 L194.9,521.9 L190.2,522.1 L185.6,522.2 L180.9,522.4 L176.3,522.6 A0.9,1.9 0 0 1 176.3,518.8Z" fill="#8a8a8a" stroke="#8a8a8a" stroke-width="0.6" stroke-linejoin="round"/>
<path d="M180.9,520.6 L185.6,520.3 L190.2,520.1 L194.9,519.8 L199.5,519.5 L204.2,519.2 L208.8,518.8 L213.5,518.4 L218.1,518.0 L222.7,517.6 L227.4,517.3 L232.0,516.9 L236.7,516.5 L241.3,516.1 L246.0,515.7 L250.6,515.4 L255.3,515.4 L259.9,515.5 L264.6,515.5 L269.2,515.5 L273.8,515.6 L278.5,515.6 L283.1,515.6 L287.8,515.6 L292.4,515.7 L297.1,515.7 L301.7,515.7 L306.4,515.8 L311.0,515.8" stroke="#a2a2a2" stroke-width="1" fill="none"/>
<path d="M176.3,528.4 L180.9,528.2 L185.6,528.0 L190.2,527.9 L194.9,527.7 L199.5,527.5 L204.2,527.3 L208.8,527.0 L213.5,526.8 L218.1,526.6 L222.7,526.3 L227.4,526.1 L232.0,525.8 L236.7,525.6 L241.3,525.4 L246.0,525.1 L250.6,524.9 L255.3,524.9 L259.9,524.9 L264.6,524.9 L269.2,525.0 L273.8,525.0 L278.5,525.0 L283.1,525.0 L287.8,525.0 L292.4,525.0 L297.1,525.1 L301.7,525.1 L306.4,525.1 L311.0,525.1 L311.0,533.4 L306.4,533.3 L301.7,533.3 L297.1,533.2 L292.4,533.2 L287.8,533.1 L283.1,533.0 L278.5,533.0 L273.8,532.9 L269.2,532.9 L264.6,532.8 L259.9,532.7 L255.3,532.7 L250.6,532.6 L246.0,532.5 L241.3,532.5 L236.7,532.4 L232.0,532.3 L227.4,532.3 L222.7,532.2 L218.1,532.2 L213.5,532.1 L208.8,532.0 L204.2,532.0 L199.5,531.9 L194.9,531.9 L190.2,531.8 L185.6,531.8 L180.9,531.7 L176.3,531.7 A0.7,1.7 0 0 1 176.3,528.4Z" fill="#8a8a8a" stroke="#8a8a8a" stroke-width="0.6" stroke-linejoin="round"/>
<path d="M180.9,530.2 L185.6,530.1 L190.2,530.0 L194.9,530.0 L199.5,529.9 L204.2,529.8 L208.8,529.7 L213.5,529.6 L218.1,529.6 L222.7,529.5 L227.4,529.4 L232.0,529.3 L236.7,529.2 L241.3,529.1 L246.0,529.0 L250.6,529.0 L255.3,529.0 L259.9,529.0 L264.6,529.1 L269.2,529.1 L273.8,529.1 L278.5,529.2 L283.1,529.2 L287.8,529.3 L292.4,529.3 L297.1,529.3 L301.7,529.4 L306.4,529.4 L311.0,529.5" stroke="#a2a2a2" stroke-width="1" fill="none"/>
<path d="M176.3,537.5 L180.9,537.5 L185.6,537.6 L190.2,537.6 L194.9,537.7 L199.5,537.7 L204.2,537.8 L208.8,537.8 L213.5,537.9 L218.1,538.0 L222.7,538.0 L227.4,538.1 L232.0,538.1 L236.7,538.2 L241.3,538.3 L246.0,538.3 L250.6,538.4 L255.3,538.5 L259.9,538.5 L264.6,538.6 L269.2,538.7 L273.8,538.7 L278.5,538.8 L283.1,538.8 L287.8,538.9 L292.4,539.0 L297.1,539.0 L301.7,539.1 L306.4,539.1 L311.0,539.2 L311.0,546.5 L306.4,546.4 L301.7,546.3 L297.1,546.2 L292.4,546.1 L287.8,546.0 L283.1,545.9 L278.5,545.8 L273.8,545.6 L269.2,545.5 L264.6,545.4 L259.9,545.3 L255.3,545.2 L250.6,545.1 L246.0,544.8 L241.3,544.5 L236.7,544.1 L232.0,543.8 L227.4,543.4 L222.7,543.1 L218.1,542.7 L213.5,542.4 L208.8,542.1 L204.2,541.7 L199.5,541.4 L194.9,541.3 L190.2,541.2 L185.6,541.1 L180.9,541.0 L176.3,540.9 A0.8,1.7 0 0 1 176.3,537.5Z" fill="#8a8a8a" stroke="#8a8a8a" stroke-width="0.6" stroke-linejoin="round"/>
<path d="M180.9,539.5 L185.6,539.5 L190.2,539.6 L194.9,539.7 L199.5,539.7 L204.2,539.9 L208.8,540.1 L213.5,540.3 L218.1,540.5 L222.7,540.8 L227.4,541.0 L232.0,541.2 L236.7,541.4 L241.3,541.6 L246.0,541.8 L250.6,542.0 L255.3,542.0 L259.9,542.1 L264.6,542.2 L269.2,542.3 L273.8,542.4 L278.5,542.5 L283.1,542.5 L287.8,542.6 L292.4,542.7 L297.1,542.8 L301.7,542.9 L306.4,543.0 L311.0,543.0" stroke="#a2a2a2" stroke-width="1" fill="none"/>
<path d="M172.6,546.6 L177.4,546.8 L182.1,546.9 L186.9,546.9 L191.7,547.0 L196.5,547.1 L201.2,547.3 L206.0,547.6 L210.8,548.0 L215.6,548.4 L220.3,548.7 L225.1,549.1 L229.9,549.4 L234.6,549.8 L239.4,550.1 L244.2,550.5 L249.0,550.8 L253.7,551.0 L258.5,551.1 L263.3,551.2 L268.0,551.3 L272.8,551.4 L277.6,551.5 L282.4,551.6 L287.1,551.8 L291.9,551.9 L296.7,552.0 L301.5,552.1 L306.2,552.2 L311.0,552.3 L311.0,558.1 L306.2,558.0 L301.5,557.9 L296.7,557.8 L291.9,557.7 L287.1,557.6 L282.4,557.4 L277.6,557.3 L272.8,557.2 L268.0,557.1 L263.3,557.0 L258.5,556.9 L253.7,556.8 L249.0,556.6 L244.2,556.0 L239.4,555.5 L234.6,554.9 L229.9,554.4 L225.1,553.8 L220.3,553.3 L215.6,552.7 L210.8,552.2 L206.0,551.6 L201.2,551.0 L196.5,550.7 L191.7,550.4 L186.9,550.2 L182.1,549.9 L177.4,549.6 L172.6,549.2 A0.6,1.3 0 0 1 172.6,546.6Z" fill="#8a8a8a" stroke="#8a8a8a" stroke-width="0.6" stroke-linejoin="round"/>
<path d="M177.4,548.4 L182.1,548.6 L186.9,548.8 L191.7,548.9 L196.5,549.1 L201.2,549.4 L206.0,549.8 L210.8,550.3 L215.6,550.7 L220.3,551.2 L225.1,551.6 L229.9,552.1 L234.6,552.5 L239.4,553.0 L244.2,553.4 L249.0,553.9 L253.7,554.1 L258.5,554.2 L263.3,554.3 L268.0,554.4 L272.8,554.5 L277.6,554.6 L282.4,554.7 L287.1,554.9 L291.9,555.0 L296.7,555.1 L301.5,555.2 L306.2,555.3 L311.0,555.4" stroke="#a2a2a2" stroke-width="1" fill="none"/>
<path d="M55.0,516.5 L59.0,516.8 L64.6,517.2 L71.2,517.7 L78.1,518.1 L84.6,518.6 L90.0,519.0 L94.3,519.3 L98.1,519.7 L101.5,520.0 L104.6,520.3 L107.4,520.5 L110.0,520.5 L112.4,520.5 L114.4,520.4 L116.1,520.2 L117.7,519.9 L119.3,519.3 L121.0,518.5 L122.7,517.4 L124.4,516.1 L126.1,514.6 L127.7,512.9 L129.3,511.0 L131.0,509.0 L132.6,506.7 L134.3,504.1 L135.9,501.3 L137.5,498.4 L139.2,495.6 L141.0,493.0 L142.8,490.5 L144.7,488.0 L146.6,485.6 L148.6,483.3 L150.7,481.0 L153.0,479.0 L155.5,477.1 L158.2,475.3 L161.0,473.7 L163.9,472.2 L166.9,470.8 L170.0,469.5 L172.9,468.4 L175.7,467.5 L178.6,466.7 L181.7,466.0 L185.5,465.3 L190.0,464.5 L195.0,463.7 L200.3,462.9 L206.2,462.1 L212.9,461.4 L220.7,460.7 L230.0,460.0 L242.1,459.4 L257.0,458.8 L273.0,458.2 L288.5,457.7 L301.7,457.3 L311.0,457.0" stroke="#707070" stroke-width="1.1" fill="none"/>
<path d="M55.0,522.0 L57.2,522.2 L60.2,522.4 L63.8,522.7 L67.7,523.1 L71.5,523.5 L75.0,524.0 L78.2,524.5 L81.4,525.1 L84.5,525.8 L87.6,526.6 L90.8,527.4 L94.0,528.5 L97.4,529.8 L100.9,531.2 L104.5,532.8 L108.0,534.5 L111.4,536.1 L114.5,537.8 L117.4,539.4 L120.1,541.1 L122.6,542.8 L125.1,544.6 L127.5,546.3 L130.0,548.0 L132.4,549.7 L134.7,551.5 L136.9,553.2 L139.3,555.0 L141.9,556.7 L145.0,558.3 L148.4,559.9 L152.0,561.5 L155.9,563.0 L160.2,564.4 L164.8,565.8 L170.0,567.0 L175.7,568.1 L181.9,569.0 L188.4,569.9 L195.4,570.7 L202.6,571.4 L210.0,572.0 L217.7,572.6 L225.9,573.1 L234.3,573.5 L242.9,573.9 L251.5,574.2 L260.0,574.5 L269.0,574.7 L278.8,574.8 L288.6,574.9 L297.7,574.9 L305.4,575.0 L311.0,575.0" stroke="#686868" stroke-width="1" fill="none"/>
<path d="M70.0,524.5 L72.8,524.6 L76.7,524.8 L81.2,525.0 L86.1,525.2 L90.8,525.4 L95.0,525.5 L98.7,525.6 L102.3,525.8 L105.8,525.9 L109.0,526.0 L112.1,526.1 L115.0,526.0 L117.6,525.8 L120.0,525.6 L122.2,525.3 L124.2,525.0 L126.1,524.5 L128.0,524.0 L129.8,523.3 L131.6,522.4 L133.3,521.4 L134.8,520.4 L136.1,519.6 L137.0,519.0" stroke="#3a3a3a" stroke-width="1" fill="none"/>
<path d="M80.0,513.0 L82.8,513.2 L86.9,513.6 L91.6,513.9 L96.5,514.3 L101.1,514.7 L105.0,515.0 L108.1,515.3 L110.9,515.6 L113.4,515.9 L115.7,516.1 L117.9,516.1 L120.0,516.0 L122.0,515.7 L123.8,515.2 L125.4,514.6 L127.0,513.9 L128.5,513.0 L130.0,512.0 L131.5,510.7 L133.1,509.0 L134.6,507.2 L136.0,505.5 L137.2,504.0 L138.0,503.0" stroke="#303030" stroke-width="0.9" fill="none"/>
<path d="M100.0,533.0 L102.2,534.3 L105.2,536.0 L108.8,538.1 L112.6,540.3 L116.4,542.7 L120.0,545.0 L123.3,547.4 L126.7,550.0 L130.0,552.7 L133.3,555.3 L136.7,557.8 L140.0,560.0 L143.1,561.9 L145.9,563.5 L148.8,565.0 L151.9,566.4 L155.5,567.7 L160.0,569.0 L164.7,570.3 L169.2,571.6 L174.3,572.9 L180.7,574.0 L189.0,575.1 L200.0,576.0 L215.7,576.8 L235.9,577.4 L258.0,577.9 L279.6,578.4 L298.1,578.7 L311.0,579.0" stroke="#333" stroke-width="0.9" fill="none"/>
<path d="M146.0,495.5 L146.2,495.5 L146.3,495.6 L146.4,495.7 L147.0,495.6 L148.1,495.0 L150.0,493.8 L153.0,491.7 L156.8,488.8 L161.2,485.5 L165.9,482.1 L170.6,478.9 L175.0,476.4 L178.9,474.5 L182.4,472.9 L185.9,471.5 L189.8,470.4 L194.4,469.3 L200.0,468.2 L206.8,467.1 L214.4,466.1 L222.8,465.2 L231.6,464.4 L240.7,463.7 L250.0,463.0 L260.2,462.4 L271.8,461.9 L283.6,461.4 L294.8,461.0 L304.2,460.7 L311.0,460.5" stroke="url(#gEw)" stroke-width="1.5" fill="none" stroke-linecap="round"/>
<path d="M142.0,503.2 L142.7,503.0 L143.4,502.9 L144.4,502.7 L145.8,502.3 L147.6,501.6 L150.0,500.4 L153.2,498.6 L157.1,496.2 L161.4,493.4 L166.0,490.7 L170.6,488.1 L175.0,486.0 L178.9,484.4 L182.4,483.2 L185.9,482.1 L189.8,481.2 L194.4,480.2 L200.0,479.2 L206.8,478.0 L214.4,476.8 L222.8,475.5 L231.6,474.3 L240.7,473.4 L250.0,472.6 L260.2,472.1 L271.8,471.9 L283.6,471.9 L294.8,471.9 L304.2,472.0 L311.0,472.0" stroke="url(#gEw)" stroke-width="1.5" fill="none" stroke-linecap="round"/>
<path d="M139.5,509.8 L140.5,509.6 L141.7,509.3 L143.2,509.1 L145.0,508.6 L147.3,508.0 L150.0,507.0 L153.3,505.6 L157.3,503.7 L161.6,501.7 L166.1,499.6 L170.7,497.6 L175.0,496.1 L178.9,494.9 L182.4,494.0 L185.9,493.2 L189.8,492.5 L194.4,491.8 L200.0,490.9 L206.8,489.8 L214.4,488.6 L222.8,487.3 L231.6,486.1 L240.7,485.1 L250.0,484.3 L260.2,483.8 L271.8,483.6 L283.6,483.6 L294.8,483.6 L304.2,483.7 L311.0,483.7" stroke="url(#gEw)" stroke-width="1.5" fill="none" stroke-linecap="round"/>
<path d="M138.0,515.6 L139.2,515.5 L140.6,515.3 L142.4,515.0 L144.6,514.7 L147.1,514.2 L150.0,513.5 L153.4,512.5 L157.4,511.3 L161.7,509.9 L166.2,508.5 L170.7,507.2 L175.0,506.1 L178.9,505.3 L182.4,504.7 L185.9,504.2 L189.8,503.8 L194.4,503.3 L200.0,502.6 L206.8,501.7 L214.4,500.6 L222.8,499.5 L231.6,498.3 L240.7,497.4 L250.0,496.7 L260.2,496.3 L271.8,496.2 L283.6,496.2 L294.8,496.3 L304.2,496.4 L311.0,496.4" stroke="url(#gEw)" stroke-width="1.5" fill="none" stroke-linecap="round"/>
<path d="M137.5,521.5 L138.7,521.4 L140.3,521.2 L142.2,521.1 L144.4,520.9 L147.0,520.6 L150.0,520.2 L153.4,519.6 L157.4,518.9 L161.7,518.1 L166.2,517.3 L170.7,516.6 L175.0,516.0 L178.9,515.6 L182.4,515.3 L185.9,515.1 L189.8,514.8 L194.4,514.5 L200.0,514.0 L206.8,513.2 L214.4,512.2 L222.8,511.0 L231.6,509.9 L240.7,509.0 L250.0,508.4 L260.2,508.1 L271.8,508.2 L283.6,508.3 L294.8,508.6 L304.2,508.9 L311.0,509.0" stroke="url(#gEw)" stroke-width="1.5" fill="none" stroke-linecap="round"/>
<path d="M137.5,528.1 L138.7,528.0 L140.3,528.0 L142.2,527.9 L144.4,527.8 L147.0,527.7 L150.0,527.5 L153.4,527.2 L157.4,526.9 L161.7,526.5 L166.2,526.2 L170.7,525.8 L175.0,525.5 L178.9,525.3 L182.4,525.2 L185.9,525.1 L189.8,525.0 L194.4,524.8 L200.0,524.6 L206.8,524.2 L214.4,523.8 L222.8,523.2 L231.6,522.7 L240.7,522.3 L250.0,522.0 L260.2,521.9 L271.8,521.9 L283.6,521.9 L294.8,522.0 L304.2,522.1 L311.0,522.2" stroke="url(#gEw)" stroke-width="1.5" fill="none" stroke-linecap="round"/>
<path d="M138.0,534.0 L139.2,534.0 L140.6,534.0 L142.4,534.0 L144.6,534.0 L147.1,534.1 L150.0,534.1 L153.4,534.2 L157.4,534.2 L161.7,534.3 L166.2,534.4 L170.7,534.5 L175.0,534.6 L178.9,534.6 L182.4,534.7 L185.9,534.7 L189.8,534.7 L194.4,534.7 L200.0,534.8 L206.8,534.9 L214.4,535.0 L222.8,535.1 L231.6,535.2 L240.7,535.4 L250.0,535.5 L260.2,535.6 L271.8,535.8 L283.6,535.9 L294.8,536.1 L304.2,536.2 L311.0,536.3" stroke="url(#gEw)" stroke-width="1.5" fill="none" stroke-linecap="round"/>
<path d="M140.0,542.6 L140.9,542.6 L142.0,542.6 L143.4,542.6 L145.2,542.7 L147.3,542.7 L150.0,542.8 L153.3,542.9 L157.2,543.1 L161.6,543.3 L166.1,543.5 L170.7,543.7 L175.0,543.8 L178.9,543.9 L182.4,543.9 L185.9,543.9 L189.8,543.9 L194.4,544.0 L200.0,544.3 L206.8,544.8 L214.4,545.4 L222.8,546.1 L231.6,546.8 L240.7,547.5 L250.0,548.0 L260.2,548.4 L271.8,548.7 L283.6,548.9 L294.8,549.1 L304.2,549.3 L311.0,549.4" stroke="url(#gEw)" stroke-width="1.5" fill="none" stroke-linecap="round"/>
<path d="M143.0,548.9 L143.6,548.9 L144.1,548.9 L144.9,549.0 L146.1,549.0 L147.7,549.2 L150.0,549.4 L153.1,549.8 L157.0,550.3 L161.4,550.8 L166.0,551.4 L170.6,552.0 L175.0,552.4 L178.9,552.7 L182.4,552.8 L185.9,552.9 L189.8,553.1 L194.4,553.3 L200.0,553.8 L206.8,554.6 L214.4,555.6 L222.8,556.7 L231.6,557.8 L240.7,558.8 L250.0,559.6 L260.2,560.1 L271.8,560.4 L283.6,560.7 L294.8,560.8 L304.2,560.9 L311.0,561.0" stroke="url(#gEw)" stroke-width="1.5" fill="none" stroke-linecap="round"/>
</g>
<rect x="208.2" y="454.6" width="84.6" height="118" rx="10" fill="none" stroke="#f2f2f2" stroke-width="1.1" stroke-dasharray="5 3.5"/>
<text x="65.00" y="468.20" font-size="14.4" font-weight="bold" text-anchor="start" fill="#fff" >LE</text>
<text x="57.90" y="575.30" font-size="11.3" font-weight="bold" text-anchor="start" fill="#fff" >Voids between sheets</text>
<rect x="402" y="450" width="255" height="126" fill="#141414"/>
<clipPath id="cf"><rect x="402" y="450" width="255" height="126"/></clipPath><g clip-path="url(#cf)">
<line x1="402" y1="450.5" x2="490" y2="450.5" stroke="#222" stroke-width="0.7"/>
<line x1="402" y1="453.5" x2="490" y2="453.5" stroke="#222" stroke-width="0.7"/>
<line x1="402" y1="456.5" x2="490" y2="456.5" stroke="#222" stroke-width="0.7"/>
<line x1="402" y1="459.5" x2="490" y2="459.5" stroke="#222" stroke-width="0.7"/>
<line x1="402" y1="462.5" x2="490" y2="462.5" stroke="#222" stroke-width="0.7"/>
<line x1="402" y1="465.5" x2="490" y2="465.5" stroke="#222" stroke-width="0.7"/>
<line x1="402" y1="468.5" x2="490" y2="468.5" stroke="#222" stroke-width="0.7"/>
<line x1="402" y1="471.5" x2="490" y2="471.5" stroke="#222" stroke-width="0.7"/>
<line x1="402" y1="474.5" x2="490" y2="474.5" stroke="#222" stroke-width="0.7"/>
<line x1="402" y1="477.5" x2="490" y2="477.5" stroke="#222" stroke-width="0.7"/>
<line x1="402" y1="480.5" x2="490" y2="480.5" stroke="#222" stroke-width="0.7"/>
<line x1="402" y1="483.5" x2="490" y2="483.5" stroke="#222" stroke-width="0.7"/>
<line x1="402" y1="486.5" x2="490" y2="486.5" stroke="#222" stroke-width="0.7"/>
<line x1="402" y1="489.5" x2="490" y2="489.5" stroke="#222" stroke-width="0.7"/>
<line x1="402" y1="492.5" x2="490" y2="492.5" stroke="#222" stroke-width="0.7"/>
<line x1="402" y1="495.5" x2="490" y2="495.5" stroke="#222" stroke-width="0.7"/>
<line x1="402" y1="498.5" x2="490" y2="498.5" stroke="#222" stroke-width="0.7"/>
<line x1="402" y1="501.5" x2="490" y2="501.5" stroke="#222" stroke-width="0.7"/>
<line x1="402" y1="504.5" x2="490" y2="504.5" stroke="#222" stroke-width="0.7"/>
<line x1="402" y1="507.5" x2="490" y2="507.5" stroke="#222" stroke-width="0.7"/>
<line x1="402" y1="510.5" x2="490" y2="510.5" stroke="#222" stroke-width="0.7"/>
<line x1="402" y1="513.5" x2="490" y2="513.5" stroke="#222" stroke-width="0.7"/>
<line x1="402" y1="516.5" x2="490" y2="516.5" stroke="#222" stroke-width="0.7"/>
<line x1="402" y1="519.5" x2="490" y2="519.5" stroke="#222" stroke-width="0.7"/>
<line x1="402" y1="522.5" x2="490" y2="522.5" stroke="#222" stroke-width="0.7"/>
<line x1="402" y1="525.5" x2="490" y2="525.5" stroke="#222" stroke-width="0.7"/>
<line x1="402" y1="528.5" x2="490" y2="528.5" stroke="#222" stroke-width="0.7"/>
<line x1="402" y1="531.5" x2="490" y2="531.5" stroke="#222" stroke-width="0.7"/>
<line x1="402" y1="534.5" x2="490" y2="534.5" stroke="#222" stroke-width="0.7"/>
<line x1="402" y1="537.5" x2="490" y2="537.5" stroke="#222" stroke-width="0.7"/>
<line x1="402" y1="540.5" x2="490" y2="540.5" stroke="#222" stroke-width="0.7"/>
<line x1="402" y1="543.5" x2="490" y2="543.5" stroke="#222" stroke-width="0.7"/>
<line x1="402" y1="546.5" x2="490" y2="546.5" stroke="#222" stroke-width="0.7"/>
<line x1="402" y1="549.5" x2="490" y2="549.5" stroke="#222" stroke-width="0.7"/>
<line x1="402" y1="552.5" x2="490" y2="552.5" stroke="#222" stroke-width="0.7"/>
<line x1="402" y1="555.5" x2="490" y2="555.5" stroke="#222" stroke-width="0.7"/>
<line x1="402" y1="558.5" x2="490" y2="558.5" stroke="#222" stroke-width="0.7"/>
<line x1="402" y1="561.5" x2="490" y2="561.5" stroke="#222" stroke-width="0.7"/>
<line x1="402" y1="564.5" x2="490" y2="564.5" stroke="#222" stroke-width="0.7"/>
<line x1="402" y1="567.5" x2="490" y2="567.5" stroke="#222" stroke-width="0.7"/>
<line x1="402" y1="570.5" x2="490" y2="570.5" stroke="#222" stroke-width="0.7"/>
<line x1="402" y1="573.5" x2="490" y2="573.5" stroke="#222" stroke-width="0.7"/>
<rect x="402" y="450" width="255" height="11" fill="#1a1a1a"/>
<rect x="402" y="461" width="255" height="6" fill="#262626"/>
<path d="M482,473.5 C495,468.5 520,467 657,467 L657,473 L520,473.5 Z" fill="#383838"/>
<path d="M430,560 C470,566 500,567 657,566 L657,576 L430,576 Z" fill="#2c2c2c"/>
<defs><linearGradient id="gFw" x1="430" y1="0" x2="540" y2="0" gradientUnits="userSpaceOnUse"><stop offset="0" stop-color="#f0f0f0"/><stop offset="1" stop-color="#cfcfcf"/></linearGradient></defs>
<defs><linearGradient id="gF" x1="486" y1="0" x2="520" y2="0" gradientUnits="userSpaceOnUse"><stop offset="0" stop-color="#101010"/><stop offset="1" stop-color="#555"/></linearGradient></defs>
<path d="M486.0,477.9 L493.1,477.4 L500.2,476.8 L507.4,476.2 L514.5,475.6 L521.6,475.2 L528.8,475.2 L535.9,475.1 L543.0,475.1 L550.1,475.0 L557.2,475.0 L564.4,475.0 L571.5,474.9 L578.6,474.9 L585.8,474.9 L592.9,474.8 L600.0,474.8 L607.1,474.8 L614.2,474.7 L621.4,474.7 L628.5,474.6 L635.6,474.6 L642.8,474.6 L649.9,474.5 L657.0,474.5 L657.0,563.6 L649.9,563.5 L642.8,563.5 L635.6,563.4 L628.5,563.3 L621.4,563.3 L614.2,563.2 L607.1,563.1 L600.0,563.1 L592.9,563.0 L585.8,562.9 L578.6,562.9 L571.5,562.8 L564.4,562.7 L557.2,562.7 L550.1,562.6 L543.0,562.5 L535.9,562.5 L528.8,562.4 L521.6,562.3 L514.5,561.9 L507.4,561.3 L500.2,560.7 L493.1,560.1 L486.0,559.6Z" fill="url(#gF)"/>
<path d="M482.8,483.0 L486.0,481.8 L489.2,481.4 L492.3,480.9 L495.5,480.5 L498.7,480.0 L501.9,479.5 L505.1,479.1 L508.3,478.6 L511.4,478.2 L514.6,477.7 L517.8,477.3 L522.8,477.1 L529.9,477.0 L536.9,477.0 L544.0,477.0 L551.1,476.9 L558.1,476.9 L565.2,476.9 L572.2,476.8 L579.3,476.8 L586.4,476.8 L593.4,476.7 L600.5,476.7 L607.6,476.7 L614.6,476.6 L621.7,476.6 L628.7,476.5 L635.8,476.5 L642.9,476.5 L649.9,476.4 L657.0,476.4 L657.0,483.6 L649.9,483.7 L642.9,483.7 L635.8,483.8 L628.7,483.9 L621.7,484.0 L614.6,484.0 L607.6,484.1 L600.5,484.2 L593.4,484.2 L586.4,484.3 L579.3,484.4 L572.2,484.5 L565.2,484.5 L558.1,484.6 L551.1,484.7 L544.0,484.8 L536.9,484.8 L529.9,484.9 L522.8,485.0 L517.8,485.2 L514.6,485.4 L511.4,485.5 L508.3,485.6 L505.1,485.7 L501.9,485.9 L498.7,486.0 L495.5,486.1 L492.3,486.2 L489.2,486.4 L486.0,486.5 L482.8,487.1 A0.9,2.1 0 0 1 482.8,483.0Z" fill="#989898" stroke="#989898" stroke-width="0.8" stroke-linejoin="round"/>
<path d="M486.0,484.2 L489.2,483.9 L492.3,483.6 L495.5,483.3 L498.7,483.0 L501.9,482.7 L505.1,482.4 L508.3,482.1 L511.4,481.8 L514.6,481.5 L517.8,481.3 L522.8,481.0 L529.9,481.0 L536.9,480.9 L544.0,480.9 L551.1,480.8 L558.1,480.8 L565.2,480.7 L572.2,480.6 L579.3,480.6 L586.4,480.5 L593.4,480.5 L600.5,480.4 L607.6,480.4 L614.6,480.3 L621.7,480.3 L628.7,480.2 L635.8,480.2 L642.9,480.1 L649.9,480.1 L657.0,480.0" stroke="#707070" stroke-width="0.9" fill="none"/>
<path d="M486.0,481.4 L489.2,481.1 L492.3,480.9 L495.5,480.6 L498.7,480.3 L501.9,480.0 L505.1,479.8 L508.3,479.5 L511.4,479.2 L514.6,478.9 L517.8,478.7 L522.8,478.5 L529.9,478.4 L536.9,478.4 L544.0,478.3 L551.1,478.3 L558.1,478.2 L565.2,478.2 L572.2,478.1 L579.3,478.1 L586.4,478.0 L593.4,478.0 L600.5,477.9 L607.6,477.9 L614.6,477.9 L621.7,477.8 L628.7,477.8 L635.8,477.7 L642.9,477.7 L649.9,477.6 L657.0,477.6" stroke="#acacac" stroke-width="1.1" fill="none"/>
<path d="M486.0,486.9 L489.2,486.6 L492.3,486.3 L495.5,486.0 L498.7,485.7 L501.9,485.4 L505.1,485.1 L508.3,484.8 L511.4,484.5 L514.6,484.1 L517.8,483.8 L522.8,483.6 L529.9,483.5 L536.9,483.5 L544.0,483.4 L551.1,483.4 L558.1,483.3 L565.2,483.2 L572.2,483.2 L579.3,483.1 L586.4,483.0 L593.4,483.0 L600.5,482.9 L607.6,482.9 L614.6,482.8 L621.7,482.7 L628.7,482.7 L635.8,482.6 L642.9,482.5 L649.9,482.5 L657.0,482.4" stroke="#a8a8a8" stroke-width="1.1" fill="none"/>
<path d="M491.5,493.9 L494.7,493.4 L497.9,492.9 L501.0,492.3 L504.2,491.8 L507.4,491.3 L510.6,490.8 L513.8,490.2 L517.0,489.7 L520.1,489.2 L523.3,489.0 L526.5,488.7 L531.5,488.7 L538.1,488.6 L544.7,488.5 L551.3,488.5 L557.9,488.4 L564.5,488.3 L571.1,488.3 L577.7,488.2 L584.3,488.1 L590.9,488.1 L597.6,488.0 L604.2,487.9 L610.8,487.9 L617.4,487.8 L624.0,487.7 L630.6,487.7 L637.2,487.6 L643.8,487.5 L650.4,487.5 L657.0,487.4 L657.0,495.1 L650.4,495.2 L643.8,495.3 L637.2,495.3 L630.6,495.4 L624.0,495.5 L617.4,495.6 L610.8,495.6 L604.2,495.7 L597.6,495.8 L590.9,495.9 L584.3,495.9 L577.7,496.0 L571.1,496.1 L564.5,496.2 L557.9,496.3 L551.3,496.3 L544.7,496.4 L538.1,496.5 L531.5,496.6 L526.5,496.6 L523.3,496.5 L520.1,496.3 L517.0,496.4 L513.8,496.5 L510.6,496.6 L507.4,496.7 L504.2,496.8 L501.0,496.9 L497.9,497.1 L494.7,497.2 L491.5,497.3 A0.8,1.7 0 0 1 491.5,493.9Z" fill="#989898" stroke="#989898" stroke-width="0.8" stroke-linejoin="round"/>
<path d="M494.7,495.3 L497.9,495.0 L501.0,494.6 L504.2,494.3 L507.4,494.0 L510.6,493.7 L513.8,493.4 L517.0,493.1 L520.1,492.7 L523.3,492.7 L526.5,492.7 L531.5,492.6 L538.1,492.6 L544.7,492.5 L551.3,492.4 L557.9,492.3 L564.5,492.3 L571.1,492.2 L577.7,492.1 L584.3,492.0 L590.9,492.0 L597.6,491.9 L604.2,491.8 L610.8,491.8 L617.4,491.7 L624.0,491.6 L630.6,491.5 L637.2,491.5 L643.8,491.4 L650.4,491.3 L657.0,491.2" stroke="#707070" stroke-width="0.9" fill="none"/>
<path d="M494.7,492.7 L497.9,492.4 L501.0,492.1 L504.2,491.8 L507.4,491.5 L510.6,491.1 L513.8,490.8 L517.0,490.5 L520.1,490.2 L523.3,490.1 L526.5,490.1 L531.5,490.1 L538.1,490.0 L544.7,489.9 L551.3,489.8 L557.9,489.8 L564.5,489.7 L571.1,489.6 L577.7,489.6 L584.3,489.5 L590.9,489.4 L597.6,489.4 L604.2,489.3 L610.8,489.2 L617.4,489.1 L624.0,489.1 L630.6,489.0 L637.2,488.9 L643.8,488.9 L650.4,488.8 L657.0,488.7" stroke="#acacac" stroke-width="1.1" fill="none"/>
<path d="M494.7,497.8 L497.9,497.5 L501.0,497.2 L504.2,496.9 L507.4,496.6 L510.6,496.3 L513.8,495.9 L517.0,495.6 L520.1,495.3 L523.3,495.3 L526.5,495.3 L531.5,495.2 L538.1,495.1 L544.7,495.0 L551.3,495.0 L557.9,494.9 L564.5,494.8 L571.1,494.7 L577.7,494.7 L584.3,494.6 L590.9,494.5 L597.6,494.4 L604.2,494.4 L610.8,494.3 L617.4,494.2 L624.0,494.2 L630.6,494.1 L637.2,494.0 L643.8,493.9 L650.4,493.9 L657.0,493.8" stroke="#a8a8a8" stroke-width="1.1" fill="none"/>
<path d="M491.5,505.5 L494.7,505.0 L497.9,504.5 L501.0,503.9 L504.2,503.4 L507.4,502.9 L510.6,502.4 L513.8,501.9 L517.0,501.4 L520.1,500.9 L523.3,500.7 L526.5,500.4 L531.5,500.4 L538.1,500.3 L544.7,500.2 L551.3,500.1 L557.9,500.1 L564.5,500.0 L571.1,499.9 L577.7,499.8 L584.3,499.7 L590.9,499.7 L597.6,499.6 L604.2,499.5 L610.8,499.4 L617.4,499.4 L624.0,499.3 L630.6,499.2 L637.2,499.1 L643.8,499.1 L650.4,499.0 L657.0,498.9 L657.0,506.7 L650.4,506.7 L643.8,506.8 L637.2,506.8 L630.6,506.9 L624.0,506.9 L617.4,507.0 L610.8,507.0 L604.2,507.0 L597.6,507.1 L590.9,507.1 L584.3,507.2 L577.7,507.2 L571.1,507.3 L564.5,507.3 L557.9,507.4 L551.3,507.4 L544.7,507.4 L538.1,507.5 L531.5,507.5 L526.5,507.6 L523.3,507.4 L520.1,507.2 L517.0,507.2 L513.8,507.2 L510.6,507.3 L507.4,507.3 L504.2,507.3 L501.0,507.4 L497.9,507.4 L494.7,507.4 L491.5,507.4 A0.4,1.0 0 0 1 491.5,505.5Z" fill="#989898" stroke="#989898" stroke-width="0.8" stroke-linejoin="round"/>
<path d="M494.7,506.2 L497.9,505.9 L501.0,505.6 L504.2,505.4 L507.4,505.1 L510.6,504.8 L513.8,504.6 L517.0,504.3 L520.1,504.0 L523.3,504.0 L526.5,504.0 L531.5,503.9 L538.1,503.9 L544.7,503.8 L551.3,503.8 L557.9,503.7 L564.5,503.6 L571.1,503.6 L577.7,503.5 L584.3,503.5 L590.9,503.4 L597.6,503.3 L604.2,503.3 L610.8,503.2 L617.4,503.2 L624.0,503.1 L630.6,503.0 L637.2,503.0 L643.8,502.9 L650.4,502.9 L657.0,502.8" stroke="#707070" stroke-width="0.9" fill="none"/>
<path d="M494.7,503.9 L497.9,503.6 L501.0,503.4 L504.2,503.1 L507.4,502.8 L510.6,502.5 L513.8,502.2 L517.0,501.9 L520.1,501.7 L523.3,501.6 L526.5,501.6 L531.5,501.5 L538.1,501.5 L544.7,501.4 L551.3,501.3 L557.9,501.3 L564.5,501.2 L571.1,501.1 L577.7,501.1 L584.3,501.0 L590.9,500.9 L597.6,500.9 L604.2,500.8 L610.8,500.7 L617.4,500.7 L624.0,500.6 L630.6,500.5 L637.2,500.5 L643.8,500.4 L650.4,500.3 L657.0,500.2" stroke="#acacac" stroke-width="1.1" fill="none"/>
<path d="M494.7,508.4 L497.9,508.2 L501.0,507.9 L504.2,507.7 L507.4,507.4 L510.6,507.2 L513.8,506.9 L517.0,506.7 L520.1,506.4 L523.3,506.4 L526.5,506.4 L531.5,506.4 L538.1,506.3 L544.7,506.3 L551.3,506.2 L557.9,506.1 L564.5,506.1 L571.1,506.0 L577.7,506.0 L584.3,505.9 L590.9,505.9 L597.6,505.8 L604.2,505.8 L610.8,505.7 L617.4,505.7 L624.0,505.6 L630.6,505.6 L637.2,505.5 L643.8,505.5 L650.4,505.4 L657.0,505.4" stroke="#a8a8a8" stroke-width="1.1" fill="none"/>
<path d="M493.0,515.5 L496.2,515.1 L499.4,514.7 L502.5,514.2 L505.7,513.8 L508.9,513.4 L512.1,513.0 L515.3,512.5 L518.5,512.1 L521.6,511.8 L524.8,511.6 L528.0,511.3 L533.0,511.3 L539.5,511.3 L546.1,511.2 L552.6,511.2 L559.1,511.1 L565.6,511.1 L572.2,511.1 L578.7,511.0 L585.2,511.0 L591.7,510.9 L598.3,510.9 L604.8,510.8 L611.3,510.8 L617.8,510.8 L624.4,510.7 L630.9,510.7 L637.4,510.6 L643.9,510.6 L650.5,510.5 L657.0,510.5 L657.0,518.4 L650.5,518.4 L643.9,518.4 L637.4,518.4 L630.9,518.4 L624.4,518.4 L617.8,518.4 L611.3,518.4 L604.8,518.4 L598.3,518.4 L591.7,518.4 L585.2,518.4 L578.7,518.4 L572.2,518.4 L565.6,518.4 L559.1,518.4 L552.6,518.4 L546.1,518.4 L539.5,518.4 L533.0,518.4 L528.0,518.4 L524.8,518.2 L521.6,518.0 L518.5,517.9 L515.3,517.8 L512.1,517.8 L508.9,517.7 L505.7,517.7 L502.5,517.6 L499.4,517.6 L496.2,517.6 L493.0,517.5 A0.4,1.0 0 0 1 493.0,515.5Z" fill="#989898" stroke="#989898" stroke-width="0.8" stroke-linejoin="round"/>
<path d="M496.2,516.3 L499.4,516.1 L502.5,515.9 L505.7,515.8 L508.9,515.6 L512.1,515.4 L515.3,515.2 L518.5,515.0 L521.6,514.9 L524.8,514.9 L528.0,514.9 L533.0,514.9 L539.5,514.8 L546.1,514.8 L552.6,514.8 L559.1,514.8 L565.6,514.8 L572.2,514.7 L578.7,514.7 L585.2,514.7 L591.7,514.7 L598.3,514.6 L604.8,514.6 L611.3,514.6 L617.8,514.6 L624.4,514.6 L630.9,514.5 L637.4,514.5 L643.9,514.5 L650.5,514.5 L657.0,514.5" stroke="#707070" stroke-width="0.9" fill="none"/>
<path d="M496.2,514.1 L499.4,513.9 L502.5,513.7 L505.7,513.5 L508.9,513.2 L512.1,513.0 L515.3,512.8 L518.5,512.6 L521.6,512.5 L524.8,512.5 L528.0,512.5 L533.0,512.5 L539.5,512.4 L546.1,512.4 L552.6,512.4 L559.1,512.3 L565.6,512.3 L572.2,512.3 L578.7,512.2 L585.2,512.2 L591.7,512.2 L598.3,512.2 L604.8,512.1 L611.3,512.1 L617.8,512.1 L624.4,512.0 L630.9,512.0 L637.4,512.0 L643.9,511.9 L650.5,511.9 L657.0,511.9" stroke="#acacac" stroke-width="1.1" fill="none"/>
<path d="M496.2,518.6 L499.4,518.4 L502.5,518.2 L505.7,518.1 L508.9,517.9 L512.1,517.7 L515.3,517.5 L518.5,517.4 L521.6,517.3 L524.8,517.3 L528.0,517.3 L533.0,517.3 L539.5,517.2 L546.1,517.2 L552.6,517.2 L559.1,517.2 L565.6,517.2 L572.2,517.2 L578.7,517.2 L585.2,517.2 L591.7,517.1 L598.3,517.1 L604.8,517.1 L611.3,517.1 L617.8,517.1 L624.4,517.1 L630.9,517.1 L637.4,517.1 L643.9,517.0 L650.5,517.0 L657.0,517.0" stroke="#a8a8a8" stroke-width="1.1" fill="none"/>
<path d="M496.0,525.6 L499.2,525.2 L502.4,524.9 L505.5,524.5 L508.7,524.1 L511.9,523.8 L515.1,523.4 L518.3,523.1 L521.5,522.8 L524.6,522.6 L527.8,522.4 L531.0,522.2 L536.0,522.2 L542.4,522.2 L548.7,522.2 L555.1,522.2 L561.5,522.2 L567.8,522.2 L574.2,522.2 L580.6,522.2 L586.9,522.2 L593.3,522.2 L599.7,522.2 L606.1,522.2 L612.4,522.2 L618.8,522.2 L625.2,522.2 L631.5,522.2 L637.9,522.2 L644.3,522.2 L650.6,522.2 L657.0,522.2 L657.0,529.1 L650.6,529.1 L644.3,529.1 L637.9,529.1 L631.5,529.1 L625.2,529.1 L618.8,529.1 L612.4,529.1 L606.1,529.1 L599.7,529.1 L593.3,529.1 L586.9,529.1 L580.6,529.1 L574.2,529.1 L567.8,529.1 L561.5,529.1 L555.1,529.1 L548.7,529.1 L542.4,529.1 L536.0,529.1 L531.0,529.1 L527.8,528.9 L524.6,528.7 L521.5,528.5 L518.3,528.3 L515.1,528.2 L511.9,528.1 L508.7,528.0 L505.5,527.9 L502.4,527.8 L499.2,527.7 L496.0,527.6 A0.5,1.0 0 0 1 496.0,525.6Z" fill="#989898" stroke="#989898" stroke-width="0.8" stroke-linejoin="round"/>
<path d="M499.2,526.5 L502.4,526.3 L505.5,526.2 L508.7,526.1 L511.9,526.0 L515.1,525.8 L518.3,525.7 L521.5,525.6 L524.6,525.6 L527.8,525.6 L531.0,525.6 L536.0,525.6 L542.4,525.6 L548.7,525.6 L555.1,525.6 L561.5,525.6 L567.8,525.6 L574.2,525.6 L580.6,525.6 L586.9,525.6 L593.3,525.6 L599.7,525.6 L606.1,525.6 L612.4,525.6 L618.8,525.6 L625.2,525.6 L631.5,525.6 L637.9,525.6 L644.3,525.6 L650.6,525.6 L657.0,525.6" stroke="#707070" stroke-width="0.9" fill="none"/>
<path d="M499.2,524.2 L502.4,524.1 L505.5,523.9 L508.7,523.8 L511.9,523.6 L515.1,523.5 L518.3,523.4 L521.5,523.3 L524.6,523.3 L527.8,523.3 L531.0,523.3 L536.0,523.3 L542.4,523.3 L548.7,523.3 L555.1,523.3 L561.5,523.3 L567.8,523.3 L574.2,523.3 L580.6,523.3 L586.9,523.3 L593.3,523.3 L599.7,523.3 L606.1,523.3 L612.4,523.3 L618.8,523.3 L625.2,523.3 L631.5,523.3 L637.9,523.3 L644.3,523.3 L650.6,523.3 L657.0,523.3" stroke="#acacac" stroke-width="1.1" fill="none"/>
<path d="M499.2,528.7 L502.4,528.6 L505.5,528.5 L508.7,528.4 L511.9,528.3 L515.1,528.2 L518.3,528.1 L521.5,528.0 L524.6,528.0 L527.8,528.0 L531.0,528.0 L536.0,528.0 L542.4,528.0 L548.7,528.0 L555.1,528.0 L561.5,528.0 L567.8,528.0 L574.2,528.0 L580.6,528.0 L586.9,528.0 L593.3,528.0 L599.7,528.0 L606.1,528.0 L612.4,528.0 L618.8,528.0 L625.2,528.0 L631.5,528.0 L637.9,528.0 L644.3,528.0 L650.6,528.0 L657.0,528.0" stroke="#a8a8a8" stroke-width="1.1" fill="none"/>
<path d="M500.0,535.7 L503.2,535.4 L506.4,535.1 L509.5,534.8 L512.7,534.5 L515.9,534.2 L519.1,533.9 L522.3,533.7 L525.5,533.5 L528.6,533.3 L531.8,533.1 L535.0,532.9 L540.0,532.9 L546.2,532.9 L552.3,532.9 L558.5,532.9 L564.6,532.9 L570.8,532.9 L576.9,532.9 L583.1,532.9 L589.3,532.9 L595.4,532.9 L601.6,532.9 L607.7,532.9 L613.9,532.9 L620.1,532.9 L626.2,532.9 L632.4,532.9 L638.5,532.9 L644.7,532.9 L650.8,532.9 L657.0,532.9 L657.0,540.4 L650.8,540.4 L644.7,540.4 L638.5,540.4 L632.4,540.3 L626.2,540.3 L620.1,540.3 L613.9,540.3 L607.7,540.3 L601.6,540.3 L595.4,540.3 L589.3,540.3 L583.1,540.2 L576.9,540.2 L570.8,540.2 L564.6,540.2 L558.5,540.2 L552.3,540.2 L546.2,540.2 L540.0,540.1 L535.0,540.1 L531.8,539.9 L528.6,539.7 L525.5,539.5 L522.3,539.3 L519.1,539.1 L515.9,538.9 L512.7,538.7 L509.5,538.5 L506.4,538.3 L503.2,538.1 L500.0,537.9 A0.5,1.1 0 0 1 500.0,535.7Z" fill="#989898" stroke="#989898" stroke-width="0.8" stroke-linejoin="round"/>
<path d="M503.2,536.7 L506.4,536.7 L509.5,536.6 L512.7,536.6 L515.9,536.6 L519.1,536.5 L522.3,536.5 L525.5,536.5 L528.6,536.5 L531.8,536.5 L535.0,536.5 L540.0,536.5 L546.2,536.5 L552.3,536.5 L558.5,536.5 L564.6,536.5 L570.8,536.6 L576.9,536.6 L583.1,536.6 L589.3,536.6 L595.4,536.6 L601.6,536.6 L607.7,536.6 L613.9,536.6 L620.1,536.6 L626.2,536.6 L632.4,536.6 L638.5,536.6 L644.7,536.6 L650.8,536.6 L657.0,536.6" stroke="#707070" stroke-width="0.9" fill="none"/>
<path d="M503.2,534.4 L506.4,534.4 L509.5,534.3 L512.7,534.2 L515.9,534.2 L519.1,534.1 L522.3,534.1 L525.5,534.1 L528.6,534.1 L531.8,534.1 L535.0,534.1 L540.0,534.1 L546.2,534.1 L552.3,534.1 L558.5,534.1 L564.6,534.1 L570.8,534.1 L576.9,534.1 L583.1,534.1 L589.3,534.1 L595.4,534.1 L601.6,534.1 L607.7,534.1 L613.9,534.1 L620.1,534.1 L626.2,534.1 L632.4,534.1 L638.5,534.2 L644.7,534.2 L650.8,534.2 L657.0,534.2" stroke="#acacac" stroke-width="1.1" fill="none"/>
<path d="M503.2,539.1 L506.4,539.0 L509.5,539.0 L512.7,539.0 L515.9,539.0 L519.1,538.9 L522.3,538.9 L525.5,538.9 L528.6,538.9 L531.8,538.9 L535.0,538.9 L540.0,539.0 L546.2,539.0 L552.3,539.0 L558.5,539.0 L564.6,539.0 L570.8,539.0 L576.9,539.0 L583.1,539.0 L589.3,539.0 L595.4,539.0 L601.6,539.0 L607.7,539.1 L613.9,539.1 L620.1,539.1 L626.2,539.1 L632.4,539.1 L638.5,539.1 L644.7,539.1 L650.8,539.1 L657.0,539.1" stroke="#a8a8a8" stroke-width="1.1" fill="none"/>
<path d="M506.9,546.1 L510.1,545.9 L513.3,545.7 L516.4,545.5 L519.6,545.3 L522.8,545.1 L526.0,544.9 L529.2,544.7 L532.4,544.5 L535.5,544.3 L538.7,544.1 L541.9,543.9 L546.9,544.0 L552.7,544.0 L558.5,544.0 L564.3,544.0 L570.1,544.0 L575.9,544.0 L581.7,544.0 L587.5,544.0 L593.3,544.1 L599.1,544.1 L604.8,544.1 L610.6,544.1 L616.4,544.1 L622.2,544.1 L628.0,544.1 L633.8,544.1 L639.6,544.2 L645.4,544.2 L651.2,544.2 L657.0,544.2 L657.0,551.6 L651.2,551.5 L645.4,551.5 L639.6,551.4 L633.8,551.3 L628.0,551.3 L622.2,551.2 L616.4,551.2 L610.6,551.1 L604.8,551.0 L599.1,551.0 L593.3,550.9 L587.5,550.8 L581.7,550.8 L575.9,550.7 L570.1,550.6 L564.3,550.6 L558.5,550.5 L552.7,550.5 L546.9,550.4 L541.9,550.3 L538.7,550.1 L535.5,549.9 L532.4,549.6 L529.2,549.4 L526.0,549.2 L522.8,548.9 L519.6,548.7 L516.4,548.4 L513.3,548.1 L510.1,547.8 L506.9,547.5 A0.3,0.7 0 0 1 506.9,546.1Z" fill="#989898" stroke="#989898" stroke-width="0.8" stroke-linejoin="round"/>
<path d="M510.1,546.9 L513.3,546.9 L516.4,546.9 L519.6,547.0 L522.8,547.0 L526.0,547.0 L529.2,547.1 L532.4,547.1 L535.5,547.1 L538.7,547.1 L541.9,547.1 L546.9,547.2 L552.7,547.2 L558.5,547.3 L564.3,547.3 L570.1,547.3 L575.9,547.4 L581.7,547.4 L587.5,547.4 L593.3,547.5 L599.1,547.5 L604.8,547.6 L610.6,547.6 L616.4,547.6 L622.2,547.7 L628.0,547.7 L633.8,547.7 L639.6,547.8 L645.4,547.8 L651.2,547.9 L657.0,547.9" stroke="#707070" stroke-width="0.9" fill="none"/>
<path d="M510.1,544.7 L513.3,544.7 L516.4,544.8 L519.6,544.8 L522.8,544.8 L526.0,544.8 L529.2,544.8 L532.4,544.9 L535.5,544.9 L538.7,544.9 L541.9,544.9 L546.9,544.9 L552.7,545.0 L558.5,545.0 L564.3,545.0 L570.1,545.0 L575.9,545.1 L581.7,545.1 L587.5,545.1 L593.3,545.1 L599.1,545.2 L604.8,545.2 L610.6,545.2 L616.4,545.2 L622.2,545.3 L628.0,545.3 L633.8,545.3 L639.6,545.4 L645.4,545.4 L651.2,545.4 L657.0,545.4" stroke="#acacac" stroke-width="1.1" fill="none"/>
<path d="M510.1,549.0 L513.3,549.1 L516.4,549.1 L519.6,549.2 L522.8,549.2 L526.0,549.3 L529.2,549.3 L532.4,549.3 L535.5,549.3 L538.7,549.4 L541.9,549.4 L546.9,549.4 L552.7,549.5 L558.5,549.5 L564.3,549.6 L570.1,549.6 L575.9,549.7 L581.7,549.7 L587.5,549.8 L593.3,549.8 L599.1,549.9 L604.8,549.9 L610.6,550.0 L616.4,550.0 L622.2,550.1 L628.0,550.1 L633.8,550.2 L639.6,550.2 L645.4,550.3 L651.2,550.3 L657.0,550.4" stroke="#a8a8a8" stroke-width="1.1" fill="none"/>
<path d="M485.0,555.1 L488.2,555.0 L491.4,554.9 L494.5,554.8 L497.7,554.7 L500.9,554.6 L504.1,554.4 L507.3,554.3 L510.5,554.2 L513.6,554.1 L516.8,554.0 L520.0,553.9 L525.0,554.0 L531.9,554.0 L538.9,554.1 L545.8,554.2 L552.8,554.3 L559.7,554.3 L566.7,554.4 L573.6,554.5 L580.6,554.6 L587.5,554.6 L594.5,554.7 L601.4,554.8 L608.4,554.9 L615.3,554.9 L622.3,555.0 L629.2,555.1 L636.2,555.2 L643.1,555.2 L650.1,555.3 L657.0,555.4 L657.0,561.7 L650.1,561.6 L643.1,561.6 L636.2,561.5 L629.2,561.4 L622.3,561.4 L615.3,561.3 L608.4,561.2 L601.4,561.2 L594.5,561.1 L587.5,561.0 L580.6,561.0 L573.6,560.9 L566.7,560.8 L559.7,560.8 L552.8,560.7 L545.8,560.6 L538.9,560.6 L531.9,560.5 L525.0,560.4 L520.0,560.4 L516.8,559.9 L513.6,559.5 L510.5,559.0 L507.3,558.6 L504.1,558.1 L500.9,557.7 L497.7,557.2 L494.5,556.8 L491.4,556.3 L488.2,555.9 L485.0,555.4 A0.1,0.1 0 0 1 485.0,555.1Z" fill="#989898" stroke="#989898" stroke-width="0.8" stroke-linejoin="round"/>
<path d="M488.2,555.4 L491.4,555.6 L494.5,555.8 L497.7,555.9 L500.9,556.1 L504.1,556.3 L507.3,556.5 L510.5,556.6 L513.6,556.8 L516.8,557.0 L520.0,557.1 L525.0,557.2 L531.9,557.3 L538.9,557.3 L545.8,557.4 L552.8,557.5 L559.7,557.6 L566.7,557.6 L573.6,557.7 L580.6,557.8 L587.5,557.8 L594.5,557.9 L601.4,558.0 L608.4,558.1 L615.3,558.1 L622.3,558.2 L629.2,558.3 L636.2,558.3 L643.1,558.4 L650.1,558.5 L657.0,558.5" stroke="#707070" stroke-width="0.9" fill="none"/>
<path d="M488.2,553.5 L491.4,553.7 L494.5,553.8 L497.7,553.9 L500.9,554.1 L504.1,554.2 L507.3,554.3 L510.5,554.5 L513.6,554.6 L516.8,554.7 L520.0,554.9 L525.0,554.9 L531.9,555.0 L538.9,555.1 L545.8,555.2 L552.8,555.2 L559.7,555.3 L566.7,555.4 L573.6,555.4 L580.6,555.5 L587.5,555.6 L594.5,555.7 L601.4,555.7 L608.4,555.8 L615.3,555.9 L622.3,556.0 L629.2,556.0 L636.2,556.1 L643.1,556.2 L650.1,556.3 L657.0,556.3" stroke="#acacac" stroke-width="1.1" fill="none"/>
<path d="M488.2,557.3 L491.4,557.5 L494.5,557.7 L497.7,558.0 L500.9,558.2 L504.1,558.4 L507.3,558.6 L510.5,558.8 L513.6,559.0 L516.8,559.2 L520.0,559.4 L525.0,559.5 L531.9,559.5 L538.9,559.6 L545.8,559.7 L552.8,559.7 L559.7,559.8 L566.7,559.9 L573.6,559.9 L580.6,560.0 L587.5,560.1 L594.5,560.2 L601.4,560.2 L608.4,560.3 L615.3,560.4 L622.3,560.4 L629.2,560.5 L636.2,560.6 L643.1,560.6 L650.1,560.7 L657.0,560.8" stroke="#a8a8a8" stroke-width="1.1" fill="none"/>
<path d="M402,515.5 C412,512.5 420,512.0 430,512.0" stroke="#4a4a4a" stroke-width="0.9" fill="none"/>
<path d="M402,517.3 C412,515.5 420,518.0 430,518.0" stroke="#5a5a5a" stroke-width="0.9" fill="none"/>
<path d="M402,519.1 C412,518.5 420,524.0 430,524.0" stroke="#505050" stroke-width="0.9" fill="none"/>
<path d="M402,520.9 C412,521.5 420,530.0 430,530.0" stroke="#484848" stroke-width="0.9" fill="none"/>
<path d="M402,522.7 C412,524.5 420,536.0 430,536.0" stroke="#404040" stroke-width="0.9" fill="none"/>
<path d="M402,524.5 C412,527.5 420,542.0 430,542.0" stroke="#383838" stroke-width="0.9" fill="none"/>
<path d="M436.8,504.1 L438.8,502.5 L441.4,500.3 L444.6,497.7 L448.2,494.9 L452.0,492.2 L456.0,489.8 L460.2,487.6 L464.7,485.3 L469.5,483.2 L474.5,481.2 L479.7,479.4 L485.0,478.0 L489.3,477.0 L492.4,476.3 L495.8,475.9 L500.6,475.6 L508.2,475.4 L520.0,475.2 L538.5,475.0 L563.2,474.8 L590.7,474.7 L617.7,474.6 L640.9,474.6 L657.0,474.5" stroke="url(#gFw)" stroke-width="1.5" fill="none" stroke-linecap="round"/>
<path d="M431.0,511.7 L433.7,510.4 L437.3,508.6 L441.7,506.4 L446.4,504.2 L451.3,502.0 L456.0,500.0 L460.5,498.2 L465.1,496.5 L469.9,494.7 L474.7,493.1 L479.8,491.7 L485.0,490.5 L489.3,489.5 L492.4,488.8 L495.8,488.2 L500.6,487.7 L508.2,487.3 L520.0,486.9 L538.5,486.5 L563.2,486.2 L590.7,486.0 L617.7,485.8 L640.9,485.6 L657.0,485.5" stroke="url(#gFw)" stroke-width="1.5" fill="none" stroke-linecap="round"/>
<path d="M430.2,517.6 L433.0,516.4 L436.8,514.8 L441.3,512.9 L446.2,510.9 L451.2,509.0 L456.0,507.5 L460.6,506.3 L465.2,505.2 L469.9,504.3 L474.8,503.5 L479.8,502.7 L485.0,502.0 L489.3,501.3 L492.4,500.6 L495.8,500.1 L500.6,499.5 L508.2,499.0 L520.0,498.6 L538.5,498.2 L563.2,497.9 L590.7,497.6 L617.7,497.3 L640.9,497.2 L657.0,497.0" stroke="url(#gFw)" stroke-width="1.5" fill="none" stroke-linecap="round"/>
<path d="M428.5,524.0 L431.5,523.1 L435.6,521.8 L440.4,520.2 L445.7,518.7 L451.0,517.2 L456.0,516.0 L460.7,515.1 L465.3,514.3 L470.0,513.7 L474.8,513.1 L479.8,512.5 L485.0,512.0 L489.3,511.5 L492.4,511.0 L495.8,510.6 L500.6,510.2 L508.2,509.8 L520.0,509.5 L538.5,509.2 L563.2,509.0 L590.7,508.9 L617.7,508.8 L640.9,508.7 L657.0,508.6" stroke="url(#gFw)" stroke-width="1.5" fill="none" stroke-linecap="round"/>
<path d="M426.3,530.8 L429.5,530.3 L434.0,529.5 L439.3,528.6 L445.1,527.7 L450.7,526.8 L456.0,526.0 L460.8,525.3 L465.5,524.5 L470.2,523.8 L474.9,523.1 L479.8,522.5 L485.0,522.0 L489.3,521.6 L492.4,521.2 L495.8,520.9 L500.6,520.7 L508.2,520.5 L520.0,520.3 L538.5,520.2 L563.2,520.2 L590.7,520.2 L617.7,520.2 L640.9,520.3 L657.0,520.3" stroke="url(#gFw)" stroke-width="1.5" fill="none" stroke-linecap="round"/>
<path d="M427.2,536.5 L430.3,536.2 L434.7,535.8 L439.8,535.4 L445.3,534.9 L450.9,534.4 L456.0,534.0 L460.8,533.6 L465.4,533.3 L470.1,532.9 L474.9,532.6 L479.8,532.3 L485.0,532.0 L489.3,531.8 L492.4,531.6 L495.8,531.4 L500.6,531.2 L508.2,531.1 L520.0,531.0 L538.5,530.9 L563.2,530.9 L590.7,530.9 L617.7,531.0 L640.9,531.0 L657.0,531.0" stroke="url(#gFw)" stroke-width="1.5" fill="none" stroke-linecap="round"/>
<path d="M427.2,543.0 L430.3,542.9 L434.7,542.7 L439.8,542.5 L445.3,542.3 L450.9,542.1 L456.0,542.0 L460.8,541.9 L465.4,541.9 L470.1,541.9 L474.9,542.0 L479.8,542.0 L485.0,542.0 L489.3,542.0 L492.4,542.0 L495.8,542.0 L500.6,542.0 L508.2,542.0 L520.0,542.0 L538.5,542.0 L563.2,542.1 L590.7,542.1 L617.7,542.2 L640.9,542.3 L657.0,542.3" stroke="url(#gFw)" stroke-width="1.5" fill="none" stroke-linecap="round"/>
<path d="M426.3,548.3 L429.5,548.4 L434.0,548.6 L439.3,548.8 L445.1,549.0 L450.7,549.3 L456.0,549.5 L460.8,549.7 L465.5,550.0 L470.2,550.3 L474.9,550.5 L479.8,550.8 L485.0,551.0 L489.3,551.2 L492.4,551.4 L495.8,551.5 L500.6,551.6 L508.2,551.8 L520.0,552.0 L538.5,552.2 L563.2,552.5 L590.7,552.8 L617.7,553.1 L640.9,553.3 L657.0,553.5" stroke="url(#gFw)" stroke-width="1.5" fill="none" stroke-linecap="round"/>
<path d="M430.7,555.3 L433.4,555.5 L437.1,555.9 L441.5,556.3 L446.4,556.7 L451.3,557.1 L456.0,557.5 L460.5,557.8 L465.2,558.2 L469.9,558.5 L474.8,558.8 L479.8,559.1 L485.0,559.5 L489.3,559.9 L492.4,560.4 L495.8,560.9 L500.6,561.4 L508.2,561.9 L520.0,562.3 L538.5,562.6 L563.2,562.9 L590.7,563.1 L617.7,563.3 L640.9,563.5 L657.0,563.6" stroke="url(#gFw)" stroke-width="1.5" fill="none" stroke-linecap="round"/>
</g>
<rect x="510" y="455.4" width="114" height="116.1" rx="12" fill="none" stroke="#f2f2f2" stroke-width="1.1" stroke-dasharray="5 3.5"/>
<text x="425.30" y="467.10" font-size="14.7" font-weight="bold" text-anchor="start" fill="#fff" >Upy-QSE</text>
<text x="404.50" y="572.20" font-size="11.2" font-weight="bold" text-anchor="start" fill="#fff" >Compressed <tspan font-weight="normal">sheets</tspan></text>
<line x1="49.5" y1="445.85" x2="660" y2="445.85" stroke="#5bbfee" stroke-width="3.7" stroke-dasharray="14.8 11.09"/>
<line x1="661.4" y1="455.1" x2="661.4" y2="586" stroke="#5bbfee" stroke-width="3.4" stroke-dasharray="14.6 11.2"/>
<line x1="54.2" y1="585" x2="663.1" y2="585" stroke="#5bbfee" stroke-width="3.8" stroke-dasharray="14.7 11.1"/>
<line x1="51.1" y1="459" x2="51.1" y2="580" stroke="#5bbfee" stroke-width="3.2" stroke-dasharray="14.5 11.3"/>
<text x="13.50" y="469.00" font-size="20" font-weight="bold" text-anchor="start" fill="#000" >e</text>
<text x="371.20" y="472.50" font-size="20" font-weight="bold" text-anchor="start" fill="#000" >f</text>
</svg></body></html>
